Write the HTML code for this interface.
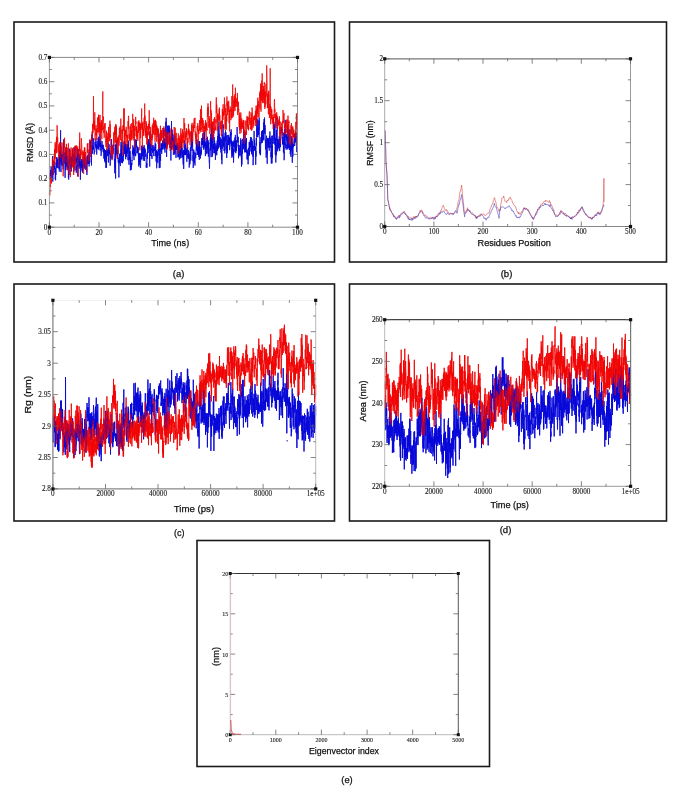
<!DOCTYPE html>
<html><head><meta charset="utf-8"><style>
html,body{margin:0;padding:0;background:#fff;}
svg{display:block;filter:blur(0.3px);}
</style></head><body>
<svg width="685" height="791" viewBox="0 0 685 791">
<rect width="685" height="791" fill="#fff"/>
<rect x="14" y="22" width="320.5" height="240" fill="none" stroke="#1a1a1a" stroke-width="1.6"/>
<rect x="349.5" y="22" width="317.0" height="240" fill="none" stroke="#1a1a1a" stroke-width="1.6"/>
<rect x="14" y="284" width="320.5" height="237" fill="none" stroke="#1a1a1a" stroke-width="1.6"/>
<rect x="349.5" y="284" width="317.0" height="237" fill="none" stroke="#1a1a1a" stroke-width="1.6"/>
<rect x="197" y="540.5" width="292.5" height="226.0" fill="none" stroke="#1a1a1a" stroke-width="1.6"/>
<polyline id="s1" points="49.4,177.9 49.5,176.4 49.7,173.0 49.8,179.6 50.0,176.3 50.1,175.4 50.2,176.0 50.4,176.0 50.5,174.9 50.6,170.5 50.8,174.3 50.9,169.4 51.1,168.1 51.2,166.8 51.3,178.3 51.5,169.9 51.6,170.3 51.7,170.4 51.9,177.4 52.0,171.0 52.2,175.5 52.3,168.9 52.4,166.0 52.6,156.1 52.7,174.7 52.8,181.6 53.0,172.8 53.1,172.9 53.3,174.8 53.4,167.9 53.5,163.8 53.7,173.2 53.8,170.9 54.0,165.5 54.1,163.3 54.2,161.3 54.4,166.5 54.5,169.8 54.6,166.1 54.8,167.7 54.9,171.5 55.1,172.6 55.2,171.0 55.3,179.2 55.5,170.6 55.6,180.3 55.7,168.2 55.9,174.9 56.0,163.1 56.2,162.4 56.3,167.7 56.4,164.3 56.6,165.6 56.7,157.1 56.8,159.3 57.0,168.2 57.1,157.8 57.3,161.7 57.4,160.8 57.5,164.4 57.7,162.7 57.8,167.8 58.0,162.6 58.1,159.7 58.2,163.5 58.4,166.7 58.5,163.7 58.6,164.9 58.8,165.3 58.9,168.6 59.1,158.2 59.2,161.1 59.3,171.5 59.5,155.8 59.6,164.0 59.7,150.3 59.9,161.8 60.0,153.0 60.2,151.7 60.3,157.5 60.4,148.6 60.6,130.2 60.7,160.1 60.8,167.9 61.0,172.1 61.1,157.2 61.3,162.6 61.4,165.2 61.5,154.4 61.7,156.7 61.8,160.4 61.9,154.5 62.1,158.3 62.2,157.9 62.4,157.8 62.5,157.1 62.6,154.0 62.8,166.2 62.9,163.1 63.1,160.9 63.2,169.4 63.3,160.5 63.5,155.3 63.6,151.1 63.7,139.4 63.9,159.7 64.0,161.9 64.2,163.0 64.3,156.4 64.4,158.6 64.6,162.8 64.7,163.7 64.8,163.6 65.0,152.7 65.1,177.8 65.3,152.4 65.4,163.5 65.5,169.9 65.7,161.3 65.8,166.1 65.9,148.1 66.1,163.0 66.2,166.7 66.4,162.2 66.5,151.0 66.6,162.2 66.8,165.4 66.9,161.6 67.1,169.7 67.2,162.5 67.3,164.6 67.5,167.8 67.6,158.5 67.7,156.4 67.9,167.4 68.0,162.2 68.2,159.7 68.3,163.5 68.4,177.6 68.6,173.7 68.7,179.6 68.8,165.4 69.0,163.0 69.1,163.1 69.3,158.4 69.4,164.1 69.5,163.0 69.7,148.6 69.8,160.1 69.9,160.6 70.1,159.0 70.2,161.3 70.4,168.8 70.5,165.0 70.6,167.2 70.8,157.2 70.9,156.0 71.1,162.2 71.2,171.4 71.3,171.6 71.5,162.7 71.6,157.2 71.7,165.1 71.9,165.8 72.0,159.6 72.2,159.0 72.3,153.3 72.4,154.8 72.6,148.6 72.7,161.3 72.8,160.2 73.0,160.9 73.1,154.0 73.3,159.9 73.4,159.2 73.5,160.3 73.7,162.8 73.8,171.9 73.9,158.0 74.1,156.0 74.2,155.4 74.4,157.6 74.5,162.5 74.6,156.6 74.8,146.7 74.9,155.0 75.1,160.9 75.2,161.9 75.3,164.1 75.5,163.6 75.6,157.5 75.7,156.3 75.9,158.9 76.0,170.5 76.2,165.7 76.3,172.8 76.4,163.5 76.6,160.9 76.7,157.8 76.8,162.1 77.0,158.0 77.1,149.0 77.3,160.2 77.4,152.9 77.5,155.9 77.7,158.3 77.8,176.3 77.9,161.7 78.1,167.3 78.2,149.0 78.4,166.0 78.5,162.6 78.6,155.1 78.8,159.5 78.9,156.3 79.1,168.7 79.2,163.9 79.3,153.9 79.5,166.2 79.6,163.0 79.7,166.0 79.9,161.4 80.0,160.6 80.2,156.6 80.3,173.9 80.4,179.7 80.6,167.7 80.7,167.0 80.8,161.6 81.0,165.3 81.1,167.8 81.3,160.6 81.4,159.1 81.5,168.1 81.7,167.3 81.8,161.1 81.9,169.0 82.1,171.0 82.2,159.4 82.4,172.6 82.5,166.9 82.6,166.1 82.8,164.5 82.9,168.7 83.1,165.8 83.2,159.7 83.3,166.1 83.5,165.6 83.6,158.5 83.7,157.0 83.9,156.6 84.0,154.2 84.2,158.5 84.3,168.6 84.4,158.7 84.6,160.9 84.7,166.6 84.8,164.6 85.0,163.7 85.1,157.4 85.3,159.1 85.4,169.7 85.5,167.3 85.7,168.1 85.8,167.1 85.9,165.8 86.1,166.7 86.2,167.3 86.4,160.6 86.5,171.3 86.6,166.7 86.8,163.9 86.9,174.9 87.0,156.4 87.2,158.5 87.3,164.1 87.5,159.3 87.6,155.7 87.7,159.8 87.9,163.9 88.0,156.2 88.2,155.0 88.3,159.9 88.4,161.0 88.6,163.9 88.7,160.2 88.8,162.2 89.0,152.1 89.1,166.4 89.3,161.5 89.4,163.3 89.5,156.4 89.7,158.8 89.8,162.5 89.9,139.9 90.1,152.3 90.2,153.8 90.4,150.7 90.5,141.0 90.6,144.5 90.8,145.1 90.9,146.6 91.0,150.0 91.2,151.0 91.3,153.0 91.5,165.5 91.6,146.0 91.7,148.8 91.9,134.8 92.0,135.7 92.2,138.3 92.3,140.3 92.4,133.7 92.6,153.7 92.7,147.6 92.8,145.8 93.0,150.0 93.1,145.6 93.3,149.2 93.4,138.3 93.5,141.2 93.7,141.8 93.8,146.3 93.9,148.3 94.1,149.8 94.2,154.4 94.4,153.5 94.5,150.9 94.6,150.9 94.8,151.6 94.9,146.9 95.0,141.8 95.2,144.9 95.3,145.2 95.5,144.7 95.6,146.0 95.7,146.7 95.9,138.5 96.0,147.9 96.2,146.5 96.3,149.4 96.4,144.4 96.6,147.8 96.7,154.5 96.8,151.4 97.0,143.7 97.1,141.2 97.3,144.1 97.4,147.0 97.5,148.5 97.7,147.2 97.8,146.0 97.9,148.3 98.1,141.1 98.2,138.0 98.4,149.6 98.5,140.1 98.6,145.5 98.8,136.7 98.9,142.3 99.0,145.0 99.2,139.7 99.3,147.1 99.5,145.0 99.6,144.1 99.7,141.4 99.9,134.6 100.0,148.4 100.2,150.6 100.3,144.2 100.4,141.1 100.6,146.9 100.7,139.4 100.8,139.4 101.0,148.4 101.1,155.9 101.3,153.5 101.4,145.1 101.5,145.0 101.7,148.2 101.8,145.4 101.9,142.7 102.1,141.2 102.2,149.4 102.4,146.3 102.5,146.6 102.6,145.5 102.8,144.6 102.9,149.0 103.0,150.3 103.2,152.2 103.3,145.2 103.5,146.5 103.6,147.0 103.7,153.1 103.9,158.6 104.0,148.6 104.2,152.1 104.3,149.1 104.4,151.0 104.6,161.1 104.7,154.3 104.8,153.4 105.0,152.8 105.1,162.5 105.3,151.8 105.4,151.9 105.5,150.0 105.7,157.4 105.8,150.7 105.9,168.0 106.1,158.8 106.2,155.9 106.4,165.1 106.5,167.6 106.6,158.8 106.8,148.9 106.9,151.1 107.0,155.9 107.2,150.4 107.3,152.5 107.5,153.6 107.6,153.0 107.7,156.1 107.9,150.4 108.0,151.0 108.1,142.7 108.3,151.3 108.4,162.5 108.6,157.4 108.7,148.5 108.8,152.2 109.0,154.8 109.1,144.3 109.3,152.6 109.4,152.9 109.5,153.5 109.7,150.4 109.8,152.2 109.9,158.1 110.1,165.5 110.2,165.7 110.4,164.2 110.5,154.3 110.6,153.8 110.8,153.5 110.9,157.9 111.0,151.5 111.2,149.8 111.3,144.1 111.5,139.1 111.6,139.9 111.7,154.8 111.9,157.9 112.0,159.3 112.1,155.9 112.3,158.1 112.4,156.5 112.6,152.9 112.7,148.6 112.8,146.0 113.0,144.8 113.1,145.6 113.3,147.9 113.4,144.7 113.5,151.4 113.7,149.7 113.8,147.6 113.9,150.2 114.1,153.9 114.2,157.2 114.4,160.4 114.5,160.3 114.6,159.7 114.8,173.3 114.9,159.0 115.0,167.3 115.2,158.7 115.3,144.8 115.5,163.5 115.6,178.6 115.7,153.9 115.9,150.1 116.0,153.8 116.1,143.5 116.3,154.5 116.4,145.2 116.6,140.9 116.7,148.0 116.8,148.3 117.0,154.4 117.1,154.4 117.3,157.3 117.4,149.6 117.5,152.2 117.7,154.1 117.8,150.2 117.9,159.1 118.1,157.7 118.2,162.3 118.4,160.7 118.5,160.2 118.6,161.0 118.8,170.0 118.9,177.5 119.0,158.6 119.2,162.8 119.3,158.7 119.5,154.2 119.6,154.2 119.7,163.4 119.9,160.6 120.0,153.5 120.1,160.8 120.3,166.1 120.4,161.5 120.6,159.0 120.7,156.5 120.8,151.7 121.0,142.0 121.1,156.2 121.3,149.2 121.4,162.8 121.5,145.1 121.7,146.0 121.8,148.5 121.9,144.8 122.1,142.4 122.2,162.4 122.4,157.0 122.5,163.2 122.6,160.0 122.8,162.0 122.9,157.8 123.0,155.9 123.2,160.9 123.3,152.7 123.5,156.8 123.6,149.3 123.7,145.6 123.9,142.5 124.0,141.3 124.1,150.8 124.3,147.5 124.4,149.9 124.6,153.3 124.7,141.3 124.8,150.6 125.0,154.0 125.1,150.9 125.3,155.3 125.4,143.5 125.5,156.1 125.7,159.2 125.8,157.4 125.9,153.6 126.1,153.0 126.2,143.9 126.4,157.0 126.5,149.3 126.6,153.3 126.8,151.5 126.9,153.8 127.0,148.6 127.2,145.6 127.3,152.4 127.5,147.7 127.6,143.7 127.7,144.9 127.9,150.9 128.0,160.2 128.1,148.8 128.3,143.8 128.4,149.6 128.6,140.5 128.7,155.5 128.8,158.8 129.0,164.7 129.1,158.4 129.2,160.1 129.4,155.4 129.5,159.2 129.7,147.7 129.8,158.7 129.9,153.2 130.1,151.1 130.2,153.1 130.4,170.3 130.5,159.4 130.6,157.3 130.8,167.1 130.9,164.5 131.0,164.4 131.2,163.3 131.3,169.9 131.5,163.4 131.6,162.8 131.7,163.2 131.9,165.1 132.0,160.1 132.1,161.1 132.3,152.7 132.4,150.5 132.6,151.7 132.7,154.2 132.8,145.3 133.0,148.5 133.1,152.2 133.2,153.4 133.4,150.6 133.5,147.5 133.7,156.0 133.8,151.2 133.9,159.7 134.1,160.1 134.2,150.2 134.4,154.4 134.5,146.7 134.6,147.7 134.8,150.9 134.9,143.6 135.0,139.4 135.2,146.8 135.3,152.6 135.5,156.2 135.6,153.3 135.7,155.6 135.9,148.7 136.0,139.5 136.1,139.9 136.3,147.3 136.4,140.0 136.6,146.5 136.7,145.5 136.8,149.3 137.0,152.9 137.1,151.5 137.2,153.3 137.4,150.4 137.5,146.7 137.7,151.5 137.8,148.0 137.9,152.5 138.1,147.2 138.2,151.8 138.4,156.3 138.5,158.8 138.6,162.5 138.8,166.5 138.9,153.3 139.0,159.6 139.2,152.9 139.3,165.0 139.5,156.9 139.6,155.1 139.7,159.9 139.9,161.0 140.0,162.3 140.1,153.2 140.3,167.9 140.4,167.9 140.6,167.9 140.7,159.6 140.8,156.1 141.0,160.1 141.1,159.0 141.2,153.5 141.4,155.9 141.5,145.7 141.7,148.1 141.8,159.0 141.9,158.1 142.1,156.4 142.2,153.9 142.4,149.0 142.5,147.3 142.6,156.3 142.8,152.0 142.9,146.4 143.0,150.2 143.2,150.9 143.3,160.5 143.5,155.5 143.6,149.6 143.7,150.3 143.9,147.0 144.0,154.3 144.1,145.0 144.3,147.7 144.4,161.0 144.6,154.2 144.7,153.4 144.8,149.3 145.0,148.4 145.1,152.6 145.2,151.1 145.4,149.7 145.5,151.9 145.7,156.7 145.8,156.1 145.9,154.0 146.1,157.4 146.2,167.7 146.4,165.0 146.5,165.6 146.6,162.8 146.8,163.2 146.9,166.0 147.0,167.7 147.2,152.5 147.3,158.8 147.5,154.2 147.6,141.9 147.7,143.7 147.9,149.1 148.0,145.5 148.1,153.1 148.3,149.9 148.4,139.3 148.6,145.4 148.7,147.5 148.8,139.7 149.0,140.5 149.1,143.2 149.2,146.1 149.4,142.8 149.5,152.4 149.7,166.5 149.8,149.6 149.9,131.6 150.1,141.7 150.2,141.6 150.4,156.0 150.5,149.5 150.6,144.3 150.8,151.0 150.9,143.8 151.0,150.2 151.2,148.2 151.3,148.4 151.5,155.9 151.6,156.6 151.7,154.9 151.9,156.4 152.0,159.0 152.1,145.7 152.3,145.6 152.4,147.1 152.6,148.5 152.7,153.0 152.8,150.7 153.0,151.8 153.1,145.0 153.2,150.3 153.4,150.2 153.5,148.8 153.7,152.9 153.8,156.1 153.9,152.4 154.1,146.6 154.2,149.2 154.3,149.3 154.5,150.2 154.6,149.9 154.8,149.1 154.9,150.7 155.0,148.4 155.2,142.4 155.3,156.2 155.5,154.4 155.6,148.4 155.7,143.9 155.9,150.7 156.0,150.1 156.1,161.5 156.3,158.3 156.4,150.3 156.6,167.4 156.7,168.3 156.8,165.1 157.0,162.5 157.1,156.8 157.2,151.7 157.4,155.0 157.5,157.6 157.7,152.5 157.8,162.8 157.9,151.4 158.1,155.5 158.2,149.1 158.3,151.9 158.5,151.3 158.6,148.4 158.8,147.7 158.9,134.0 159.0,149.3 159.2,149.1 159.3,168.1 159.5,148.2 159.6,150.1 159.7,141.5 159.9,144.4 160.0,167.7 160.1,157.4 160.3,154.1 160.4,157.1 160.6,160.8 160.7,150.6 160.8,148.2 161.0,151.4 161.1,145.2 161.2,143.5 161.4,151.5 161.5,143.4 161.7,153.9 161.8,147.7 161.9,149.4 162.1,145.4 162.2,148.4 162.3,148.7 162.5,146.5 162.6,148.6 162.8,141.1 162.9,149.6 163.0,140.0 163.2,144.5 163.3,146.4 163.5,139.3 163.6,135.6 163.7,128.3 163.9,136.2 164.0,148.5 164.1,141.5 164.3,138.4 164.4,141.1 164.6,149.2 164.7,141.7 164.8,148.6 165.0,152.6 165.1,145.3 165.2,147.7 165.4,142.0 165.5,148.1 165.7,142.7 165.8,121.8 165.9,136.8 166.1,131.9 166.2,117.8 166.3,137.1 166.5,149.7 166.6,156.9 166.8,142.6 166.9,146.6 167.0,136.0 167.2,142.4 167.3,145.6 167.5,130.9 167.6,135.0 167.7,126.1 167.9,130.6 168.0,125.3 168.1,125.6 168.3,132.2 168.4,126.5 168.6,128.5 168.7,132.4 168.8,128.1 169.0,129.3 169.1,131.5 169.2,133.3 169.4,125.7 169.5,141.3 169.7,137.8 169.8,147.8 169.9,141.8 170.1,143.5 170.2,140.4 170.3,143.7 170.5,143.5 170.6,137.8 170.8,149.4 170.9,160.5 171.0,137.2 171.2,140.5 171.3,149.7 171.5,121.0 171.6,137.0 171.7,130.7 171.9,135.6 172.0,130.5 172.1,129.5 172.3,141.7 172.4,138.6 172.6,141.9 172.7,133.9 172.8,136.4 173.0,139.1 173.1,147.7 173.2,138.3 173.4,154.8 173.5,147.1 173.7,144.2 173.8,148.3 173.9,142.8 174.1,134.7 174.2,149.3 174.3,145.7 174.5,144.0 174.6,154.5 174.8,147.5 174.9,153.3 175.0,136.0 175.2,150.5 175.3,148.8 175.4,145.0 175.6,149.0 175.7,150.5 175.9,151.9 176.0,157.9 176.1,148.3 176.3,145.5 176.4,150.0 176.6,144.6 176.7,147.0 176.8,145.1 177.0,148.9 177.1,143.2 177.2,144.3 177.4,149.7 177.5,148.8 177.7,144.9 177.8,146.3 177.9,157.2 178.1,145.6 178.2,151.8 178.3,157.0 178.5,157.0 178.6,151.4 178.8,151.6 178.9,151.4 179.0,152.4 179.2,149.8 179.3,156.8 179.4,159.6 179.6,149.8 179.7,153.6 179.9,148.8 180.0,146.6 180.1,147.9 180.3,143.7 180.4,158.3 180.6,150.4 180.7,155.9 180.8,151.7 181.0,148.3 181.1,153.3 181.2,153.1 181.4,142.7 181.5,149.1 181.7,147.4 181.8,156.0 181.9,157.9 182.1,148.9 182.2,147.8 182.3,152.6 182.5,156.7 182.6,152.6 182.8,153.7 182.9,153.4 183.0,157.1 183.2,164.6 183.3,150.0 183.4,159.5 183.6,155.0 183.7,168.9 183.9,150.7 184.0,151.8 184.1,154.6 184.3,140.2 184.4,144.1 184.6,154.9 184.7,151.8 184.8,154.8 185.0,152.5 185.1,148.4 185.2,146.8 185.4,145.2 185.5,154.7 185.7,150.1 185.8,143.5 185.9,145.8 186.1,148.8 186.2,155.3 186.3,148.6 186.5,153.6 186.6,150.8 186.8,161.8 186.9,156.9 187.0,157.1 187.2,154.9 187.3,152.6 187.4,149.6 187.6,147.3 187.7,151.4 187.9,153.9 188.0,158.0 188.1,153.6 188.3,159.0 188.4,150.1 188.6,151.6 188.7,156.6 188.8,151.6 189.0,155.9 189.1,162.4 189.2,167.5 189.4,164.5 189.5,162.9 189.7,162.0 189.8,154.4 189.9,164.4 190.1,153.9 190.2,149.7 190.3,147.8 190.5,147.3 190.6,147.8 190.8,160.5 190.9,150.0 191.0,147.3 191.2,144.7 191.3,147.6 191.4,146.0 191.6,147.0 191.7,131.7 191.9,145.6 192.0,150.9 192.1,139.0 192.3,139.1 192.4,145.4 192.6,142.2 192.7,151.7 192.8,155.6 193.0,161.2 193.1,155.0 193.2,167.9 193.4,165.0 193.5,160.5 193.7,149.5 193.8,156.1 193.9,154.0 194.1,151.6 194.2,155.1 194.3,163.0 194.5,156.9 194.6,156.6 194.8,161.4 194.9,163.9 195.0,165.5 195.2,152.7 195.3,154.1 195.4,154.7 195.6,154.4 195.7,158.3 195.9,153.7 196.0,154.6 196.1,149.0 196.3,145.7 196.4,139.6 196.5,150.5 196.7,148.4 196.8,145.2 197.0,146.9 197.1,139.5 197.2,144.8 197.4,154.6 197.5,146.3 197.7,148.7 197.8,148.8 197.9,154.8 198.1,149.1 198.2,143.9 198.3,147.7 198.5,155.0 198.6,156.9 198.8,152.0 198.9,141.1 199.0,153.6 199.2,141.5 199.3,159.8 199.4,155.1 199.6,143.9 199.7,141.5 199.9,151.7 200.0,148.6 200.1,146.8 200.3,150.4 200.4,158.5 200.5,150.9 200.7,155.6 200.8,151.7 201.0,151.9 201.1,153.2 201.2,154.6 201.4,149.5 201.5,153.1 201.7,138.0 201.8,145.0 201.9,142.5 202.1,141.0 202.2,142.9 202.3,145.0 202.5,142.6 202.6,137.9 202.8,139.8 202.9,133.2 203.0,142.2 203.2,147.8 203.3,135.0 203.4,139.1 203.6,140.9 203.7,149.7 203.9,137.2 204.0,138.3 204.1,132.4 204.3,140.6 204.4,147.0 204.5,131.7 204.7,146.9 204.8,145.2 205.0,147.5 205.1,148.5 205.2,141.5 205.4,156.1 205.5,142.5 205.7,150.2 205.8,149.4 205.9,142.6 206.1,145.9 206.2,141.9 206.3,138.5 206.5,147.1 206.6,145.3 206.8,154.2 206.9,145.6 207.0,153.0 207.2,144.4 207.3,147.3 207.4,136.8 207.6,145.8 207.7,141.2 207.9,145.9 208.0,149.4 208.1,140.2 208.3,143.9 208.4,156.7 208.5,142.8 208.7,153.8 208.8,147.8 209.0,149.7 209.1,159.6 209.2,162.3 209.4,163.5 209.5,168.8 209.7,157.7 209.8,154.9 209.9,155.0 210.1,142.7 210.2,143.9 210.3,138.7 210.5,150.6 210.6,134.0 210.8,150.4 210.9,138.0 211.0,148.7 211.2,157.1 211.3,145.6 211.4,127.7 211.6,138.7 211.7,147.4 211.9,145.8 212.0,137.4 212.1,123.8 212.3,142.7 212.4,141.2 212.5,156.6 212.7,147.2 212.8,148.7 213.0,134.8 213.1,147.8 213.2,144.4 213.4,149.0 213.5,144.6 213.7,149.2 213.8,151.6 213.9,153.3 214.1,136.8 214.2,137.8 214.3,139.3 214.5,153.1 214.6,140.5 214.8,150.3 214.9,145.6 215.0,148.0 215.2,143.4 215.3,153.8 215.4,159.9 215.6,156.2 215.7,147.8 215.9,151.4 216.0,150.1 216.1,154.5 216.3,151.5 216.4,151.4 216.5,145.8 216.7,154.5 216.8,155.2 217.0,143.3 217.1,149.5 217.2,140.5 217.4,147.2 217.5,150.9 217.7,150.1 217.8,136.0 217.9,143.9 218.1,126.5 218.2,142.8 218.3,148.7 218.5,144.5 218.6,147.3 218.8,134.4 218.9,134.7 219.0,121.6 219.2,141.5 219.3,133.8 219.4,140.5 219.6,144.2 219.7,145.2 219.9,138.5 220.0,147.2 220.1,137.1 220.3,147.6 220.4,147.4 220.5,149.2 220.7,139.7 220.8,147.3 221.0,152.6 221.1,148.2 221.2,138.9 221.4,153.3 221.5,159.7 221.6,153.4 221.8,156.4 221.9,164.2 222.1,151.8 222.2,134.0 222.3,148.8 222.5,148.0 222.6,139.1 222.8,135.5 222.9,129.4 223.0,126.7 223.2,127.6 223.3,124.4 223.4,146.7 223.6,141.5 223.7,139.2 223.9,136.7 224.0,143.9 224.1,151.0 224.3,138.4 224.4,141.6 224.5,138.8 224.7,136.8 224.8,153.3 225.0,144.1 225.1,132.8 225.2,140.0 225.4,140.4 225.5,130.3 225.6,136.8 225.8,136.2 225.9,132.3 226.1,149.8 226.2,150.3 226.3,135.6 226.5,151.3 226.6,157.8 226.8,157.9 226.9,149.8 227.0,151.0 227.2,149.8 227.3,143.9 227.4,153.2 227.6,145.6 227.7,135.0 227.9,137.3 228.0,145.2 228.1,140.1 228.3,142.0 228.4,138.5 228.5,144.8 228.7,134.9 228.8,141.8 229.0,139.9 229.1,144.6 229.2,137.8 229.4,140.0 229.5,136.9 229.6,150.2 229.8,147.7 229.9,146.7 230.1,146.6 230.2,137.3 230.3,132.0 230.5,132.2 230.6,143.4 230.8,139.3 230.9,132.4 231.0,135.3 231.2,129.4 231.3,142.9 231.4,146.1 231.6,140.4 231.7,145.2 231.9,157.7 232.0,146.9 232.1,154.1 232.3,141.9 232.4,156.3 232.5,141.6 232.7,142.2 232.8,146.1 233.0,142.7 233.1,142.5 233.2,154.2 233.4,148.9 233.5,162.7 233.6,161.0 233.8,152.8 233.9,140.5 234.1,147.0 234.2,141.3 234.3,142.7 234.5,146.2 234.6,147.1 234.8,138.2 234.9,137.5 235.0,151.8 235.2,144.8 235.3,152.0 235.4,134.9 235.6,147.2 235.7,153.1 235.9,153.0 236.0,143.2 236.1,147.9 236.3,145.0 236.4,140.3 236.5,151.1 236.7,144.4 236.8,146.5 237.0,139.3 237.1,127.0 237.2,133.7 237.4,133.6 237.5,141.4 237.6,142.2 237.8,136.8 237.9,142.5 238.1,136.8 238.2,141.1 238.3,141.1 238.5,158.3 238.6,144.9 238.8,151.2 238.9,149.6 239.0,148.5 239.2,145.1 239.3,147.5 239.4,151.1 239.6,148.1 239.7,155.3 239.9,150.4 240.0,156.3 240.1,155.3 240.3,154.4 240.4,150.4 240.5,151.9 240.7,138.4 240.8,152.5 241.0,140.1 241.1,147.1 241.2,149.3 241.4,159.5 241.5,166.6 241.6,152.9 241.8,161.9 241.9,164.6 242.1,159.0 242.2,143.7 242.3,153.9 242.5,150.9 242.6,141.1 242.7,138.8 242.9,146.7 243.0,147.2 243.2,147.5 243.3,147.0 243.4,149.3 243.6,126.3 243.7,141.0 243.9,145.0 244.0,141.1 244.1,148.0 244.3,144.5 244.4,140.5 244.5,145.9 244.7,152.4 244.8,145.6 245.0,145.9 245.1,132.1 245.2,141.6 245.4,151.8 245.5,151.3 245.6,141.9 245.8,152.2 245.9,148.7 246.1,143.9 246.2,139.5 246.3,142.1 246.5,138.0 246.6,152.7 246.7,150.1 246.9,150.9 247.0,159.4 247.2,149.7 247.3,152.3 247.4,152.2 247.6,159.4 247.7,157.5 247.9,153.8 248.0,152.1 248.1,164.3 248.3,155.5 248.4,148.2 248.5,149.0 248.7,147.7 248.8,151.5 249.0,151.9 249.1,156.0 249.2,142.2 249.4,148.0 249.5,154.4 249.6,150.7 249.8,142.1 249.9,151.0 250.1,151.4 250.2,140.1 250.3,142.8 250.5,145.2 250.6,147.3 250.7,137.0 250.9,142.1 251.0,145.1 251.2,143.1 251.3,137.5 251.4,148.5 251.6,154.3 251.7,138.8 251.9,140.2 252.0,144.7 252.1,151.7 252.3,141.1 252.4,144.0 252.5,146.2 252.7,148.3 252.8,156.7 253.0,146.8 253.1,165.2 253.2,160.1 253.4,157.4 253.5,154.2 253.6,149.7 253.8,145.7 253.9,148.4 254.1,130.9 254.2,143.6 254.3,150.2 254.5,139.8 254.6,145.3 254.7,143.2 254.9,147.3 255.0,150.8 255.2,146.2 255.3,151.1 255.4,146.9 255.6,149.8 255.7,164.8 255.9,151.0 256.0,156.5 256.1,150.2 256.3,138.0 256.4,145.5 256.5,137.3 256.7,118.6 256.8,124.5 257.0,131.4 257.1,128.7 257.2,136.9 257.4,127.9 257.5,127.0 257.6,119.6 257.8,137.3 257.9,133.7 258.1,129.9 258.2,129.1 258.3,135.0 258.5,127.6 258.6,135.0 258.7,132.3 258.9,120.4 259.0,130.1 259.2,117.5 259.3,132.8 259.4,132.8 259.6,134.6 259.7,153.3 259.9,148.7 260.0,142.0 260.1,154.5 260.3,153.7 260.4,149.4 260.5,155.2 260.7,145.8 260.8,139.4 261.0,137.5 261.1,137.0 261.2,143.3 261.4,137.7 261.5,139.5 261.6,131.4 261.8,142.0 261.9,136.6 262.1,133.0 262.2,131.0 262.3,142.9 262.5,130.1 262.6,138.6 262.7,140.1 262.9,136.7 263.0,137.2 263.2,139.2 263.3,137.8 263.4,135.9 263.6,127.5 263.7,122.5 263.8,140.4 264.0,123.7 264.1,119.2 264.3,123.4 264.4,131.7 264.5,117.6 264.7,126.7 264.8,133.9 265.0,125.1 265.1,129.1 265.2,128.6 265.4,143.5 265.5,149.5 265.6,141.7 265.8,143.4 265.9,139.6 266.1,150.6 266.2,157.7 266.3,139.7 266.5,136.7 266.6,135.7 266.7,142.8 266.9,154.3 267.0,150.8 267.2,163.8 267.3,157.3 267.4,149.5 267.6,138.0 267.7,147.3 267.8,147.6 268.0,138.5 268.1,143.2 268.3,138.5 268.4,140.2 268.5,142.2 268.7,146.0 268.8,147.8 269.0,141.6 269.1,146.1 269.2,150.7 269.4,136.4 269.5,139.4 269.6,139.0 269.8,138.6 269.9,131.5 270.1,147.9 270.2,138.5 270.3,137.7 270.5,143.9 270.6,140.9 270.7,139.5 270.9,149.1 271.0,157.1 271.2,151.9 271.3,163.4 271.4,143.2 271.6,142.7 271.7,135.8 271.8,148.1 272.0,163.4 272.1,145.1 272.3,157.9 272.4,150.7 272.5,137.4 272.7,135.6 272.8,137.7 273.0,143.6 273.1,142.2 273.2,143.4 273.4,140.6 273.5,130.2 273.6,123.9 273.8,130.1 273.9,121.8 274.1,135.9 274.2,140.7 274.3,128.4 274.5,131.8 274.6,135.1 274.7,144.6 274.9,124.3 275.0,132.1 275.2,142.3 275.3,154.5 275.4,138.1 275.6,146.8 275.7,149.3 275.8,162.5 276.0,147.0 276.1,142.3 276.3,155.3 276.4,129.9 276.5,141.4 276.7,139.3 276.8,133.5 277.0,133.0 277.1,117.6 277.2,129.1 277.4,148.3 277.5,139.2 277.6,151.3 277.8,147.5 277.9,149.3 278.1,143.6 278.2,138.9 278.3,139.1 278.5,146.3 278.6,146.9 278.7,141.9 278.9,148.0 279.0,140.5 279.2,140.0 279.3,136.1 279.4,145.4 279.6,150.0 279.7,151.1 279.8,140.1 280.0,138.9 280.1,144.7 280.3,141.6 280.4,138.1 280.5,147.2 280.7,142.1 280.8,138.9 281.0,136.7 281.1,130.3 281.2,131.2 281.4,127.2 281.5,130.9 281.6,129.6 281.8,130.8 281.9,129.2 282.1,130.3 282.2,138.1 282.3,137.6 282.5,141.5 282.6,144.4 282.7,144.3 282.9,137.3 283.0,139.6 283.2,144.4 283.3,132.6 283.4,152.1 283.6,148.9 283.7,141.9 283.8,153.2 284.0,152.2 284.1,160.2 284.3,156.0 284.4,149.6 284.5,129.9 284.7,144.8 284.8,129.1 285.0,132.4 285.1,137.9 285.2,119.9 285.4,140.5 285.5,141.3 285.6,145.4 285.8,148.1 285.9,144.3 286.1,147.3 286.2,149.7 286.3,143.7 286.5,134.4 286.6,139.5 286.7,140.4 286.9,138.2 287.0,138.0 287.2,133.4 287.3,143.6 287.4,149.3 287.6,131.6 287.7,125.8 287.8,135.5 288.0,146.6 288.1,138.2 288.3,137.4 288.4,148.4 288.5,130.4 288.7,132.5 288.8,138.4 288.9,139.3 289.1,142.5 289.2,144.8 289.4,150.0 289.5,147.5 289.6,144.3 289.8,149.8 289.9,129.3 290.1,144.9 290.2,145.6 290.3,154.3 290.5,145.8 290.6,152.4 290.7,142.4 290.9,156.8 291.0,153.4 291.2,149.2 291.3,148.3 291.4,136.1 291.6,141.7 291.7,147.4 291.8,138.8 292.0,150.5 292.1,147.0 292.3,162.8 292.4,148.2 292.5,142.1 292.7,141.0 292.8,150.7 292.9,156.5 293.1,144.3 293.2,144.9 293.4,144.5 293.5,147.1 293.6,145.0 293.8,141.0 293.9,138.4 294.1,136.7 294.2,136.9 294.3,134.4 294.5,135.0 294.6,139.5 294.7,146.0 294.9,140.3 295.0,133.7 295.2,141.9 295.3,134.3 295.4,142.8 295.6,141.6 295.7,140.3 295.8,137.1 296.0,132.3 296.1,132.6 296.3,136.7 296.4,136.2 296.5,145.5 296.7,149.9 296.8,152.1 296.9,150.7 297.1,149.4 297.2,147.0 297.4,150.2 297.5,151.2" fill="none" stroke="#0808d8" stroke-width="0.8" stroke-linejoin="bevel" opacity="1"/>
<polyline id="s2" points="49.4,194.3 49.5,191.5 49.7,194.2 49.8,195.4 50.0,192.5 50.1,184.6 50.2,187.0 50.4,184.9 50.5,182.9 50.6,177.2 50.8,178.6 50.9,177.6 51.1,183.5 51.2,182.7 51.3,177.4 51.5,183.2 51.6,170.6 51.7,174.7 51.9,174.1 52.0,176.2 52.2,172.6 52.3,172.2 52.4,158.1 52.6,164.5 52.7,164.9 52.8,167.2 53.0,162.6 53.1,159.6 53.3,174.0 53.4,174.7 53.5,164.4 53.7,160.8 53.8,165.4 54.0,158.2 54.1,156.0 54.2,155.5 54.4,158.9 54.5,149.0 54.6,160.1 54.8,159.7 54.9,164.3 55.1,142.3 55.2,158.8 55.3,150.3 55.5,152.0 55.6,151.4 55.7,149.2 55.9,144.3 56.0,153.3 56.2,146.0 56.3,140.5 56.4,152.5 56.6,153.1 56.7,136.8 56.8,144.2 57.0,142.1 57.1,125.2 57.3,137.9 57.4,141.3 57.5,141.0 57.7,137.6 57.8,141.1 58.0,152.5 58.1,146.1 58.2,144.3 58.4,146.7 58.5,158.4 58.6,166.9 58.8,155.1 58.9,156.9 59.1,150.9 59.2,145.9 59.3,144.8 59.5,146.5 59.6,142.5 59.7,157.2 59.9,151.8 60.0,147.3 60.2,150.4 60.3,147.3 60.4,151.3 60.6,151.4 60.7,150.4 60.8,142.2 61.0,153.0 61.1,158.3 61.3,155.8 61.4,153.0 61.5,150.2 61.7,146.5 61.8,151.5 61.9,154.4 62.1,142.6 62.2,153.7 62.4,151.8 62.5,151.5 62.6,152.6 62.8,157.2 62.9,160.0 63.1,156.1 63.2,176.3 63.3,163.6 63.5,157.5 63.6,157.8 63.7,160.3 63.9,142.2 64.0,140.2 64.2,147.7 64.3,147.7 64.4,139.2 64.6,137.7 64.7,159.0 64.8,163.6 65.0,160.3 65.1,154.6 65.3,151.8 65.4,155.1 65.5,151.3 65.7,147.0 65.8,148.8 65.9,153.4 66.1,154.6 66.2,155.7 66.4,143.9 66.5,147.9 66.6,155.2 66.8,146.9 66.9,160.8 67.1,163.1 67.2,162.2 67.3,170.3 67.5,159.4 67.6,148.2 67.7,152.0 67.9,159.0 68.0,159.3 68.2,152.5 68.3,150.3 68.4,143.3 68.6,165.7 68.7,155.2 68.8,155.3 69.0,159.3 69.1,158.3 69.3,161.9 69.4,175.0 69.5,163.0 69.7,151.9 69.8,154.9 69.9,155.8 70.1,150.8 70.2,149.6 70.4,177.1 70.5,157.5 70.6,157.8 70.8,170.8 70.9,154.9 71.1,147.4 71.2,148.6 71.3,152.2 71.5,161.5 71.6,163.2 71.7,160.8 71.9,162.1 72.0,164.5 72.2,163.1 72.3,160.9 72.4,166.5 72.6,148.7 72.7,153.6 72.8,167.6 73.0,152.5 73.1,158.8 73.3,153.6 73.4,147.4 73.5,157.9 73.7,174.9 73.8,158.9 73.9,171.0 74.1,153.9 74.2,153.0 74.4,153.9 74.5,169.4 74.6,158.6 74.8,157.4 74.9,161.1 75.1,146.6 75.2,162.0 75.3,145.5 75.5,165.2 75.6,153.8 75.7,146.0 75.9,154.3 76.0,157.1 76.2,148.8 76.3,149.5 76.4,148.0 76.6,145.4 76.7,146.6 76.8,149.6 77.0,149.0 77.1,147.9 77.3,152.7 77.4,151.1 77.5,154.4 77.7,146.5 77.8,149.7 77.9,153.5 78.1,176.9 78.2,157.2 78.4,152.4 78.5,158.7 78.6,153.1 78.8,150.2 78.9,153.5 79.1,153.2 79.2,158.9 79.3,149.1 79.5,140.8 79.6,151.1 79.7,132.6 79.9,150.1 80.0,149.9 80.2,152.4 80.3,160.6 80.4,149.3 80.6,149.9 80.7,158.7 80.8,155.3 81.0,152.1 81.1,155.4 81.3,143.4 81.4,138.2 81.5,142.5 81.7,144.1 81.8,145.1 81.9,152.4 82.1,153.5 82.2,151.4 82.4,158.1 82.5,159.2 82.6,158.8 82.8,160.6 82.9,152.6 83.1,150.5 83.2,164.1 83.3,160.6 83.5,152.1 83.6,173.8 83.7,153.3 83.9,157.0 84.0,154.4 84.2,164.5 84.3,160.2 84.4,147.4 84.6,164.0 84.7,155.3 84.8,147.6 85.0,152.0 85.1,156.5 85.3,156.4 85.4,164.7 85.5,152.1 85.7,164.0 85.8,169.1 85.9,161.3 86.1,157.8 86.2,162.0 86.4,168.1 86.5,161.6 86.6,169.8 86.8,171.9 86.9,160.3 87.0,150.3 87.2,148.6 87.3,143.8 87.5,146.3 87.6,152.8 87.7,148.0 87.9,143.0 88.0,151.7 88.2,149.6 88.3,153.6 88.4,157.0 88.6,161.9 88.7,156.3 88.8,161.0 89.0,159.8 89.1,156.2 89.3,159.4 89.4,150.9 89.5,151.4 89.7,148.5 89.8,142.6 89.9,139.6 90.1,150.4 90.2,152.4 90.4,155.2 90.5,157.0 90.6,156.4 90.8,156.9 90.9,150.9 91.0,146.2 91.2,153.4 91.3,138.9 91.5,138.0 91.6,151.0 91.7,143.3 91.9,140.0 92.0,132.9 92.2,131.4 92.3,140.0 92.4,133.2 92.6,123.8 92.7,128.5 92.8,133.3 93.0,131.1 93.1,131.8 93.3,129.6 93.4,117.4 93.5,96.2 93.7,129.4 93.8,124.4 93.9,120.7 94.1,128.7 94.2,125.1 94.4,125.7 94.5,121.4 94.6,130.2 94.8,112.3 94.9,124.0 95.0,140.6 95.2,136.8 95.3,133.7 95.5,134.0 95.6,134.4 95.7,128.9 95.9,130.1 96.0,125.1 96.2,136.2 96.3,133.1 96.4,134.2 96.6,129.9 96.7,134.2 96.8,139.9 97.0,128.1 97.1,130.4 97.3,132.3 97.4,122.8 97.5,117.4 97.7,123.7 97.8,123.9 97.9,124.2 98.1,132.3 98.2,123.4 98.4,125.8 98.5,114.8 98.6,123.6 98.8,114.8 98.9,132.3 99.0,119.5 99.2,135.2 99.3,130.9 99.5,127.3 99.6,123.0 99.7,122.7 99.9,129.1 100.0,115.0 100.2,128.7 100.3,142.6 100.4,136.2 100.6,125.2 100.7,127.8 100.8,130.3 101.0,122.9 101.1,132.4 101.3,122.0 101.4,126.8 101.5,120.2 101.7,122.5 101.8,139.0 101.9,125.1 102.1,121.3 102.2,120.6 102.4,130.3 102.5,129.8 102.6,114.5 102.8,91.4 102.9,115.4 103.0,116.5 103.2,120.4 103.3,116.8 103.5,116.7 103.6,128.8 103.7,126.6 103.9,133.1 104.0,128.2 104.2,137.7 104.3,128.5 104.4,123.8 104.6,126.5 104.7,126.6 104.8,127.5 105.0,128.4 105.1,123.0 105.3,131.4 105.4,133.5 105.5,142.1 105.7,143.0 105.8,144.9 105.9,147.1 106.1,144.3 106.2,141.3 106.4,130.6 106.5,142.2 106.6,139.8 106.8,150.9 106.9,138.6 107.0,139.1 107.2,132.7 107.3,142.0 107.5,136.7 107.6,137.7 107.7,143.5 107.9,142.8 108.0,147.1 108.1,148.6 108.3,145.9 108.4,143.8 108.6,126.9 108.7,138.8 108.8,134.7 109.0,141.3 109.1,138.5 109.3,140.5 109.4,140.7 109.5,133.6 109.7,134.1 109.8,137.2 109.9,120.6 110.1,137.3 110.2,124.3 110.4,137.0 110.5,138.1 110.6,138.7 110.8,147.1 110.9,155.3 111.0,146.1 111.2,147.8 111.3,147.2 111.5,151.1 111.6,146.8 111.7,154.8 111.9,151.0 112.0,160.2 112.1,149.9 112.3,153.1 112.4,156.9 112.6,146.0 112.7,153.5 112.8,152.8 113.0,149.8 113.1,154.2 113.3,144.7 113.4,145.3 113.5,147.5 113.7,132.3 113.8,146.1 113.9,145.9 114.1,146.3 114.2,137.6 114.4,134.3 114.5,130.5 114.6,135.1 114.8,126.7 114.9,131.8 115.0,138.7 115.2,142.7 115.3,136.0 115.5,142.3 115.6,135.8 115.7,124.2 115.9,134.9 116.0,124.6 116.1,137.4 116.3,130.2 116.4,126.4 116.6,134.7 116.7,143.7 116.8,141.0 117.0,137.9 117.1,139.0 117.3,158.9 117.4,147.1 117.5,139.4 117.7,141.8 117.8,142.5 117.9,136.9 118.1,148.3 118.2,154.1 118.4,142.2 118.5,138.3 118.6,141.5 118.8,143.1 118.9,135.4 119.0,145.9 119.2,138.1 119.3,128.0 119.5,127.9 119.6,130.7 119.7,136.7 119.9,137.2 120.0,136.2 120.1,126.3 120.3,132.0 120.4,140.2 120.6,138.0 120.7,130.6 120.8,118.6 121.0,128.0 121.1,133.4 121.3,139.3 121.4,142.2 121.5,139.5 121.7,141.6 121.8,141.7 121.9,129.5 122.1,133.8 122.2,131.5 122.4,129.6 122.5,134.5 122.6,136.0 122.8,155.7 122.9,131.5 123.0,125.6 123.2,130.7 123.3,125.2 123.5,129.1 123.6,120.7 123.7,121.2 123.9,108.5 124.0,130.8 124.1,108.5 124.3,133.2 124.4,137.4 124.6,133.6 124.7,144.1 124.8,129.7 125.0,143.4 125.1,144.8 125.3,135.1 125.4,131.1 125.5,132.6 125.7,129.8 125.8,136.0 125.9,133.9 126.1,127.0 126.2,126.8 126.4,130.0 126.5,130.9 126.6,137.5 126.8,134.6 126.9,144.3 127.0,147.4 127.2,135.7 127.3,143.0 127.5,135.1 127.6,138.3 127.7,140.3 127.9,131.9 128.0,124.0 128.1,121.2 128.3,128.8 128.4,117.5 128.6,115.8 128.7,117.9 128.8,131.9 129.0,132.9 129.1,138.8 129.2,133.9 129.4,138.4 129.5,138.3 129.7,140.8 129.8,140.4 129.9,136.5 130.1,126.3 130.2,137.8 130.4,148.6 130.5,129.8 130.6,127.8 130.8,125.7 130.9,124.1 131.0,134.5 131.2,140.3 131.3,140.3 131.5,130.7 131.6,138.1 131.7,135.8 131.9,123.0 132.0,139.7 132.1,135.8 132.3,133.5 132.4,128.4 132.6,127.2 132.7,113.9 132.8,117.3 133.0,127.9 133.1,125.3 133.2,138.2 133.4,134.1 133.5,128.7 133.7,119.3 133.8,129.1 133.9,140.6 134.1,136.5 134.2,125.7 134.4,145.8 134.5,148.4 134.6,131.7 134.8,127.1 134.9,127.7 135.0,130.9 135.2,129.4 135.3,127.3 135.5,122.6 135.6,118.0 135.7,116.8 135.9,123.4 136.0,121.7 136.1,135.8 136.3,126.4 136.4,136.9 136.6,127.6 136.7,127.2 136.8,139.4 137.0,129.6 137.1,131.4 137.2,131.0 137.4,131.0 137.5,136.2 137.7,133.9 137.8,140.9 137.9,133.2 138.1,121.6 138.2,125.3 138.4,133.1 138.5,129.5 138.6,122.3 138.8,128.0 138.9,120.3 139.0,131.0 139.2,123.7 139.3,122.4 139.5,127.8 139.6,129.1 139.7,127.7 139.9,150.4 140.0,129.1 140.1,124.1 140.3,127.3 140.4,126.3 140.6,138.2 140.7,126.9 140.8,122.8 141.0,130.0 141.1,124.7 141.2,123.0 141.4,122.9 141.5,118.7 141.7,108.5 141.8,128.2 141.9,124.4 142.1,123.4 142.2,130.4 142.4,147.9 142.5,125.1 142.6,123.7 142.8,128.9 142.9,126.5 143.0,121.6 143.2,126.6 143.3,136.1 143.5,129.9 143.6,133.7 143.7,128.6 143.9,131.3 144.0,130.8 144.1,117.9 144.3,124.1 144.4,124.1 144.6,120.1 144.7,103.5 144.8,128.8 145.0,115.6 145.1,126.8 145.2,135.6 145.4,128.7 145.5,129.7 145.7,133.2 145.8,136.3 145.9,137.8 146.1,121.2 146.2,123.4 146.4,137.9 146.5,123.5 146.6,135.2 146.8,144.5 146.9,135.1 147.0,136.3 147.2,131.2 147.3,144.3 147.5,131.8 147.6,135.2 147.7,126.0 147.9,128.7 148.0,128.3 148.1,130.3 148.3,127.0 148.4,123.7 148.6,135.3 148.7,131.9 148.8,130.1 149.0,125.5 149.1,128.5 149.2,110.2 149.4,127.3 149.5,120.3 149.7,129.1 149.8,136.9 149.9,141.8 150.1,136.1 150.2,137.4 150.4,136.8 150.5,140.2 150.6,127.1 150.8,134.4 150.9,144.4 151.0,134.9 151.2,133.9 151.3,137.5 151.5,138.2 151.6,138.7 151.7,135.6 151.9,146.8 152.0,135.5 152.1,140.2 152.3,125.0 152.4,132.3 152.6,137.7 152.7,131.1 152.8,127.9 153.0,127.0 153.1,123.2 153.2,127.3 153.4,123.6 153.5,133.2 153.7,117.8 153.8,134.5 153.9,133.3 154.1,134.5 154.2,132.5 154.3,120.3 154.5,128.0 154.6,122.6 154.8,135.8 154.9,135.6 155.0,141.7 155.2,139.1 155.3,124.3 155.5,119.8 155.6,134.9 155.7,130.3 155.9,125.3 156.0,121.3 156.1,130.9 156.3,124.8 156.4,137.3 156.6,136.8 156.7,141.8 156.8,131.3 157.0,125.8 157.1,128.3 157.2,134.5 157.4,127.8 157.5,129.9 157.7,133.3 157.8,136.9 157.9,128.0 158.1,142.6 158.2,143.8 158.3,129.1 158.5,130.7 158.6,144.4 158.8,143.5 158.9,148.4 159.0,140.5 159.2,149.3 159.3,149.0 159.5,145.0 159.6,137.9 159.7,147.0 159.9,141.2 160.0,141.7 160.1,132.6 160.3,141.2 160.4,125.7 160.6,140.3 160.7,134.0 160.8,141.1 161.0,132.3 161.1,134.9 161.2,130.1 161.4,140.3 161.5,132.1 161.7,134.3 161.8,133.6 161.9,130.0 162.1,138.3 162.2,132.0 162.3,128.2 162.5,128.5 162.6,128.8 162.8,128.3 162.9,137.9 163.0,132.9 163.2,141.8 163.3,139.8 163.5,142.5 163.6,143.5 163.7,138.4 163.9,126.3 164.0,130.1 164.1,128.4 164.3,131.9 164.4,131.2 164.6,136.1 164.7,130.1 164.8,135.6 165.0,131.1 165.1,138.6 165.2,139.9 165.4,142.4 165.5,141.7 165.7,134.4 165.8,139.6 165.9,132.6 166.1,144.2 166.2,134.9 166.3,135.6 166.5,148.1 166.6,139.8 166.8,142.1 166.9,132.0 167.0,139.3 167.2,149.2 167.3,142.4 167.5,146.7 167.6,137.0 167.7,137.4 167.9,131.7 168.0,142.2 168.1,141.7 168.3,141.7 168.4,144.5 168.6,136.2 168.7,132.0 168.8,142.1 169.0,136.5 169.1,141.8 169.2,144.4 169.4,143.8 169.5,136.8 169.7,138.4 169.8,137.1 169.9,147.8 170.1,141.4 170.2,151.0 170.3,135.2 170.5,149.6 170.6,130.3 170.8,129.6 170.9,128.5 171.0,128.5 171.2,134.1 171.3,134.3 171.5,135.3 171.6,131.8 171.7,138.9 171.9,147.8 172.0,148.1 172.1,149.8 172.3,145.6 172.4,141.4 172.6,143.7 172.7,142.1 172.8,147.3 173.0,141.4 173.1,144.5 173.2,139.8 173.4,143.9 173.5,152.5 173.7,151.8 173.8,150.3 173.9,151.0 174.1,145.5 174.2,127.0 174.3,134.5 174.5,136.0 174.6,134.3 174.8,141.0 174.9,132.9 175.0,139.8 175.2,127.7 175.3,132.6 175.4,138.3 175.6,138.6 175.7,140.5 175.9,143.3 176.0,145.1 176.1,143.5 176.3,132.8 176.4,141.5 176.6,139.4 176.7,142.9 176.8,146.8 177.0,138.2 177.1,141.9 177.2,142.4 177.4,147.2 177.5,147.7 177.7,149.4 177.8,149.6 177.9,142.5 178.1,154.0 178.2,138.4 178.3,133.4 178.5,144.9 178.6,145.1 178.8,149.1 178.9,142.5 179.0,137.4 179.2,139.7 179.3,140.7 179.4,149.5 179.6,152.6 179.7,142.4 179.9,135.5 180.0,145.1 180.1,138.9 180.3,145.8 180.4,149.7 180.6,137.2 180.7,134.9 180.8,128.3 181.0,143.3 181.1,139.1 181.2,147.8 181.4,133.5 181.5,143.6 181.7,140.1 181.8,134.4 181.9,134.9 182.1,138.0 182.2,142.8 182.3,131.7 182.5,132.5 182.6,129.2 182.8,138.3 182.9,147.5 183.0,135.5 183.2,142.9 183.3,132.2 183.4,135.5 183.6,138.0 183.7,135.5 183.9,120.8 184.0,118.0 184.1,123.4 184.3,129.1 184.4,130.3 184.6,130.2 184.7,123.2 184.8,139.8 185.0,139.5 185.1,131.0 185.2,143.6 185.4,134.8 185.5,133.7 185.7,132.8 185.8,136.2 185.9,140.1 186.1,132.9 186.2,137.2 186.3,128.3 186.5,130.4 186.6,128.9 186.8,134.8 186.9,130.8 187.0,140.9 187.2,144.0 187.3,141.2 187.4,141.3 187.6,148.3 187.7,138.7 187.9,137.9 188.0,142.5 188.1,130.3 188.3,131.9 188.4,123.9 188.6,133.4 188.7,134.0 188.8,128.6 189.0,128.8 189.1,135.5 189.2,130.6 189.4,138.7 189.5,133.7 189.7,136.3 189.8,132.7 189.9,137.0 190.1,145.1 190.2,137.7 190.3,136.2 190.5,136.3 190.6,131.6 190.8,131.4 190.9,131.1 191.0,141.9 191.2,139.9 191.3,137.4 191.4,130.5 191.6,124.8 191.7,138.5 191.9,126.4 192.0,127.9 192.1,122.8 192.3,128.1 192.4,137.1 192.6,132.3 192.7,141.9 192.8,135.4 193.0,131.5 193.1,129.4 193.2,124.8 193.4,129.1 193.5,125.9 193.7,132.0 193.8,123.4 193.9,124.0 194.1,119.7 194.2,118.4 194.3,125.4 194.5,126.3 194.6,128.0 194.8,121.2 194.9,120.3 195.0,117.8 195.2,134.4 195.3,133.7 195.4,136.0 195.6,138.6 195.7,131.6 195.9,141.0 196.0,140.2 196.1,144.3 196.3,136.3 196.4,142.9 196.5,133.8 196.7,135.4 196.8,136.9 197.0,131.2 197.1,130.7 197.2,126.1 197.4,130.6 197.5,128.9 197.7,123.9 197.8,123.2 197.9,127.8 198.1,128.2 198.2,146.7 198.3,129.7 198.5,132.9 198.6,132.3 198.8,131.3 198.9,134.1 199.0,125.7 199.2,126.8 199.3,130.9 199.4,128.5 199.6,125.7 199.7,120.2 199.9,126.6 200.0,130.2 200.1,120.7 200.3,123.2 200.4,115.4 200.5,109.2 200.7,132.3 200.8,127.4 201.0,130.0 201.1,128.8 201.2,116.4 201.4,124.5 201.5,105.6 201.7,120.4 201.8,127.0 201.9,129.5 202.1,130.3 202.2,131.9 202.3,125.1 202.5,127.3 202.6,118.0 202.8,122.1 202.9,121.7 203.0,128.5 203.2,120.3 203.3,129.3 203.4,137.3 203.6,133.8 203.7,140.4 203.9,127.3 204.0,132.1 204.1,129.7 204.3,126.1 204.4,129.1 204.5,126.0 204.7,129.7 204.8,131.7 205.0,126.9 205.1,123.4 205.2,128.9 205.4,123.6 205.5,120.2 205.7,131.2 205.8,124.3 205.9,134.0 206.1,137.7 206.2,140.5 206.3,129.6 206.5,122.6 206.6,129.1 206.8,129.7 206.9,129.9 207.0,129.2 207.2,130.4 207.3,124.0 207.4,110.3 207.6,107.5 207.7,116.9 207.9,113.4 208.0,103.4 208.1,113.9 208.3,106.9 208.4,110.2 208.5,120.3 208.7,127.6 208.8,127.7 209.0,120.7 209.1,119.8 209.2,116.2 209.4,117.2 209.5,126.1 209.7,119.1 209.8,123.3 209.9,134.0 210.1,124.2 210.2,128.3 210.3,126.3 210.5,108.5 210.6,101.1 210.8,112.7 210.9,113.6 211.0,110.0 211.2,115.1 211.3,131.8 211.4,113.0 211.6,113.5 211.7,131.0 211.9,138.1 212.0,134.6 212.1,121.9 212.3,125.0 212.4,123.1 212.5,131.3 212.7,127.7 212.8,121.4 213.0,122.1 213.1,124.4 213.2,122.6 213.4,139.9 213.5,128.5 213.7,136.1 213.8,130.0 213.9,118.8 214.1,126.7 214.2,133.4 214.3,123.1 214.5,119.9 214.6,117.2 214.8,120.8 214.9,125.4 215.0,130.6 215.2,127.2 215.3,129.9 215.4,130.1 215.6,124.4 215.7,124.1 215.9,119.3 216.0,123.1 216.1,110.4 216.3,97.4 216.4,113.1 216.5,106.3 216.7,104.5 216.8,105.0 217.0,108.5 217.1,130.7 217.2,115.0 217.4,116.6 217.5,121.6 217.7,113.0 217.8,120.5 217.9,118.1 218.1,129.4 218.2,122.6 218.3,115.7 218.5,119.9 218.6,117.1 218.8,114.0 218.9,119.2 219.0,119.6 219.2,109.3 219.3,114.3 219.4,107.6 219.6,121.0 219.7,115.0 219.9,115.9 220.0,119.4 220.1,122.6 220.3,123.8 220.4,128.6 220.5,121.1 220.7,121.9 220.8,125.5 221.0,129.5 221.1,125.9 221.2,136.1 221.4,135.8 221.5,124.6 221.6,120.7 221.8,127.0 221.9,133.3 222.1,121.8 222.2,122.7 222.3,109.0 222.5,128.4 222.6,120.4 222.8,112.1 222.9,120.0 223.0,106.5 223.2,104.3 223.3,114.3 223.4,115.2 223.6,114.6 223.7,111.7 223.9,116.4 224.0,111.1 224.1,114.2 224.3,104.1 224.4,97.5 224.5,98.1 224.7,111.6 224.8,104.5 225.0,113.9 225.1,129.7 225.2,117.2 225.4,127.6 225.5,121.2 225.6,108.2 225.8,107.9 225.9,116.3 226.1,121.9 226.2,123.8 226.3,129.6 226.5,114.8 226.6,114.1 226.8,121.4 226.9,96.5 227.0,106.1 227.2,103.9 227.3,101.5 227.4,115.1 227.6,108.3 227.7,107.4 227.9,105.6 228.0,109.1 228.1,102.4 228.3,111.9 228.4,109.3 228.5,103.8 228.7,100.8 228.8,102.5 229.0,110.8 229.1,123.2 229.2,111.7 229.4,118.7 229.5,109.6 229.6,131.6 229.8,116.7 229.9,112.4 230.1,111.7 230.2,107.3 230.3,106.5 230.5,111.4 230.6,110.1 230.8,110.8 230.9,120.2 231.0,113.0 231.2,110.5 231.3,108.6 231.4,108.8 231.6,118.2 231.7,101.5 231.9,96.0 232.0,104.6 232.1,117.5 232.3,117.9 232.4,116.6 232.5,96.1 232.7,84.4 232.8,95.1 233.0,105.0 233.1,116.8 233.2,109.9 233.4,109.3 233.5,115.4 233.6,114.6 233.8,100.0 233.9,111.3 234.1,95.9 234.2,107.5 234.3,98.4 234.5,100.4 234.6,106.5 234.8,105.7 234.9,94.1 235.0,110.9 235.2,99.0 235.3,96.4 235.4,87.7 235.6,98.8 235.7,106.1 235.9,106.9 236.0,98.6 236.1,102.9 236.3,102.1 236.4,102.6 236.5,101.1 236.7,101.2 236.8,105.0 237.0,106.4 237.1,97.9 237.2,106.9 237.4,92.9 237.5,103.7 237.6,114.7 237.8,115.1 237.9,108.8 238.1,109.7 238.2,112.2 238.3,111.7 238.5,101.7 238.6,109.9 238.8,108.9 238.9,117.0 239.0,121.8 239.2,127.1 239.3,121.7 239.4,118.4 239.6,129.9 239.7,112.6 239.9,133.9 240.0,115.5 240.1,119.4 240.3,120.6 240.4,123.7 240.5,129.3 240.7,117.5 240.8,112.5 241.0,117.1 241.1,132.7 241.2,121.5 241.4,129.1 241.5,122.7 241.6,118.4 241.8,119.2 241.9,122.9 242.1,128.8 242.2,122.0 242.3,123.8 242.5,125.0 242.6,126.7 242.7,123.0 242.9,128.4 243.0,120.4 243.2,121.8 243.3,123.1 243.4,119.9 243.6,134.4 243.7,121.0 243.9,133.8 244.0,143.8 244.1,143.9 244.3,129.7 244.4,140.9 244.5,133.5 244.7,137.9 244.8,131.3 245.0,135.5 245.1,120.7 245.2,120.4 245.4,121.6 245.5,125.5 245.6,126.1 245.8,129.2 245.9,131.0 246.1,133.4 246.2,133.4 246.3,131.2 246.5,134.9 246.6,121.0 246.7,122.2 246.9,122.0 247.0,115.9 247.2,125.9 247.3,118.5 247.4,127.0 247.6,122.8 247.7,116.9 247.9,128.4 248.0,129.1 248.1,126.6 248.3,129.3 248.4,125.1 248.5,130.3 248.7,120.7 248.8,116.9 249.0,120.4 249.1,116.4 249.2,114.6 249.4,111.4 249.5,117.9 249.6,121.6 249.8,124.9 249.9,123.2 250.1,118.0 250.2,128.7 250.3,127.9 250.5,129.4 250.6,120.6 250.7,122.4 250.9,119.2 251.0,112.3 251.2,116.4 251.3,119.0 251.4,117.5 251.6,130.7 251.7,114.5 251.9,115.2 252.0,129.6 252.1,107.6 252.3,114.0 252.4,113.4 252.5,114.2 252.7,116.2 252.8,122.6 253.0,127.8 253.1,119.8 253.2,119.6 253.4,123.7 253.5,118.0 253.6,125.6 253.8,116.5 253.9,119.2 254.1,120.0 254.2,118.1 254.3,116.0 254.5,119.4 254.6,119.2 254.7,115.8 254.9,119.1 255.0,114.8 255.2,124.1 255.3,126.1 255.4,110.8 255.6,121.2 255.7,121.0 255.9,122.1 256.0,119.5 256.1,105.6 256.3,122.5 256.4,109.2 256.5,115.9 256.7,116.2 256.8,123.2 257.0,125.2 257.1,105.6 257.2,109.2 257.4,110.9 257.5,104.1 257.6,113.6 257.8,97.7 257.9,105.5 258.1,117.2 258.2,101.0 258.3,101.0 258.5,101.0 258.6,101.1 258.7,105.8 258.9,104.6 259.0,117.3 259.2,108.7 259.3,100.9 259.4,98.6 259.6,94.0 259.7,95.8 259.9,91.7 260.0,103.8 260.1,108.8 260.3,95.8 260.4,90.4 260.5,100.0 260.7,83.5 260.8,97.3 261.0,111.7 261.1,103.3 261.2,85.3 261.4,87.7 261.5,91.4 261.6,101.0 261.8,80.5 261.9,100.0 262.1,82.5 262.2,73.4 262.3,88.6 262.5,93.7 262.6,99.8 262.7,103.1 262.9,97.4 263.0,89.4 263.2,102.8 263.3,102.7 263.4,86.0 263.6,98.5 263.7,91.9 263.8,88.9 264.0,94.3 264.1,96.8 264.3,82.1 264.4,103.7 264.5,93.1 264.7,91.4 264.8,108.9 265.0,103.3 265.1,107.2 265.2,96.5 265.4,97.8 265.5,94.1 265.6,91.6 265.8,104.3 265.9,83.7 266.1,85.0 266.2,96.5 266.3,85.8 266.5,85.9 266.6,79.8 266.7,65.4 266.9,76.6 267.0,78.7 267.2,89.1 267.3,100.1 267.4,108.2 267.6,96.8 267.7,107.7 267.8,93.8 268.0,102.0 268.1,96.8 268.3,92.8 268.4,114.4 268.5,91.8 268.7,99.9 268.8,90.7 269.0,94.7 269.1,97.5 269.2,101.9 269.4,118.0 269.5,116.2 269.6,106.3 269.8,104.3 269.9,109.4 270.1,108.3 270.2,68.3 270.3,109.7 270.5,116.1 270.6,124.2 270.7,116.3 270.9,106.6 271.0,112.0 271.2,108.9 271.3,116.2 271.4,116.5 271.6,118.4 271.7,118.0 271.8,109.4 272.0,119.6 272.1,114.8 272.3,123.6 272.4,117.9 272.5,118.3 272.7,119.1 272.8,117.0 273.0,121.5 273.1,119.7 273.2,129.0 273.4,117.1 273.5,123.4 273.6,125.1 273.8,116.8 273.9,114.1 274.1,118.0 274.2,110.8 274.3,102.3 274.5,99.2 274.6,102.9 274.7,112.3 274.9,109.1 275.0,117.9 275.2,116.3 275.3,115.0 275.4,122.8 275.6,125.5 275.7,113.3 275.8,127.2 276.0,128.0 276.1,124.9 276.3,114.9 276.4,119.7 276.5,119.7 276.7,112.3 276.8,115.1 277.0,119.9 277.1,116.4 277.2,115.8 277.4,124.3 277.5,120.2 277.6,128.9 277.8,123.8 277.9,120.6 278.1,119.9 278.2,125.9 278.3,121.0 278.5,121.9 278.6,123.6 278.7,124.1 278.9,122.5 279.0,124.5 279.2,118.6 279.3,124.8 279.4,116.3 279.6,136.6 279.7,134.9 279.8,127.1 280.0,126.4 280.1,135.6 280.3,143.9 280.4,129.9 280.5,127.5 280.7,135.2 280.8,121.6 281.0,133.3 281.1,129.4 281.2,130.6 281.4,130.9 281.5,130.5 281.6,133.0 281.8,123.0 281.9,124.1 282.1,125.5 282.2,131.2 282.3,130.7 282.5,135.4 282.6,129.6 282.7,120.9 282.9,123.0 283.0,110.1 283.2,113.5 283.3,123.2 283.4,123.0 283.6,121.9 283.7,116.8 283.8,114.4 284.0,114.1 284.1,113.1 284.3,123.3 284.4,125.6 284.5,127.7 284.7,125.2 284.8,130.5 285.0,133.7 285.1,130.6 285.2,134.6 285.4,123.6 285.5,127.7 285.6,122.4 285.8,124.1 285.9,122.5 286.1,129.8 286.2,132.3 286.3,131.0 286.5,132.5 286.6,132.8 286.7,119.7 286.9,127.1 287.0,125.8 287.2,119.7 287.3,133.1 287.4,126.9 287.6,126.7 287.7,136.6 287.8,129.6 288.0,115.6 288.1,135.8 288.3,130.5 288.4,128.7 288.5,131.6 288.7,121.7 288.8,123.2 288.9,120.5 289.1,128.5 289.2,143.3 289.4,138.7 289.5,131.2 289.6,133.1 289.8,136.8 289.9,142.5 290.1,144.7 290.2,138.5 290.3,145.4 290.5,145.0 290.6,135.3 290.7,138.0 290.9,127.0 291.0,125.2 291.2,133.5 291.3,129.8 291.4,123.1 291.6,124.8 291.7,132.4 291.8,134.7 292.0,132.9 292.1,126.7 292.3,139.7 292.4,143.3 292.5,139.5 292.7,131.3 292.8,126.5 292.9,130.0 293.1,132.9 293.2,128.8 293.4,134.9 293.5,136.6 293.6,137.4 293.8,130.9 293.9,135.6 294.1,135.5 294.2,133.4 294.3,136.9 294.5,135.6 294.6,133.8 294.7,138.3 294.9,136.8 295.0,133.1 295.2,138.2 295.3,136.8 295.4,130.6 295.6,137.7 295.7,134.2 295.8,121.9 296.0,127.9 296.1,129.4 296.3,123.8 296.4,113.4 296.5,120.5 296.7,124.4 296.8,122.5 296.9,132.8 297.1,137.5 297.2,145.3 297.4,141.5 297.5,129.3" fill="none" stroke="#f00404" stroke-width="0.8" stroke-linejoin="bevel" opacity="1"/>
<use href="#s1" stroke="#0808d8" stroke-width="0.6" opacity="0.15"/>
<line x1="49.4" y1="57.4" x2="297.5" y2="57.4" stroke="#8a8a8a" stroke-width="1"/>
<line x1="49.4" y1="227.2" x2="297.5" y2="227.2" stroke="#8a8a8a" stroke-width="1"/>
<line x1="49.4" y1="57.4" x2="49.4" y2="227.2" stroke="#9a9a9a" stroke-width="1"/>
<line x1="297.5" y1="57.4" x2="297.5" y2="227.2" stroke="#8a8a8a" stroke-width="1"/>
<path d="M49.4 227.2v-5M49.4 57.4v5M99.0 227.2v-5M99.0 57.4v5M148.6 227.2v-5M148.6 57.4v5M198.3 227.2v-5M198.3 57.4v5M247.9 227.2v-5M247.9 57.4v5M297.5 227.2v-5M297.5 57.4v5M74.2 227.2v-2.5M74.2 57.4v2.5M123.8 227.2v-2.5M123.8 57.4v2.5M173.4 227.2v-2.5M173.4 57.4v2.5M223.1 227.2v-2.5M223.1 57.4v2.5M272.7 227.2v-2.5M272.7 57.4v2.5M49.4 227.2h5M297.5 227.2h-5M49.4 202.9h5M297.5 202.9h-5M49.4 178.7h5M297.5 178.7h-5M49.4 154.4h5M297.5 154.4h-5M49.4 130.2h5M297.5 130.2h-5M49.4 105.9h5M297.5 105.9h-5M49.4 81.7h5M297.5 81.7h-5M49.4 57.4h5M297.5 57.4h-5M49.4 215.1h2.5M297.5 215.1h-2.5M49.4 190.8h2.5M297.5 190.8h-2.5M49.4 166.6h2.5M297.5 166.6h-2.5M49.4 142.3h2.5M297.5 142.3h-2.5M49.4 118.0h2.5M297.5 118.0h-2.5M49.4 93.8h2.5M297.5 93.8h-2.5M49.4 69.5h2.5M297.5 69.5h-2.5" stroke="#666" stroke-width="0.8" fill="none"/>
<rect x="47.8" y="55.8" width="3.2" height="3.2" fill="#111"/>
<rect x="295.9" y="55.8" width="3.2" height="3.2" fill="#111"/>
<rect x="47.8" y="225.6" width="3.2" height="3.2" fill="#111"/>
<rect x="295.9" y="225.6" width="3.2" height="3.2" fill="#111"/>
<text x="49.4" y="234.7" font-family='"Liberation Serif", serif' font-size="7.2" text-anchor="middle" fill="#222" stroke="#222" stroke-width="0.12">0</text>
<text x="99.0" y="234.7" font-family='"Liberation Serif", serif' font-size="7.2" text-anchor="middle" fill="#222" stroke="#222" stroke-width="0.12">20</text>
<text x="148.6" y="234.7" font-family='"Liberation Serif", serif' font-size="7.2" text-anchor="middle" fill="#222" stroke="#222" stroke-width="0.12">40</text>
<text x="198.3" y="234.7" font-family='"Liberation Serif", serif' font-size="7.2" text-anchor="middle" fill="#222" stroke="#222" stroke-width="0.12">60</text>
<text x="247.9" y="234.7" font-family='"Liberation Serif", serif' font-size="7.2" text-anchor="middle" fill="#222" stroke="#222" stroke-width="0.12">80</text>
<text x="297.5" y="234.7" font-family='"Liberation Serif", serif' font-size="7.2" text-anchor="middle" fill="#222" stroke="#222" stroke-width="0.12">100</text>
<text x="47.4" y="229.7" font-family='"Liberation Serif", serif' font-size="7.2" text-anchor="end" fill="#222" stroke="#222" stroke-width="0.12">0</text>
<text x="47.4" y="205.4" font-family='"Liberation Serif", serif' font-size="7.2" text-anchor="end" fill="#222" stroke="#222" stroke-width="0.12">0.1</text>
<text x="47.4" y="181.2" font-family='"Liberation Serif", serif' font-size="7.2" text-anchor="end" fill="#222" stroke="#222" stroke-width="0.12">0.2</text>
<text x="47.4" y="156.9" font-family='"Liberation Serif", serif' font-size="7.2" text-anchor="end" fill="#222" stroke="#222" stroke-width="0.12">0.3</text>
<text x="47.4" y="132.7" font-family='"Liberation Serif", serif' font-size="7.2" text-anchor="end" fill="#222" stroke="#222" stroke-width="0.12">0.4</text>
<text x="47.4" y="108.4" font-family='"Liberation Serif", serif' font-size="7.2" text-anchor="end" fill="#222" stroke="#222" stroke-width="0.12">0.5</text>
<text x="47.4" y="84.2" font-family='"Liberation Serif", serif' font-size="7.2" text-anchor="end" fill="#222" stroke="#222" stroke-width="0.12">0.6</text>
<text x="47.4" y="59.9" font-family='"Liberation Serif", serif' font-size="7.2" text-anchor="end" fill="#222" stroke="#222" stroke-width="0.12">0.7</text>
<text x="170.2" y="246" font-family='"Liberation Sans", sans-serif' font-size="9.6" text-anchor="middle" fill="#111" textLength="38" lengthAdjust="spacingAndGlyphs" stroke="#111" stroke-width="0.25">Time (ns)</text>
<text x="33" y="142.4" font-family='"Liberation Sans", sans-serif' font-size="9.6" text-anchor="middle" fill="#111" textLength="39" lengthAdjust="spacingAndGlyphs" stroke="#111" stroke-width="0.25" transform="rotate(-90 33 142.4)">RMSD (Å)</text>
<text x="178.6" y="276.5" font-family='"Liberation Sans", sans-serif' font-size="9.6" text-anchor="middle" fill="#111" textLength="11.5" lengthAdjust="spacingAndGlyphs" stroke="#111" stroke-width="0.25">(a)</text>
<polyline points="384.7,130.1 385.2,131.7 385.7,150.0 386.0,162.8 386.2,164.7 386.7,170.9 387.0,175.4 387.2,180.1 387.5,189.6 387.6,194.5 387.8,199.3 388.1,200.8 388.6,203.2 389.1,205.2 389.6,208.8 389.8,207.6 390.1,210.5 390.6,209.6 391.1,211.3 391.6,212.5 392.1,213.2 392.6,214.1 393.1,214.3 393.5,215.5 393.6,214.7 394.0,217.0 394.5,216.4 395.0,217.3 395.5,216.8 396.0,218.9 396.5,218.3 397.0,217.6 397.5,218.1 398.0,216.2 398.5,216.3 399.0,215.4 399.3,215.0 399.4,216.1 399.9,215.5 400.4,214.6 400.9,213.6 401.4,213.0 401.9,213.4 402.4,212.8 402.9,212.4 403.3,211.9 403.4,211.8 403.9,212.1 404.4,211.2 404.9,213.1 405.2,213.3 405.3,213.0 405.8,214.5 406.3,214.8 406.8,215.2 407.3,215.4 407.8,217.3 408.3,216.3 408.8,218.0 409.0,218.0 409.3,217.7 409.8,217.8 410.3,217.7 410.8,218.3 411.2,218.5 411.7,218.3 411.9,219.1 412.2,217.7 412.7,218.6 413.2,218.7 413.7,216.5 414.2,217.6 414.7,218.0 415.2,216.0 415.7,217.1 416.2,216.0 416.7,216.9 417.1,215.9 417.6,216.1 418.1,215.5 418.6,214.3 419.1,213.1 419.6,211.9 420.1,210.3 420.6,211.7 421.1,209.8 421.6,210.1 422.1,210.7 422.6,212.3 423.0,213.1 423.5,213.5 424.0,214.6 424.5,214.8 425.0,215.6 425.5,214.9 426.0,216.0 426.5,216.4 427.0,216.3 427.5,217.1 428.0,217.8 428.3,218.2 428.5,218.2 428.9,217.5 429.4,217.7 429.9,217.9 430.4,217.6 430.9,218.4 431.4,217.8 431.9,218.9 432.4,217.3 432.9,218.1 433.4,218.0 433.9,217.8 434.1,218.1 434.4,218.1 434.8,216.8 435.3,217.1 435.8,217.3 436.3,216.1 436.8,217.0 437.3,214.6 437.8,215.3 438.3,214.8 438.8,213.1 439.3,212.7 439.8,213.6 439.9,213.1 440.3,212.0 440.7,210.5 441.2,210.4 441.7,209.0 442.2,207.2 442.7,206.6 443.2,205.1 443.7,206.0 444.2,207.9 444.7,208.6 445.2,210.4 445.7,209.9 446.1,209.4 446.6,211.3 447.1,210.4 447.6,211.0 448.1,212.1 448.6,212.6 449.1,213.0 449.6,214.0 450.1,213.7 450.6,213.6 451.1,213.3 451.6,213.2 452.0,214.2 452.5,213.3 453.0,214.3 453.5,214.0 454.0,213.3 454.5,213.1 455.0,212.7 455.5,212.1 456.0,211.1 456.5,209.6 457.0,207.9 457.5,205.7 457.7,205.6 457.9,203.0 458.4,201.1 458.9,200.1 459.4,195.7 459.9,192.3 460.4,191.1 460.9,189.2 461.4,187.3 461.6,185.0 461.9,188.1 462.4,194.2 462.9,198.7 463.4,202.4 463.8,207.0 464.3,212.5 464.6,213.5 464.8,213.4 465.3,212.6 465.8,211.1 466.3,210.6 466.8,211.4 467.3,207.8 467.5,207.8 467.8,208.8 468.3,209.4 468.8,209.6 469.3,211.0 469.7,210.5 470.2,211.4 470.7,211.9 471.2,212.8 471.7,213.1 472.2,212.5 472.7,212.9 473.2,213.8 473.7,214.6 474.2,215.6 474.7,215.1 475.2,215.1 475.6,217.4 476.1,216.3 476.3,218.4 476.6,217.1 477.1,216.5 477.6,217.2 478.1,217.1 478.6,215.8 479.1,215.2 479.6,215.7 480.1,214.4 480.6,215.4 481.1,213.6 481.5,214.4 482.0,214.0 482.5,214.1 483.0,214.6 483.5,213.9 484.0,214.0 484.5,215.3 485.0,215.4 485.5,215.6 486.0,215.1 486.5,214.3 487.0,214.0 487.4,213.7 487.9,213.3 488.4,212.7 488.9,213.5 489.4,212.0 489.9,209.4 490.4,208.3 490.9,207.8 491.4,205.5 491.9,205.3 492.4,203.8 492.9,203.4 493.3,200.6 493.8,199.8 494.3,197.9 494.5,197.6 494.8,199.0 495.3,200.8 495.8,202.0 496.3,204.6 496.8,206.5 497.3,207.4 497.8,208.1 498.3,209.2 498.8,209.7 499.0,211.4 499.2,210.5 499.7,211.3 500.0,210.4 500.2,209.2 500.7,205.1 501.2,202.6 501.7,200.1 501.9,198.0 502.2,197.9 502.7,197.8 503.2,197.3 503.4,197.4 503.7,195.9 504.2,198.6 504.7,199.3 504.9,201.2 505.1,201.3 505.6,201.2 506.1,201.7 506.6,201.6 506.7,202.7 507.1,201.3 507.6,200.0 508.1,200.7 508.6,198.9 509.1,199.3 509.6,197.8 510.1,197.1 510.5,197.2 511.0,199.5 511.5,200.0 512.0,200.4 512.5,202.7 513.0,203.0 513.5,204.5 514.0,205.4 514.5,205.5 515.0,206.5 515.5,206.4 516.0,208.1 516.4,209.1 516.9,210.9 517.4,212.0 517.9,212.1 518.4,214.0 518.9,212.1 519.4,213.9 519.9,214.5 520.2,214.4 520.4,213.3 520.9,212.3 521.4,212.5 521.9,211.3 522.3,210.8 522.8,210.6 523.3,209.1 523.8,208.4 524.1,208.9 524.3,207.4 524.8,209.0 525.3,207.9 525.8,208.7 526.0,208.5 526.3,208.7 526.8,208.3 527.3,210.0 527.8,209.8 528.2,209.3 528.7,211.1 528.9,210.8 529.2,211.1 529.7,212.9 530.2,213.2 530.7,214.9 531.2,215.1 531.7,216.5 532.2,218.1 532.7,217.7 533.2,219.6 533.7,218.6 534.1,217.9 534.6,216.5 535.1,215.2 535.6,214.0 536.1,212.3 536.6,212.7 537.1,211.0 537.6,209.0 538.1,209.0 538.6,208.2 539.1,206.9 539.6,207.0 540.0,206.3 540.5,206.0 541.0,204.3 541.5,204.2 542.0,204.7 542.5,203.4 543.0,203.8 543.5,201.9 544.0,201.6 544.5,201.5 545.0,201.1 545.3,201.6 545.5,200.1 545.9,200.8 546.4,201.1 546.9,200.6 547.4,201.6 547.9,201.8 548.4,202.0 548.9,202.5 549.4,200.5 549.9,202.2 550.1,202.4 550.4,202.2 550.9,205.5 551.4,204.7 551.8,205.7 552.3,207.2 552.8,207.4 553.0,209.2 553.3,208.9 553.8,209.7 554.3,212.9 554.8,213.9 555.3,214.5 555.4,214.8 555.8,215.3 556.3,214.9 556.8,215.2 557.3,216.3 557.7,215.7 558.2,215.7 558.7,215.5 559.2,215.0 559.7,212.3 560.2,212.3 560.7,210.4 561.1,211.8 561.2,211.2 561.7,211.1 562.2,211.8 562.7,211.7 563.2,212.3 563.6,213.1 564.1,214.6 564.6,214.2 565.1,213.1 565.6,214.1 566.1,214.2 566.4,215.6 566.6,215.5 567.1,216.2 567.6,215.7 568.1,216.3 568.6,216.3 569.0,215.9 569.5,217.7 570.0,217.1 570.5,218.7 571.0,217.5 571.2,218.5 571.5,218.1 572.0,217.7 572.5,216.5 573.0,217.2 573.5,217.1 574.0,217.2 574.5,216.1 574.9,216.4 575.4,215.9 575.9,215.3 576.0,214.9 576.4,215.1 576.9,213.6 577.4,212.3 577.9,213.5 578.4,211.1 578.9,209.9 579.4,210.9 579.9,209.5 580.4,209.9 580.4,208.8 580.8,208.5 581.3,207.4 581.8,207.4 582.1,206.9 582.3,207.3 582.8,208.6 583.3,209.7 583.8,210.6 584.3,212.3 584.8,212.8 585.3,213.0 585.8,215.2 586.3,214.3 586.7,215.3 587.2,216.1 587.7,216.8 588.2,217.0 588.7,217.3 589.2,217.0 589.7,218.2 590.2,217.2 590.7,218.6 591.2,218.0 591.7,218.1 591.8,219.5 592.2,217.9 592.6,216.8 593.1,217.9 593.6,216.8 594.1,216.8 594.4,216.4 594.6,216.4 595.1,216.0 595.6,214.8 596.1,214.1 596.6,214.1 597.1,212.7 597.6,212.4 597.9,212.3 598.1,213.2 598.5,211.8 599.0,212.3 599.5,214.5 600.0,214.0 600.5,213.8 601.0,211.6 601.5,210.0 602.0,209.5 602.5,207.7 602.7,206.9 603.0,205.3 603.5,199.5 603.6,198.7 603.9,178.3 604.0,187.6 604.1,202.0" fill="none" stroke="#d84848" stroke-width="0.75" stroke-linejoin="round" opacity="0.8"/>
<polyline points="384.7,130.1 385.2,131.7 385.7,150.0 386.0,162.8 386.2,164.7 386.7,170.9 387.0,175.4 387.2,180.1 387.5,189.6 387.6,194.5 387.8,199.3 388.1,200.8 388.6,203.2 389.1,205.9 389.6,208.6 389.8,209.1 390.1,209.2 390.6,210.6 391.1,210.8 391.6,212.5 392.1,213.3 392.6,213.4 393.1,215.0 393.5,216.5 393.6,216.5 394.0,216.5 394.5,216.1 395.0,217.8 395.5,218.2 396.0,217.9 396.5,219.5 397.0,218.7 397.5,217.6 398.0,217.3 398.5,217.2 399.0,216.4 399.3,218.1 399.4,215.7 399.9,216.4 400.4,216.4 400.9,214.8 401.4,214.0 401.9,214.2 402.4,214.1 402.9,213.0 403.3,212.7 403.4,211.9 403.9,212.6 404.4,213.3 404.9,213.0 405.2,214.0 405.3,214.7 405.8,214.4 406.3,215.1 406.8,216.2 407.3,217.2 407.8,217.2 408.3,219.4 408.8,218.2 409.0,218.7 409.3,220.0 409.8,219.0 410.3,219.7 410.8,218.8 411.2,220.5 411.7,219.9 411.9,219.0 412.2,218.5 412.7,220.3 413.2,219.1 413.7,218.4 414.2,218.7 414.7,217.2 415.2,218.6 415.7,217.5 416.2,218.1 416.7,216.5 417.1,216.7 417.6,216.2 418.1,216.4 418.6,213.8 419.1,213.7 419.6,213.1 420.1,212.2 420.6,212.0 421.1,212.0 421.6,211.5 422.1,212.4 422.6,212.0 423.0,214.6 423.5,215.0 424.0,215.7 424.5,216.3 425.0,216.4 425.5,217.8 426.0,218.4 426.5,217.7 427.0,217.4 427.5,218.0 428.0,218.6 428.3,219.1 428.5,218.8 428.9,219.1 429.4,218.4 429.9,219.3 430.4,218.7 430.9,218.8 431.4,218.4 431.9,218.6 432.4,217.2 432.9,217.7 433.4,217.7 433.9,219.7 434.1,218.7 434.4,218.7 434.8,217.6 435.3,218.9 435.8,216.5 436.3,216.1 436.8,217.1 437.3,216.6 437.8,216.1 438.3,215.2 438.8,214.4 439.3,213.2 439.8,214.2 439.9,213.5 440.3,213.5 440.7,212.1 441.2,212.3 441.7,211.5 442.2,212.5 442.7,211.5 443.2,211.5 443.7,210.7 444.2,211.8 444.7,212.9 445.2,213.6 445.7,213.6 446.1,214.3 446.6,214.5 447.1,213.6 447.6,212.5 448.1,214.1 448.6,214.2 449.1,214.6 449.6,214.7 450.1,213.6 450.6,213.4 451.1,213.9 451.6,213.7 452.0,213.9 452.5,213.8 453.0,214.8 453.5,214.2 454.0,212.9 454.5,212.5 455.0,211.4 455.5,210.6 456.0,211.3 456.5,211.6 457.0,213.3 457.5,211.2 457.9,208.6 458.4,206.7 458.9,204.0 459.4,204.2 459.9,200.8 460.4,199.8 460.9,197.7 461.4,195.6 461.6,194.6 461.9,196.7 462.4,201.3 462.9,203.8 463.4,208.2 463.8,211.5 464.3,214.3 464.6,216.8 464.8,214.6 465.3,214.1 465.8,212.3 466.3,212.5 466.8,211.5 467.3,210.1 467.5,209.3 467.8,210.3 468.3,210.2 468.8,210.9 469.3,210.4 469.7,212.1 470.2,211.6 470.7,213.0 471.2,213.6 471.7,213.9 472.2,214.7 472.7,214.3 473.2,214.3 473.7,215.2 474.2,215.4 474.7,215.3 475.2,216.5 475.6,217.0 476.1,217.7 476.3,218.6 476.6,217.1 477.1,218.3 477.6,216.6 478.1,216.8 478.6,215.9 479.1,216.3 479.6,216.5 480.1,215.6 480.6,215.8 481.1,215.4 481.5,215.0 482.0,214.8 482.5,215.5 483.0,216.4 483.5,216.7 484.0,218.4 484.5,217.8 485.0,219.0 485.5,218.3 485.8,218.5 486.0,220.3 486.5,218.6 487.0,218.3 487.4,218.4 487.9,217.0 488.4,217.2 488.9,217.5 489.4,215.5 489.9,214.3 490.4,213.1 490.9,212.8 491.4,210.6 491.9,209.5 492.4,209.5 492.9,208.1 493.3,206.7 493.8,205.9 494.3,203.4 494.5,203.9 494.8,205.4 495.3,206.5 495.8,207.3 496.3,207.1 496.8,209.8 497.3,211.5 497.8,213.2 498.3,215.3 498.8,215.8 499.0,218.4 499.2,215.6 499.7,211.7 500.0,209.4 500.2,210.0 500.7,207.4 501.2,207.7 501.7,206.8 501.9,206.9 502.2,207.0 502.7,206.7 503.2,206.8 503.7,207.4 504.2,207.6 504.7,208.3 504.9,208.9 505.1,208.2 505.6,208.1 506.1,208.2 506.6,207.4 507.1,206.8 507.6,207.1 508.1,207.3 508.6,206.5 509.1,205.6 509.6,206.7 510.1,207.3 510.5,208.0 511.0,208.0 511.5,210.5 512.0,209.9 512.5,210.1 513.0,212.0 513.5,211.4 514.0,212.7 514.5,214.1 515.0,214.3 515.5,216.1 516.0,216.3 516.4,215.6 516.9,217.9 517.4,217.0 517.9,217.9 518.4,216.9 518.9,217.2 519.4,218.2 519.9,217.0 520.2,216.3 520.4,216.7 520.9,215.9 521.4,213.9 521.9,213.6 522.3,213.2 522.8,211.7 523.3,209.8 523.8,209.6 524.1,208.3 524.3,208.0 524.8,208.9 525.3,209.6 525.8,209.7 526.0,208.9 526.3,208.6 526.8,209.4 527.3,209.7 527.8,210.7 528.2,210.7 528.7,211.6 528.9,211.6 529.2,212.8 529.7,214.0 530.2,214.3 530.7,215.6 531.2,216.5 531.7,216.5 532.2,217.9 532.7,217.1 533.2,219.2 533.7,219.1 534.1,217.3 534.6,216.5 535.1,216.1 535.6,214.0 536.1,214.1 536.6,214.4 537.1,211.1 537.6,210.9 538.1,209.1 538.6,209.7 539.1,209.4 539.6,207.1 540.0,208.1 540.5,206.7 541.0,205.7 541.5,206.2 542.0,206.1 542.5,205.7 543.0,205.0 543.5,205.7 544.0,204.6 544.5,204.4 545.0,203.1 545.3,204.5 545.5,204.9 545.9,204.0 546.4,204.8 546.9,204.5 547.4,204.8 547.9,204.3 548.4,205.5 548.9,205.3 549.4,206.8 549.9,206.0 550.1,204.6 550.4,206.4 550.9,207.2 551.4,208.4 551.8,208.2 552.3,209.3 552.8,210.9 553.0,210.2 553.3,211.1 553.8,212.0 554.3,214.1 554.8,213.9 555.3,215.8 555.4,216.5 555.8,216.7 556.3,216.6 556.8,215.9 557.3,216.6 557.7,215.8 558.2,215.4 558.7,214.3 559.2,214.0 559.7,213.8 560.2,214.2 560.7,212.3 561.1,211.4 561.2,211.8 561.7,212.0 562.2,213.0 562.7,213.3 563.2,214.1 563.6,213.1 564.1,214.2 564.6,214.9 565.1,215.8 565.6,215.5 566.1,214.9 566.4,215.7 566.6,216.5 567.1,215.6 567.6,215.8 568.1,216.4 568.6,216.8 569.0,216.9 569.5,217.5 570.0,217.6 570.5,218.8 571.0,217.8 571.2,218.7 571.5,217.4 572.0,219.5 572.5,217.5 573.0,217.0 573.5,217.5 574.0,216.7 574.5,216.2 574.9,216.0 575.4,216.3 575.9,215.7 576.0,215.0 576.4,214.3 576.9,214.4 577.4,213.7 577.9,213.0 578.4,211.8 578.9,212.4 579.4,211.9 579.9,210.4 580.4,210.4 580.4,210.1 580.8,209.0 581.3,208.0 581.8,208.2 582.1,206.7 582.3,208.8 582.8,208.5 583.3,210.8 583.8,211.7 584.3,211.6 584.8,213.3 585.3,214.1 585.8,214.4 586.3,214.4 586.7,215.3 587.2,215.8 587.7,215.7 588.2,217.3 588.7,217.4 589.2,217.8 589.7,217.1 590.2,217.5 590.7,217.7 591.2,218.7 591.7,219.1 591.8,218.6 592.2,219.1 592.6,217.9 593.1,217.5 593.6,218.0 594.1,217.2 594.4,216.9 594.6,215.6 595.1,214.6 595.6,215.6 596.1,215.0 596.6,215.9 597.1,213.9 597.6,213.5 597.9,213.7 598.1,212.7 598.5,214.2 599.0,213.6 599.5,213.5 600.0,214.5 600.5,213.4 601.0,212.0 601.5,212.1 602.0,210.7 602.5,208.2 602.7,208.1 603.0,207.7 603.5,205.4 603.6,204.8 604.0,205.4 604.1,205.1" fill="none" stroke="#4a3ab8" stroke-width="0.75" stroke-linejoin="round" opacity="0.75"/>
<line x1="384.7" y1="58.8" x2="630.5" y2="58.8" stroke="#777" stroke-width="1.3"/>
<line x1="384.7" y1="226.5" x2="630.5" y2="226.5" stroke="#888" stroke-width="1"/>
<line x1="384.7" y1="58.8" x2="384.7" y2="226.5" stroke="#aaa" stroke-width="1"/>
<line x1="630.5" y1="58.8" x2="630.5" y2="226.5" stroke="#999" stroke-width="1"/>
<path d="M384.7 226.5v-5M384.7 58.8v5M433.9 226.5v-5M433.9 58.8v5M483.0 226.5v-5M483.0 58.8v5M532.2 226.5v-5M532.2 58.8v5M581.3 226.5v-5M581.3 58.8v5M630.5 226.5v-5M630.5 58.8v5M409.3 226.5v-2.5M409.3 58.8v2.5M458.4 226.5v-2.5M458.4 58.8v2.5M507.6 226.5v-2.5M507.6 58.8v2.5M556.8 226.5v-2.5M556.8 58.8v2.5M605.9 226.5v-2.5M605.9 58.8v2.5M384.7 226.5h5M630.5 226.5h-5M384.7 184.6h5M630.5 184.6h-5M384.7 142.7h5M630.5 142.7h-5M384.7 100.7h5M630.5 100.7h-5M384.7 58.8h5M630.5 58.8h-5M384.7 205.5h2.5M630.5 205.5h-2.5M384.7 163.6h2.5M630.5 163.6h-2.5M384.7 121.7h2.5M630.5 121.7h-2.5M384.7 79.8h2.5M630.5 79.8h-2.5" stroke="#666" stroke-width="0.8" fill="none"/>
<rect x="383.09999999999997" y="57.199999999999996" width="3.2" height="3.2" fill="#111"/>
<rect x="628.9" y="57.199999999999996" width="3.2" height="3.2" fill="#111"/>
<rect x="383.09999999999997" y="224.9" width="3.2" height="3.2" fill="#111"/>
<rect x="628.9" y="224.9" width="3.2" height="3.2" fill="#111"/>
<text x="384.7" y="234.0" font-family='"Liberation Serif", serif' font-size="7.2" text-anchor="middle" fill="#222" stroke="#222" stroke-width="0.12">0</text>
<text x="433.9" y="234.0" font-family='"Liberation Serif", serif' font-size="7.2" text-anchor="middle" fill="#222" stroke="#222" stroke-width="0.12">100</text>
<text x="483.0" y="234.0" font-family='"Liberation Serif", serif' font-size="7.2" text-anchor="middle" fill="#222" stroke="#222" stroke-width="0.12">200</text>
<text x="532.2" y="234.0" font-family='"Liberation Serif", serif' font-size="7.2" text-anchor="middle" fill="#222" stroke="#222" stroke-width="0.12">300</text>
<text x="581.3" y="234.0" font-family='"Liberation Serif", serif' font-size="7.2" text-anchor="middle" fill="#222" stroke="#222" stroke-width="0.12">400</text>
<text x="630.5" y="234.0" font-family='"Liberation Serif", serif' font-size="7.2" text-anchor="middle" fill="#222" stroke="#222" stroke-width="0.12">500</text>
<text x="383.2" y="229.0" font-family='"Liberation Serif", serif' font-size="7.2" text-anchor="end" fill="#222" stroke="#222" stroke-width="0.12">0</text>
<text x="383.2" y="187.1" font-family='"Liberation Serif", serif' font-size="7.2" text-anchor="end" fill="#222" stroke="#222" stroke-width="0.12">0.5</text>
<text x="383.2" y="145.2" font-family='"Liberation Serif", serif' font-size="7.2" text-anchor="end" fill="#222" stroke="#222" stroke-width="0.12">1</text>
<text x="383.2" y="103.2" font-family='"Liberation Serif", serif' font-size="7.2" text-anchor="end" fill="#222" stroke="#222" stroke-width="0.12">1.5</text>
<text x="383.2" y="61.3" font-family='"Liberation Serif", serif' font-size="7.2" text-anchor="end" fill="#222" stroke="#222" stroke-width="0.12">2</text>
<text x="514.2" y="245.9" font-family='"Liberation Sans", sans-serif' font-size="9.6" text-anchor="middle" fill="#111" textLength="73.3" lengthAdjust="spacingAndGlyphs" stroke="#111" stroke-width="0.25">Residues Position</text>
<text x="372.5" y="143" font-family='"Liberation Sans", sans-serif' font-size="9.6" text-anchor="middle" fill="#111" textLength="45.5" lengthAdjust="spacingAndGlyphs" stroke="#111" stroke-width="0.25" transform="rotate(-90 372.5 143)">RMSF (nm)</text>
<text x="506.5" y="276.5" font-family='"Liberation Sans", sans-serif' font-size="9.6" text-anchor="middle" fill="#111" textLength="11.7" lengthAdjust="spacingAndGlyphs" stroke="#111" stroke-width="0.25">(b)</text>
<polyline id="s5" points="52.9,424.4 53.0,436.9 53.2,442.4 53.3,429.2 53.4,417.3 53.6,427.5 53.7,425.1 53.8,426.3 54.0,424.8 54.1,419.0 54.2,415.6 54.3,424.8 54.5,432.5 54.6,417.1 54.7,418.2 54.9,428.1 55.0,425.9 55.1,447.1 55.3,433.2 55.4,434.6 55.5,446.1 55.7,421.0 55.8,428.9 55.9,434.4 56.1,431.2 56.2,423.8 56.3,432.1 56.4,440.0 56.6,436.6 56.7,431.3 56.8,434.1 57.0,434.4 57.1,438.6 57.2,436.2 57.4,433.9 57.5,449.8 57.6,436.8 57.8,445.3 57.9,434.0 58.0,439.0 58.2,428.8 58.3,427.5 58.4,451.5 58.6,438.6 58.7,443.6 58.8,446.0 58.9,451.2 59.1,441.4 59.2,432.9 59.3,429.4 59.5,425.9 59.6,426.8 59.7,435.5 59.9,433.7 60.0,437.7 60.1,438.7 60.3,418.8 60.4,418.8 60.5,411.4 60.7,401.0 60.8,400.6 60.9,408.1 61.1,412.3 61.2,423.1 61.3,400.6 61.4,428.4 61.6,424.1 61.7,425.4 61.8,408.9 62.0,431.0 62.1,417.6 62.2,409.3 62.4,422.3 62.5,422.7 62.6,409.8 62.8,428.9 62.9,434.5 63.0,429.8 63.2,426.6 63.3,437.0 63.4,433.0 63.5,435.7 63.7,439.3 63.8,452.2 63.9,443.2 64.1,441.1 64.2,435.7 64.3,436.1 64.5,447.3 64.6,438.4 64.7,434.2 64.9,435.3 65.0,432.1 65.1,438.7 65.3,454.8 65.4,442.0 65.5,377.0 65.7,433.1 65.8,441.5 65.9,445.8 66.0,449.4 66.2,448.9 66.3,431.7 66.4,442.8 66.6,447.1 66.7,430.3 66.8,435.1 67.0,431.0 67.1,440.5 67.2,422.8 67.4,436.5 67.5,429.0 67.6,428.7 67.8,429.3 67.9,442.9 68.0,437.1 68.2,439.4 68.3,434.9 68.4,439.2 68.5,428.4 68.7,424.5 68.8,427.0 68.9,428.2 69.1,445.0 69.2,439.8 69.3,437.6 69.5,446.1 69.6,447.3 69.7,452.1 69.9,428.9 70.0,440.4 70.1,433.6 70.3,436.8 70.4,428.2 70.5,420.9 70.6,431.0 70.8,423.8 70.9,429.5 71.0,434.5 71.2,435.5 71.3,433.2 71.4,424.3 71.6,422.6 71.7,424.5 71.8,435.4 72.0,431.3 72.1,427.2 72.2,424.7 72.4,437.3 72.5,427.6 72.6,418.4 72.8,429.9 72.9,432.6 73.0,437.3 73.1,435.6 73.3,437.4 73.4,437.6 73.5,437.2 73.7,442.2 73.8,457.8 73.9,434.1 74.1,438.0 74.2,429.4 74.3,439.1 74.5,439.2 74.6,438.5 74.7,441.4 74.9,441.1 75.0,455.0 75.1,446.6 75.2,435.7 75.4,431.2 75.5,440.0 75.6,435.4 75.8,429.9 75.9,451.2 76.0,446.6 76.2,445.9 76.3,443.4 76.4,443.8 76.6,434.6 76.7,431.1 76.8,423.6 77.0,438.0 77.1,424.3 77.2,423.7 77.4,430.4 77.5,424.1 77.6,433.8 77.7,434.2 77.9,428.5 78.0,434.3 78.1,440.4 78.3,441.2 78.4,429.0 78.5,430.6 78.7,419.9 78.8,431.0 78.9,432.0 79.1,436.8 79.2,437.0 79.3,446.1 79.5,454.1 79.6,448.1 79.7,424.9 79.9,443.8 80.0,430.6 80.1,432.4 80.2,430.6 80.4,433.4 80.5,431.7 80.6,433.5 80.8,413.5 80.9,423.6 81.0,422.5 81.2,423.9 81.3,435.1 81.4,435.4 81.6,436.7 81.7,445.3 81.8,432.8 82.0,430.0 82.1,437.1 82.2,418.2 82.3,421.3 82.5,422.8 82.6,432.3 82.7,443.1 82.9,428.9 83.0,436.5 83.1,441.1 83.3,430.3 83.4,437.3 83.5,429.6 83.7,437.7 83.8,436.1 83.9,429.1 84.1,436.2 84.2,438.7 84.3,430.1 84.5,440.4 84.6,429.6 84.7,419.1 84.8,428.7 85.0,429.1 85.1,436.7 85.2,437.8 85.4,416.5 85.5,423.0 85.6,424.1 85.8,447.0 85.9,452.8 86.0,438.7 86.2,425.3 86.3,423.9 86.4,439.2 86.6,447.0 86.7,415.1 86.8,413.1 86.9,406.3 87.1,403.0 87.2,417.2 87.3,412.3 87.5,413.7 87.6,407.5 87.7,415.1 87.9,421.3 88.0,407.2 88.1,413.2 88.3,411.6 88.4,419.7 88.5,420.4 88.7,415.8 88.8,416.3 88.9,397.3 89.1,398.6 89.2,416.6 89.3,428.0 89.4,414.2 89.6,424.9 89.7,433.6 89.8,417.3 90.0,416.7 90.1,417.4 90.2,413.3 90.4,440.2 90.5,420.5 90.6,414.6 90.8,425.1 90.9,433.1 91.0,436.3 91.2,413.5 91.3,424.8 91.4,431.6 91.6,439.4 91.7,417.6 91.8,412.3 91.9,423.1 92.1,416.6 92.2,424.2 92.3,421.7 92.5,426.6 92.6,424.8 92.7,421.8 92.9,421.0 93.0,416.0 93.1,424.2 93.3,420.0 93.4,409.3 93.5,405.1 93.7,408.7 93.8,409.6 93.9,413.0 94.0,437.2 94.2,419.2 94.3,427.4 94.4,430.5 94.6,431.9 94.7,431.5 94.8,435.1 95.0,434.5 95.1,413.8 95.2,428.7 95.4,412.9 95.5,406.7 95.6,417.2 95.8,410.4 95.9,420.0 96.0,426.3 96.2,403.5 96.3,397.7 96.4,431.6 96.5,418.5 96.7,435.4 96.8,425.3 96.9,442.1 97.1,427.1 97.2,415.8 97.3,411.6 97.5,423.8 97.6,409.3 97.7,404.2 97.9,408.2 98.0,421.7 98.1,438.7 98.3,426.3 98.4,437.8 98.5,445.5 98.7,443.9 98.8,446.6 98.9,443.6 99.0,429.0 99.2,445.0 99.3,455.5 99.4,456.5 99.6,441.6 99.7,445.4 99.8,446.8 100.0,454.4 100.1,453.5 100.2,443.5 100.4,436.4 100.5,442.9 100.6,445.0 100.8,438.0 100.9,448.2 101.0,436.2 101.1,461.1 101.3,461.1 101.4,444.6 101.5,445.5 101.7,444.3 101.8,436.2 101.9,437.5 102.1,436.6 102.2,433.4 102.3,438.4 102.5,437.6 102.6,440.5 102.7,442.1 102.9,442.4 103.0,434.5 103.1,436.3 103.3,439.3 103.4,439.4 103.5,440.0 103.6,429.5 103.8,436.2 103.9,423.7 104.0,425.2 104.2,419.8 104.3,425.8 104.4,425.6 104.6,430.8 104.7,434.4 104.8,430.9 105.0,433.0 105.1,443.3 105.2,442.9 105.4,442.6 105.5,410.9 105.6,433.1 105.7,432.0 105.9,428.3 106.0,424.3 106.1,424.9 106.3,436.1 106.4,425.1 106.5,438.7 106.7,429.0 106.8,429.1 106.9,418.1 107.1,421.5 107.2,411.2 107.3,430.7 107.5,429.4 107.6,421.1 107.7,416.5 107.9,429.7 108.0,420.0 108.1,430.1 108.2,430.0 108.4,434.1 108.5,432.4 108.6,435.0 108.8,437.6 108.9,443.3 109.0,429.5 109.2,426.7 109.3,428.4 109.4,432.1 109.6,433.1 109.7,424.2 109.8,447.1 110.0,441.4 110.1,434.4 110.2,436.4 110.4,428.3 110.5,454.5 110.6,431.2 110.7,429.5 110.9,432.4 111.0,414.0 111.1,418.4 111.3,418.6 111.4,429.8 111.5,432.4 111.7,431.5 111.8,423.7 111.9,425.2 112.1,423.7 112.2,437.6 112.3,432.1 112.5,445.5 112.6,440.3 112.7,433.7 112.8,447.2 113.0,442.7 113.1,432.3 113.2,439.8 113.4,436.1 113.5,441.8 113.6,429.2 113.8,423.7 113.9,422.5 114.0,432.3 114.2,435.8 114.3,433.9 114.4,422.1 114.6,421.7 114.7,425.8 114.8,434.0 115.0,436.4 115.1,435.3 115.2,438.5 115.3,437.7 115.5,433.3 115.6,438.0 115.7,441.0 115.9,439.8 116.0,441.4 116.1,434.1 116.3,440.4 116.4,433.8 116.5,446.0 116.7,442.0 116.8,443.1 116.9,432.7 117.1,413.6 117.2,436.2 117.3,446.3 117.4,439.3 117.6,436.3 117.7,423.5 117.8,427.4 118.0,430.7 118.1,442.0 118.2,428.6 118.4,424.2 118.5,434.7 118.6,444.1 118.8,441.5 118.9,438.9 119.0,445.8 119.2,454.6 119.3,436.1 119.4,442.2 119.6,441.7 119.7,425.2 119.8,443.9 119.9,439.4 120.1,424.1 120.2,436.7 120.3,425.8 120.5,441.2 120.6,427.2 120.7,439.9 120.9,443.9 121.0,429.5 121.1,447.3 121.3,435.9 121.4,430.7 121.5,417.4 121.7,446.4 121.8,424.3 121.9,429.8 122.1,434.2 122.2,446.6 122.3,437.0 122.4,441.5 122.6,450.6 122.7,416.9 122.8,421.0 123.0,415.1 123.1,402.9 123.2,419.1 123.4,424.8 123.5,410.3 123.6,409.3 123.8,389.5 123.9,428.4 124.0,425.1 124.2,419.0 124.3,422.9 124.4,421.8 124.5,421.7 124.7,435.0 124.8,432.5 124.9,413.7 125.1,416.1 125.2,416.5 125.3,407.9 125.5,421.8 125.6,414.6 125.7,413.1 125.9,417.3 126.0,417.9 126.1,418.7 126.3,406.7 126.4,432.1 126.5,439.8 126.7,427.6 126.8,428.8 126.9,435.4 127.0,441.8 127.2,435.8 127.3,435.4 127.4,426.0 127.6,428.7 127.7,423.1 127.8,418.5 128.0,423.1 128.1,406.6 128.2,427.4 128.4,411.3 128.5,408.5 128.6,410.4 128.8,413.5 128.9,432.8 129.0,425.7 129.2,427.1 129.3,426.6 129.4,436.9 129.5,433.1 129.7,422.6 129.8,420.4 129.9,428.7 130.1,422.8 130.2,423.4 130.3,424.4 130.5,420.1 130.6,404.1 130.7,408.8 130.9,414.5 131.0,414.3 131.1,407.3 131.3,417.8 131.4,417.9 131.5,411.4 131.6,402.8 131.8,405.1 131.9,403.8 132.0,419.8 132.2,416.6 132.3,418.0 132.4,417.0 132.6,427.3 132.7,423.7 132.8,421.1 133.0,417.6 133.1,413.2 133.2,419.4 133.4,418.2 133.5,407.2 133.6,408.6 133.8,383.3 133.9,383.5 134.0,391.2 134.1,397.7 134.3,414.0 134.4,396.1 134.5,412.3 134.7,415.1 134.8,404.5 134.9,405.1 135.1,400.4 135.2,394.2 135.3,382.8 135.5,397.7 135.6,396.7 135.7,403.1 135.9,410.3 136.0,393.3 136.1,405.1 136.2,411.3 136.4,397.5 136.5,397.4 136.6,392.7 136.8,410.5 136.9,397.3 137.0,400.7 137.2,417.3 137.3,408.6 137.4,402.0 137.6,392.6 137.7,403.6 137.8,391.3 138.0,387.6 138.1,401.6 138.2,411.0 138.4,422.9 138.5,402.4 138.6,414.3 138.7,400.5 138.9,406.4 139.0,394.5 139.1,412.2 139.3,398.5 139.4,399.5 139.5,410.6 139.7,405.4 139.8,411.0 139.9,397.8 140.1,407.3 140.2,391.2 140.3,414.5 140.5,422.2 140.6,413.1 140.7,393.7 140.9,421.2 141.0,405.6 141.1,410.6 141.2,410.8 141.4,427.4 141.5,413.5 141.6,416.7 141.8,411.1 141.9,405.7 142.0,416.2 142.2,402.5 142.3,419.2 142.4,412.1 142.6,413.7 142.7,419.2 142.8,420.3 143.0,432.7 143.1,417.9 143.2,422.9 143.3,414.7 143.5,429.6 143.6,439.3 143.7,431.3 143.9,428.1 144.0,421.2 144.1,412.3 144.3,416.3 144.4,418.4 144.5,415.3 144.7,432.0 144.8,419.2 144.9,417.2 145.1,415.1 145.2,407.6 145.3,393.2 145.5,411.8 145.6,423.2 145.7,408.0 145.8,410.2 146.0,410.6 146.1,414.6 146.2,411.5 146.4,406.1 146.5,408.5 146.6,411.1 146.8,416.5 146.9,404.8 147.0,403.5 147.2,403.7 147.3,409.4 147.4,393.4 147.6,414.6 147.7,408.0 147.8,399.0 147.9,379.6 148.1,402.6 148.2,398.6 148.3,410.9 148.5,391.1 148.6,406.3 148.7,405.3 148.9,403.6 149.0,405.0 149.1,398.3 149.3,388.6 149.4,402.7 149.5,401.0 149.7,406.4 149.8,414.8 149.9,406.5 150.1,385.2 150.2,383.2 150.3,393.1 150.4,393.2 150.6,398.7 150.7,391.1 150.8,406.9 151.0,405.7 151.1,414.1 151.2,396.6 151.4,410.4 151.5,408.4 151.6,415.9 151.8,428.0 151.9,394.2 152.0,394.4 152.2,394.3 152.3,402.7 152.4,408.5 152.6,404.0 152.7,411.9 152.8,403.8 152.9,404.1 153.1,410.5 153.2,412.4 153.3,404.3 153.5,409.0 153.6,405.4 153.7,404.4 153.9,413.0 154.0,414.6 154.1,391.8 154.3,389.2 154.4,400.4 154.5,391.6 154.7,401.7 154.8,406.1 154.9,411.1 155.0,418.9 155.2,419.6 155.3,435.5 155.4,423.2 155.6,427.3 155.7,419.1 155.8,424.0 156.0,417.4 156.1,399.5 156.2,401.8 156.4,399.1 156.5,394.9 156.6,399.4 156.8,410.8 156.9,406.2 157.0,406.2 157.2,400.0 157.3,403.2 157.4,395.6 157.5,398.6 157.7,412.9 157.8,412.5 157.9,408.7 158.1,399.4 158.2,398.2 158.3,398.9 158.5,387.3 158.6,398.4 158.7,386.2 158.9,385.9 159.0,391.2 159.1,394.1 159.3,387.2 159.4,383.5 159.5,393.9 159.7,386.4 159.8,388.3 159.9,394.4 160.0,390.6 160.2,386.2 160.3,391.7 160.4,384.3 160.6,382.5 160.7,380.5 160.8,389.3 161.0,397.2 161.1,406.0 161.2,402.6 161.4,405.5 161.5,390.7 161.6,392.7 161.8,397.2 161.9,404.2 162.0,388.4 162.1,393.9 162.3,399.4 162.4,401.2 162.5,392.3 162.7,395.1 162.8,415.4 162.9,408.0 163.1,402.5 163.2,411.3 163.3,410.6 163.5,409.4 163.6,399.0 163.7,413.0 163.9,401.8 164.0,398.7 164.1,411.3 164.3,396.4 164.4,398.8 164.5,427.6 164.6,400.6 164.8,397.4 164.9,392.9 165.0,393.7 165.2,401.8 165.3,399.0 165.4,413.1 165.6,429.3 165.7,416.3 165.8,423.0 166.0,410.6 166.1,401.1 166.2,388.8 166.4,410.7 166.5,428.5 166.6,411.5 166.7,428.3 166.9,428.1 167.0,428.0 167.1,413.2 167.3,420.7 167.4,394.6 167.5,404.2 167.7,391.6 167.8,378.5 167.9,395.6 168.1,406.8 168.2,399.1 168.3,390.0 168.5,393.2 168.6,397.1 168.7,398.1 168.9,410.8 169.0,423.9 169.1,408.7 169.2,401.4 169.4,396.4 169.5,399.7 169.6,390.8 169.8,380.4 169.9,394.5 170.0,402.8 170.2,395.5 170.3,407.4 170.4,399.3 170.6,400.8 170.7,397.4 170.8,400.9 171.0,388.0 171.1,397.7 171.2,404.4 171.4,392.5 171.5,384.1 171.6,370.0 171.7,379.1 171.9,389.7 172.0,381.6 172.1,385.5 172.3,387.2 172.4,391.2 172.5,387.8 172.7,392.3 172.8,388.7 172.9,391.6 173.1,395.2 173.2,399.5 173.3,389.8 173.5,399.2 173.6,405.5 173.7,396.6 173.8,392.2 174.0,398.4 174.1,401.3 174.2,394.3 174.4,391.3 174.5,394.4 174.6,407.5 174.8,387.8 174.9,396.2 175.0,413.9 175.2,401.8 175.3,397.7 175.4,387.5 175.6,383.2 175.7,380.0 175.8,376.1 176.0,390.2 176.1,386.4 176.2,385.3 176.3,384.0 176.5,391.2 176.6,387.6 176.7,392.6 176.9,376.7 177.0,373.2 177.1,382.7 177.3,385.1 177.4,385.2 177.5,401.4 177.7,391.8 177.8,399.2 177.9,387.7 178.1,381.2 178.2,388.5 178.3,389.5 178.4,380.5 178.6,390.4 178.7,389.1 178.8,378.1 179.0,396.0 179.1,397.3 179.2,400.5 179.4,390.8 179.5,396.0 179.6,379.4 179.8,385.7 179.9,376.0 180.0,393.1 180.2,387.3 180.3,381.3 180.4,388.5 180.6,383.6 180.7,382.0 180.8,383.0 180.9,383.8 181.1,372.0 181.2,382.6 181.3,384.5 181.5,378.8 181.6,383.2 181.7,389.0 181.9,395.6 182.0,403.1 182.1,390.8 182.3,393.8 182.4,388.1 182.5,399.8 182.7,396.4 182.8,388.0 182.9,392.7 183.1,385.8 183.2,382.3 183.3,393.0 183.4,384.0 183.6,396.4 183.7,389.1 183.8,412.0 184.0,402.9 184.1,392.7 184.2,390.9 184.4,402.4 184.5,392.9 184.6,385.6 184.8,389.7 184.9,382.6 185.0,397.0 185.2,402.9 185.3,399.6 185.4,409.3 185.5,405.6 185.7,416.9 185.8,392.5 185.9,398.0 186.1,403.2 186.2,392.0 186.3,398.1 186.5,389.1 186.6,396.9 186.7,385.2 186.9,389.7 187.0,380.5 187.1,389.4 187.3,389.4 187.4,368.7 187.5,398.8 187.7,369.1 187.8,396.0 187.9,382.5 188.0,387.1 188.2,376.0 188.3,380.3 188.4,388.5 188.6,380.2 188.7,396.6 188.8,385.1 189.0,379.1 189.1,395.2 189.2,403.6 189.4,387.3 189.5,394.5 189.6,391.8 189.8,397.5 189.9,401.1 190.0,400.3 190.2,407.2 190.3,418.5 190.4,408.9 190.5,401.1 190.7,391.4 190.8,396.4 190.9,405.1 191.1,411.6 191.2,400.3 191.3,398.2 191.5,414.1 191.6,410.2 191.7,421.3 191.9,412.7 192.0,402.2 192.1,406.5 192.3,407.2 192.4,409.3 192.5,412.5 192.6,405.8 192.8,401.9 192.9,417.5 193.0,400.9 193.2,412.4 193.3,379.7 193.4,394.0 193.6,402.8 193.7,405.4 193.8,398.5 194.0,394.7 194.1,405.5 194.2,395.7 194.4,393.7 194.5,402.2 194.6,409.0 194.8,401.4 194.9,404.3 195.0,402.4 195.1,407.5 195.3,418.0 195.4,408.8 195.5,420.6 195.7,416.6 195.8,407.2 195.9,422.2 196.1,419.4 196.2,428.4 196.3,417.3 196.5,414.8 196.6,410.2 196.7,411.2 196.9,402.3 197.0,415.8 197.1,420.3 197.2,414.2 197.4,418.6 197.5,428.8 197.6,432.4 197.8,431.8 197.9,429.2 198.0,436.4 198.2,430.0 198.3,436.4 198.4,413.2 198.6,421.1 198.7,428.3 198.8,423.1 199.0,427.6 199.1,448.5 199.2,439.9 199.4,414.9 199.5,415.2 199.6,410.6 199.7,407.7 199.9,392.9 200.0,397.8 200.1,409.5 200.3,390.2 200.4,400.7 200.5,402.5 200.7,407.0 200.8,408.5 200.9,419.0 201.1,423.5 201.2,419.6 201.3,420.8 201.5,415.4 201.6,422.0 201.7,406.8 201.9,414.8 202.0,421.7 202.1,408.3 202.2,414.8 202.4,415.3 202.5,413.6 202.6,404.8 202.8,422.5 202.9,407.9 203.0,412.6 203.2,419.1 203.3,390.4 203.4,416.2 203.6,408.2 203.7,410.8 203.8,420.4 204.0,425.0 204.1,414.3 204.2,404.1 204.3,418.2 204.5,413.2 204.6,390.2 204.7,422.9 204.9,403.0 205.0,416.0 205.1,419.8 205.3,413.2 205.4,415.5 205.5,434.8 205.7,427.4 205.8,425.4 205.9,421.6 206.1,431.9 206.2,426.1 206.3,416.9 206.5,426.7 206.6,415.9 206.7,413.0 206.8,414.3 207.0,424.3 207.1,424.8 207.2,413.4 207.4,447.4 207.5,436.2 207.6,422.2 207.8,433.1 207.9,432.4 208.0,413.8 208.2,414.4 208.3,422.0 208.4,427.4 208.6,414.5 208.7,392.7 208.8,410.6 208.9,416.8 209.1,406.2 209.2,406.9 209.3,406.4 209.5,391.2 209.6,415.0 209.7,403.3 209.9,395.2 210.0,396.7 210.1,410.8 210.3,424.0 210.4,427.0 210.5,413.6 210.7,418.5 210.8,430.0 210.9,450.9 211.1,419.2 211.2,423.3 211.3,414.9 211.4,418.7 211.6,436.5 211.7,421.4 211.8,420.3 212.0,416.0 212.1,416.3 212.2,414.5 212.4,421.9 212.5,424.0 212.6,423.9 212.8,425.7 212.9,418.2 213.0,416.6 213.2,420.4 213.3,401.6 213.4,409.0 213.6,419.4 213.7,396.0 213.8,425.6 213.9,450.9 214.1,422.8 214.2,433.2 214.3,427.8 214.5,416.1 214.6,434.8 214.7,420.4 214.9,424.6 215.0,428.4 215.1,429.7 215.3,423.2 215.4,417.9 215.5,429.1 215.7,419.3 215.8,432.9 215.9,422.9 216.0,419.8 216.2,418.2 216.3,413.6 216.4,415.3 216.6,419.8 216.7,424.5 216.8,430.3 217.0,420.8 217.1,430.4 217.2,415.6 217.4,419.9 217.5,414.4 217.6,429.1 217.8,416.2 217.9,420.7 218.0,423.1 218.2,431.2 218.3,432.4 218.4,425.4 218.5,418.2 218.7,414.5 218.8,420.4 218.9,408.2 219.1,408.0 219.2,438.9 219.3,417.9 219.5,415.0 219.6,415.1 219.7,429.6 219.9,424.0 220.0,419.7 220.1,413.0 220.3,414.9 220.4,411.2 220.5,416.7 220.7,406.6 220.8,412.8 220.9,406.3 221.0,415.8 221.2,421.2 221.3,425.7 221.4,405.6 221.6,424.9 221.7,433.5 221.8,436.8 222.0,421.9 222.1,438.8 222.2,435.0 222.4,433.2 222.5,425.5 222.6,429.9 222.8,430.5 222.9,407.6 223.0,400.7 223.1,415.2 223.3,409.6 223.4,396.6 223.5,414.6 223.7,425.3 223.8,419.5 223.9,409.6 224.1,396.5 224.2,415.0 224.3,420.1 224.5,427.8 224.6,418.3 224.7,412.6 224.9,413.2 225.0,408.7 225.1,410.1 225.3,408.4 225.4,409.6 225.5,415.3 225.6,412.9 225.8,403.1 225.9,416.6 226.0,423.9 226.2,406.7 226.3,410.6 226.4,409.1 226.6,404.2 226.7,393.5 226.8,393.8 227.0,402.6 227.1,408.1 227.2,393.0 227.4,403.8 227.5,396.4 227.6,403.3 227.7,408.3 227.9,410.7 228.0,402.3 228.1,403.3 228.3,382.9 228.4,400.2 228.5,396.8 228.7,402.9 228.8,404.8 228.9,403.0 229.1,403.2 229.2,410.2 229.3,417.9 229.5,428.6 229.6,409.1 229.7,413.3 229.9,406.6 230.0,409.8 230.1,408.0 230.2,410.6 230.4,411.5 230.5,403.0 230.6,413.4 230.8,411.2 230.9,382.1 231.0,420.1 231.2,416.9 231.3,415.6 231.4,414.7 231.6,409.8 231.7,405.5 231.8,397.3 232.0,394.7 232.1,402.2 232.2,393.3 232.4,396.1 232.5,404.6 232.6,401.1 232.7,388.7 232.9,417.2 233.0,412.1 233.1,396.8 233.3,418.6 233.4,414.2 233.5,429.1 233.7,423.4 233.8,421.9 233.9,410.2 234.1,417.9 234.2,408.4 234.3,396.6 234.5,423.0 234.6,405.6 234.7,411.5 234.8,412.1 235.0,407.5 235.1,411.1 235.2,415.2 235.4,422.1 235.5,426.7 235.6,415.4 235.8,425.1 235.9,421.6 236.0,413.2 236.2,427.2 236.3,411.3 236.4,423.5 236.6,423.1 236.7,419.0 236.8,423.2 237.0,421.6 237.1,417.4 237.2,435.9 237.3,408.3 237.5,408.8 237.6,399.2 237.7,407.1 237.9,403.4 238.0,414.0 238.1,406.8 238.3,403.6 238.4,407.2 238.5,402.1 238.7,402.2 238.8,394.1 238.9,415.5 239.1,409.3 239.2,418.4 239.3,415.3 239.4,434.4 239.6,395.9 239.7,418.5 239.8,405.4 240.0,413.4 240.1,394.5 240.2,415.4 240.4,401.9 240.5,401.2 240.6,407.1 240.8,401.2 240.9,390.5 241.0,389.2 241.2,384.1 241.3,386.6 241.4,397.0 241.6,394.6 241.7,395.8 241.8,392.0 241.9,400.9 242.1,401.2 242.2,418.0 242.3,402.9 242.5,405.4 242.6,401.4 242.7,379.9 242.9,390.1 243.0,402.2 243.1,379.9 243.3,398.6 243.4,427.5 243.5,406.3 243.7,408.0 243.8,399.6 243.9,410.2 244.1,416.8 244.2,407.3 244.3,415.7 244.4,405.7 244.6,408.1 244.7,410.6 244.8,412.6 245.0,396.3 245.1,401.3 245.2,411.2 245.4,404.3 245.5,422.2 245.6,409.0 245.8,421.7 245.9,412.1 246.0,415.5 246.2,412.6 246.3,418.3 246.4,400.1 246.5,405.7 246.7,409.0 246.8,418.1 246.9,403.8 247.1,417.3 247.2,408.6 247.3,395.4 247.5,413.3 247.6,427.3 247.7,402.5 247.9,403.6 248.0,406.4 248.1,401.5 248.3,407.9 248.4,399.1 248.5,412.0 248.7,415.4 248.8,416.5 248.9,394.2 249.0,407.3 249.2,414.0 249.3,408.1 249.4,413.9 249.6,405.8 249.7,403.0 249.8,409.9 250.0,403.1 250.1,391.1 250.2,388.8 250.4,404.4 250.5,391.5 250.6,399.8 250.8,385.6 250.9,401.2 251.0,394.3 251.2,392.0 251.3,394.2 251.4,400.8 251.5,413.4 251.7,409.7 251.8,408.0 251.9,398.9 252.1,400.2 252.2,381.5 252.3,396.2 252.5,397.1 252.6,406.7 252.7,416.6 252.9,409.6 253.0,406.1 253.1,400.4 253.3,405.4 253.4,398.6 253.5,398.7 253.6,402.3 253.8,412.0 253.9,406.4 254.0,393.8 254.2,406.7 254.3,414.6 254.4,406.7 254.6,404.5 254.7,417.8 254.8,397.3 255.0,384.1 255.1,414.8 255.2,404.5 255.4,390.6 255.5,391.1 255.6,398.4 255.8,393.3 255.9,395.5 256.0,394.8 256.1,409.8 256.3,409.5 256.4,409.9 256.5,406.8 256.7,399.8 256.8,397.0 256.9,405.9 257.1,399.4 257.2,402.2 257.3,410.1 257.5,418.3 257.6,407.0 257.7,400.6 257.9,400.9 258.0,394.8 258.1,396.7 258.2,413.1 258.4,403.3 258.5,402.5 258.6,404.4 258.8,408.2 258.9,413.9 259.0,405.8 259.2,406.0 259.3,406.3 259.4,405.8 259.6,404.6 259.7,411.4 259.8,408.1 260.0,408.0 260.1,407.6 260.2,402.3 260.4,405.7 260.5,411.7 260.6,382.8 260.7,408.6 260.9,396.5 261.0,407.3 261.1,392.7 261.3,402.9 261.4,399.6 261.5,423.5 261.7,403.9 261.8,390.9 261.9,398.4 262.1,392.4 262.2,406.4 262.3,405.2 262.5,413.8 262.6,413.7 262.7,426.6 262.9,418.7 263.0,401.2 263.1,409.7 263.2,378.9 263.4,400.8 263.5,401.9 263.6,389.9 263.8,408.1 263.9,408.3 264.0,409.9 264.2,401.9 264.3,400.6 264.4,407.6 264.6,409.3 264.7,411.1 264.8,401.1 265.0,373.7 265.1,401.0 265.2,406.8 265.3,406.4 265.5,399.1 265.6,410.0 265.7,387.9 265.9,394.9 266.0,393.6 266.1,390.1 266.3,389.2 266.4,394.2 266.5,399.3 266.7,401.9 266.8,393.9 266.9,390.1 267.1,398.4 267.2,396.3 267.3,401.0 267.5,406.4 267.6,404.2 267.7,397.6 267.8,402.6 268.0,388.3 268.1,397.7 268.2,398.5 268.4,393.2 268.5,406.9 268.6,407.0 268.8,387.2 268.9,395.0 269.0,410.4 269.2,384.4 269.3,375.2 269.4,370.2 269.6,384.8 269.7,370.3 269.8,378.7 269.9,375.9 270.1,376.9 270.2,386.4 270.3,391.3 270.5,391.0 270.6,386.3 270.7,389.4 270.9,383.5 271.0,396.2 271.1,386.8 271.3,398.7 271.4,399.6 271.5,400.3 271.7,407.3 271.8,406.5 271.9,394.3 272.1,389.6 272.2,393.7 272.3,399.6 272.4,402.8 272.6,399.1 272.7,398.0 272.8,387.5 273.0,390.4 273.1,397.6 273.2,375.4 273.4,390.2 273.5,389.9 273.6,384.4 273.8,391.5 273.9,391.6 274.0,395.4 274.2,389.3 274.3,394.9 274.4,400.7 274.6,394.6 274.7,393.5 274.8,381.4 274.9,381.0 275.1,393.9 275.2,388.3 275.3,407.8 275.5,389.6 275.6,392.3 275.7,394.0 275.9,408.6 276.0,399.3 276.1,399.1 276.3,409.0 276.4,390.9 276.5,410.9 276.7,396.0 276.8,398.4 276.9,399.6 277.0,397.8 277.2,390.0 277.3,392.0 277.4,399.6 277.6,393.0 277.7,380.3 277.8,384.9 278.0,372.8 278.1,386.4 278.2,399.5 278.4,387.8 278.5,399.5 278.6,390.7 278.8,398.2 278.9,399.7 279.0,391.5 279.2,395.2 279.3,412.2 279.4,419.9 279.5,408.9 279.7,397.9 279.8,401.8 279.9,395.2 280.1,401.3 280.2,396.8 280.3,399.4 280.5,391.3 280.6,392.3 280.7,400.1 280.9,407.0 281.0,398.1 281.1,415.4 281.3,404.9 281.4,404.7 281.5,408.2 281.7,408.1 281.8,396.3 281.9,406.2 282.0,389.4 282.2,401.0 282.3,398.2 282.4,402.3 282.6,418.0 282.7,392.0 282.8,387.1 283.0,390.2 283.1,381.9 283.2,368.2 283.4,384.2 283.5,385.6 283.6,382.9 283.8,397.3 283.9,392.2 284.0,398.7 284.1,397.6 284.3,401.8 284.4,395.3 284.5,396.3 284.7,388.1 284.8,389.3 284.9,392.7 285.1,383.4 285.2,385.6 285.3,387.6 285.5,398.8 285.6,406.2 285.7,403.4 285.9,393.9 286.0,401.5 286.1,399.6 286.3,402.9 286.4,391.1 286.5,373.3 286.6,393.8 286.8,433.3 286.9,393.7 287.0,397.6 287.2,382.8 287.3,404.3 287.4,402.6 287.6,389.8 287.7,403.8 287.8,405.7 288.0,397.1 288.1,408.1 288.2,416.7 288.4,409.5 288.5,412.7 288.6,418.0 288.7,398.8 288.9,413.1 289.0,402.2 289.1,402.9 289.3,408.4 289.4,398.8 289.5,396.9 289.7,407.9 289.8,414.5 289.9,408.1 290.1,416.5 290.2,413.9 290.3,427.7 290.5,402.6 290.6,417.6 290.7,417.5 290.9,427.1 291.0,425.6 291.1,428.0 291.2,436.3 291.4,433.4 291.5,429.3 291.6,431.7 291.8,420.1 291.9,407.5 292.0,417.7 292.2,388.4 292.3,406.6 292.4,405.5 292.6,407.3 292.7,409.7 292.8,393.6 293.0,404.0 293.1,408.2 293.2,426.3 293.4,416.0 293.5,405.4 293.6,411.7 293.7,413.0 293.9,415.1 294.0,429.2 294.1,408.4 294.3,396.2 294.4,404.5 294.5,401.0 294.7,403.8 294.8,412.8 294.9,404.5 295.1,407.3 295.2,398.5 295.3,398.7 295.5,412.2 295.6,427.2 295.7,427.5 295.8,419.1 296.0,417.0 296.1,432.7 296.2,416.8 296.4,420.0 296.5,409.5 296.6,415.6 296.8,429.9 296.9,448.0 297.0,423.0 297.2,433.9 297.3,409.0 297.4,402.1 297.6,400.8 297.7,423.6 297.8,424.4 298.0,432.2 298.1,439.3 298.2,424.4 298.3,423.0 298.5,391.8 298.6,414.6 298.7,424.2 298.9,413.5 299.0,426.3 299.1,421.1 299.3,400.8 299.4,421.8 299.5,403.4 299.7,405.4 299.8,409.8 299.9,421.1 300.1,424.8 300.2,414.6 300.3,401.5 300.4,422.0 300.6,412.7 300.7,407.7 300.8,406.8 301.0,403.0 301.1,405.8 301.2,411.5 301.4,422.7 301.5,421.4 301.6,421.5 301.8,416.1 301.9,430.9 302.0,418.1 302.2,440.4 302.3,425.9 302.4,434.1 302.6,415.5 302.7,438.9 302.8,430.4 302.9,439.7 303.1,430.5 303.2,421.7 303.3,418.5 303.5,416.0 303.6,418.7 303.7,418.2 303.9,416.4 304.0,451.5 304.1,426.0 304.3,421.0 304.4,424.7 304.5,413.5 304.7,420.0 304.8,433.2 304.9,430.3 305.1,415.1 305.2,440.8 305.3,438.7 305.4,436.1 305.6,439.1 305.7,428.8 305.8,431.1 306.0,431.9 306.1,422.8 306.2,426.8 306.4,429.7 306.5,422.5 306.6,420.6 306.8,416.8 306.9,423.1 307.0,428.5 307.2,424.5 307.3,408.8 307.4,430.9 307.5,411.7 307.7,433.8 307.8,428.7 307.9,435.0 308.1,411.8 308.2,415.5 308.3,425.2 308.5,421.6 308.6,430.8 308.7,428.2 308.9,439.0 309.0,429.0 309.1,426.4 309.3,416.5 309.4,425.5 309.5,426.7 309.7,437.9 309.8,441.6 309.9,423.8 310.0,413.1 310.2,410.7 310.3,405.6 310.4,409.0 310.6,415.2 310.7,417.5 310.8,408.0 311.0,428.7 311.1,417.1 311.2,437.3 311.4,434.4 311.5,429.8 311.6,434.1 311.8,403.0 311.9,418.5 312.0,418.0 312.2,413.8 312.3,414.9 312.4,423.6 312.5,412.8 312.7,411.8 312.8,431.8 312.9,430.4 313.1,437.9 313.2,418.3 313.3,405.0 313.5,412.5 313.6,408.1 313.7,427.7 313.9,422.1 314.0,414.8 314.1,422.3 314.3,419.0 314.4,416.1 314.5,420.2 314.6,432.9 314.8,424.5 314.9,403.9 315.0,428.9 315.2,419.4 315.3,416.2 315.4,420.1 315.6,406.1 315.7,415.6" fill="none" stroke="#0808d8" stroke-width="0.9" stroke-linejoin="bevel" opacity="1"/>
<polyline id="s6" points="52.9,414.4 53.0,415.8 53.2,426.5 53.3,420.0 53.4,415.5 53.6,400.1 53.7,396.4 53.8,418.6 54.0,408.1 54.1,400.6 54.2,412.9 54.3,420.4 54.5,427.7 54.6,419.7 54.7,424.7 54.9,423.8 55.0,412.4 55.1,406.3 55.3,407.7 55.4,403.5 55.5,417.9 55.7,417.0 55.8,416.6 55.9,419.6 56.1,429.8 56.2,434.4 56.3,444.1 56.4,439.8 56.6,419.4 56.7,430.6 56.8,420.6 57.0,417.1 57.1,416.4 57.2,421.4 57.4,416.3 57.5,428.4 57.6,419.7 57.8,430.6 57.9,423.0 58.0,430.7 58.2,422.0 58.3,419.2 58.4,420.4 58.6,413.4 58.7,425.7 58.8,414.2 58.9,428.4 59.1,416.2 59.2,418.5 59.3,428.3 59.5,417.1 59.6,408.2 59.7,414.9 59.9,416.4 60.0,420.8 60.1,438.4 60.3,439.3 60.4,428.1 60.5,421.2 60.7,431.7 60.8,431.6 60.9,422.7 61.1,414.9 61.2,410.7 61.3,420.0 61.4,420.1 61.6,425.4 61.7,428.9 61.8,418.3 62.0,420.2 62.1,429.9 62.2,419.8 62.4,418.0 62.5,434.6 62.6,434.5 62.8,434.6 62.9,455.3 63.0,439.5 63.2,442.4 63.3,422.9 63.4,434.8 63.5,448.1 63.7,426.7 63.8,436.0 63.9,430.8 64.1,436.3 64.2,426.1 64.3,416.7 64.5,420.0 64.6,430.1 64.7,423.8 64.9,422.4 65.0,427.2 65.1,410.1 65.3,436.1 65.4,436.7 65.5,436.1 65.7,436.8 65.8,440.7 65.9,424.6 66.0,428.2 66.2,428.8 66.3,443.1 66.4,420.0 66.6,426.2 66.7,440.1 66.8,432.8 67.0,445.1 67.1,457.3 67.2,451.2 67.4,458.1 67.5,458.2 67.6,444.9 67.8,435.6 67.9,420.6 68.0,456.8 68.2,425.7 68.3,432.4 68.4,433.0 68.5,433.5 68.7,429.1 68.8,431.0 68.9,425.0 69.1,426.4 69.2,409.9 69.3,429.8 69.5,432.1 69.6,437.2 69.7,437.2 69.9,434.5 70.0,430.5 70.1,422.8 70.3,435.4 70.4,417.7 70.5,428.1 70.6,417.5 70.8,427.6 70.9,422.4 71.0,416.0 71.2,430.1 71.3,403.6 71.4,418.9 71.6,418.6 71.7,423.7 71.8,434.0 72.0,442.6 72.1,435.9 72.2,435.6 72.4,440.1 72.5,420.9 72.6,431.4 72.8,453.3 72.9,427.1 73.0,420.9 73.1,421.3 73.3,422.9 73.4,428.8 73.5,428.8 73.7,458.4 73.8,444.7 73.9,428.2 74.1,457.9 74.2,437.2 74.3,447.7 74.5,438.0 74.6,439.5 74.7,451.2 74.9,439.0 75.0,451.8 75.1,431.0 75.2,415.8 75.4,418.7 75.5,421.3 75.6,417.5 75.8,432.0 75.9,410.4 76.0,431.9 76.2,426.1 76.3,426.0 76.4,433.0 76.6,421.9 76.7,430.2 76.8,420.9 77.0,405.6 77.1,425.1 77.2,405.7 77.4,433.3 77.5,417.6 77.6,413.3 77.7,415.6 77.9,436.5 78.0,432.5 78.1,412.2 78.3,412.4 78.4,415.4 78.5,420.6 78.7,416.6 78.8,425.7 78.9,431.1 79.1,406.3 79.2,438.5 79.3,438.4 79.5,436.3 79.6,436.3 79.7,439.4 79.9,449.2 80.0,453.7 80.1,442.7 80.2,426.1 80.4,427.1 80.5,410.7 80.6,410.0 80.8,420.6 80.9,426.9 81.0,421.2 81.2,433.5 81.3,434.8 81.4,429.0 81.6,424.7 81.7,428.3 81.8,450.0 82.0,434.9 82.1,446.0 82.2,439.3 82.3,438.8 82.5,432.7 82.6,460.6 82.7,455.6 82.9,448.1 83.0,443.2 83.1,439.4 83.3,440.2 83.4,444.8 83.5,447.8 83.7,445.7 83.8,436.9 83.9,449.5 84.1,451.9 84.2,448.7 84.3,457.0 84.5,451.2 84.6,444.1 84.7,435.4 84.8,442.6 85.0,441.4 85.1,439.2 85.2,430.6 85.4,427.3 85.5,410.4 85.6,427.2 85.8,418.0 85.9,439.8 86.0,450.5 86.2,446.1 86.3,437.6 86.4,445.5 86.6,452.2 86.7,440.9 86.8,440.6 86.9,443.0 87.1,435.7 87.2,439.6 87.3,439.1 87.5,430.3 87.6,444.0 87.7,433.7 87.9,450.6 88.0,441.1 88.1,445.7 88.3,435.6 88.4,427.1 88.5,440.7 88.7,441.6 88.8,443.7 88.9,450.1 89.1,452.7 89.2,437.1 89.3,456.6 89.4,439.5 89.6,442.3 89.7,442.1 89.8,428.4 90.0,440.9 90.1,443.4 90.2,455.6 90.4,429.1 90.5,431.1 90.6,435.8 90.8,440.2 90.9,442.9 91.0,449.6 91.2,461.9 91.3,442.2 91.4,465.8 91.6,442.0 91.7,467.5 91.8,447.3 91.9,435.2 92.1,441.9 92.2,429.1 92.3,467.5 92.5,439.9 92.6,453.2 92.7,437.3 92.9,420.2 93.0,431.0 93.1,429.1 93.3,432.4 93.4,445.2 93.5,447.5 93.7,455.3 93.8,439.4 93.9,456.4 94.0,439.3 94.2,448.9 94.3,452.3 94.4,447.9 94.6,434.3 94.7,430.4 94.8,430.9 95.0,435.7 95.1,440.0 95.2,441.4 95.4,437.2 95.5,443.4 95.6,443.1 95.8,452.8 95.9,444.2 96.0,453.3 96.2,443.5 96.3,455.3 96.4,437.9 96.5,437.5 96.7,434.7 96.8,448.4 96.9,448.5 97.1,426.3 97.2,422.3 97.3,436.9 97.5,449.4 97.6,442.3 97.7,440.2 97.9,445.7 98.0,438.5 98.1,440.3 98.3,434.4 98.4,435.2 98.5,447.2 98.7,450.7 98.8,423.7 98.9,444.0 99.0,428.1 99.2,432.8 99.3,434.5 99.4,433.0 99.6,439.8 99.7,427.4 99.8,443.9 100.0,440.3 100.1,432.7 100.2,441.0 100.4,437.6 100.5,423.2 100.6,425.8 100.8,427.8 100.9,418.8 101.0,429.1 101.1,419.0 101.3,407.7 101.4,431.9 101.5,439.2 101.7,432.0 101.8,445.4 101.9,439.5 102.1,435.7 102.2,440.8 102.3,441.2 102.5,446.9 102.6,439.7 102.7,423.9 102.9,444.3 103.0,434.1 103.1,428.8 103.3,433.7 103.4,428.0 103.5,429.4 103.6,419.2 103.8,418.2 103.9,426.3 104.0,405.2 104.2,427.1 104.3,428.2 104.4,436.7 104.6,437.2 104.7,424.2 104.8,444.1 105.0,428.8 105.1,435.7 105.2,454.0 105.4,428.5 105.5,430.7 105.6,436.9 105.7,443.3 105.9,416.3 106.0,412.0 106.1,423.1 106.3,422.6 106.4,429.8 106.5,423.2 106.7,418.8 106.8,411.4 106.9,396.4 107.1,437.6 107.2,424.9 107.3,437.6 107.5,427.8 107.6,426.8 107.7,431.7 107.9,415.8 108.0,410.4 108.1,425.6 108.2,407.9 108.4,429.8 108.5,428.9 108.6,432.5 108.8,434.7 108.9,423.6 109.0,425.6 109.2,431.5 109.3,419.1 109.4,422.6 109.6,421.8 109.7,428.9 109.8,423.4 110.0,414.0 110.1,411.8 110.2,411.8 110.4,424.1 110.5,432.1 110.6,449.6 110.7,429.4 110.9,423.4 111.0,421.8 111.1,434.0 111.3,434.1 111.4,443.3 111.5,425.5 111.7,434.1 111.8,403.1 111.9,417.1 112.1,423.0 112.2,431.1 112.3,403.0 112.5,403.2 112.6,395.5 112.7,401.4 112.8,396.9 113.0,398.9 113.1,400.4 113.2,402.9 113.4,389.4 113.5,378.9 113.6,401.3 113.8,408.4 113.9,388.5 114.0,400.4 114.2,402.4 114.3,398.7 114.4,386.0 114.6,405.6 114.7,388.6 114.8,384.7 115.0,408.7 115.1,399.2 115.2,396.1 115.3,391.3 115.5,390.9 115.6,406.5 115.7,411.4 115.9,403.3 116.0,413.7 116.1,413.0 116.3,429.1 116.4,422.8 116.5,428.4 116.7,420.5 116.8,419.1 116.9,413.9 117.1,412.5 117.2,404.0 117.3,400.8 117.4,423.7 117.6,431.2 117.7,430.3 117.8,445.3 118.0,434.2 118.1,430.5 118.2,429.9 118.4,420.7 118.5,446.6 118.6,445.3 118.8,455.8 118.9,436.3 119.0,436.2 119.2,441.9 119.3,439.7 119.4,436.5 119.6,439.8 119.7,418.7 119.8,413.6 119.9,415.9 120.1,430.6 120.2,427.3 120.3,432.7 120.5,432.2 120.6,423.5 120.7,433.0 120.9,445.5 121.0,442.3 121.1,449.1 121.3,426.0 121.4,426.5 121.5,409.6 121.7,423.3 121.8,417.0 121.9,414.7 122.1,422.0 122.2,418.6 122.3,437.7 122.4,426.1 122.6,445.3 122.7,440.3 122.8,429.0 123.0,444.3 123.1,437.8 123.2,456.5 123.4,430.4 123.5,456.5 123.6,456.1 123.8,437.3 123.9,436.9 124.0,445.9 124.2,442.3 124.3,424.6 124.4,433.6 124.5,428.7 124.7,428.9 124.8,436.2 124.9,426.0 125.1,420.5 125.2,426.7 125.3,423.4 125.5,421.3 125.6,408.9 125.7,421.9 125.9,416.4 126.0,414.5 126.1,397.5 126.3,418.6 126.4,415.2 126.5,414.6 126.7,422.7 126.8,417.5 126.9,416.1 127.0,426.1 127.2,437.1 127.3,423.4 127.4,416.9 127.6,420.4 127.7,413.1 127.8,416.8 128.0,417.9 128.1,438.0 128.2,428.1 128.4,446.8 128.5,440.6 128.6,437.5 128.8,439.0 128.9,424.1 129.0,442.7 129.2,431.9 129.3,436.9 129.4,432.0 129.5,427.9 129.7,431.4 129.8,437.5 129.9,437.8 130.1,438.2 130.2,435.0 130.3,429.3 130.5,433.8 130.6,414.1 130.7,443.8 130.9,428.5 131.0,432.2 131.1,424.5 131.3,421.9 131.4,428.4 131.5,424.8 131.6,422.0 131.8,440.2 131.9,446.4 132.0,439.0 132.2,428.1 132.3,430.0 132.4,438.4 132.6,434.9 132.7,424.7 132.8,438.1 133.0,433.8 133.1,436.3 133.2,427.2 133.4,420.9 133.5,428.7 133.6,426.8 133.8,435.9 133.9,426.5 134.0,425.6 134.1,427.8 134.3,420.6 134.4,440.4 134.5,431.8 134.7,434.7 134.8,427.4 134.9,433.2 135.1,440.6 135.2,435.8 135.3,433.7 135.5,422.9 135.6,425.7 135.7,434.5 135.9,421.4 136.0,427.0 136.1,428.9 136.2,436.1 136.4,442.5 136.5,426.2 136.6,428.1 136.8,439.8 136.9,420.5 137.0,440.8 137.2,432.1 137.3,416.8 137.4,440.7 137.6,447.7 137.7,429.5 137.8,441.4 138.0,433.5 138.1,423.8 138.2,434.8 138.4,425.3 138.5,423.8 138.6,448.4 138.7,436.6 138.9,433.6 139.0,435.8 139.1,428.0 139.3,425.1 139.4,424.3 139.5,421.8 139.7,433.1 139.8,424.8 139.9,422.9 140.1,416.5 140.2,424.7 140.3,422.4 140.5,425.1 140.6,426.7 140.7,424.9 140.9,423.9 141.0,422.1 141.1,425.1 141.2,420.2 141.4,430.7 141.5,436.2 141.6,442.8 141.8,430.7 141.9,429.1 142.0,432.0 142.2,414.9 142.3,416.5 142.4,423.6 142.6,427.3 142.7,415.0 142.8,425.4 143.0,426.7 143.1,431.1 143.2,432.2 143.3,421.6 143.5,424.0 143.6,428.8 143.7,418.8 143.9,436.7 144.0,436.2 144.1,432.4 144.3,421.0 144.4,424.3 144.5,425.7 144.7,435.2 144.8,418.1 144.9,428.8 145.1,424.0 145.2,401.8 145.3,424.7 145.5,417.5 145.6,428.4 145.7,431.9 145.8,436.8 146.0,425.1 146.1,427.8 146.2,426.1 146.4,424.3 146.5,431.2 146.6,420.5 146.8,431.3 146.9,423.4 147.0,419.0 147.2,410.8 147.3,437.5 147.4,421.9 147.6,422.0 147.7,435.2 147.8,417.4 147.9,438.6 148.1,437.0 148.2,434.7 148.3,426.3 148.5,445.1 148.6,426.7 148.7,424.0 148.9,413.2 149.0,428.1 149.1,416.2 149.3,430.1 149.4,424.9 149.5,423.4 149.7,435.5 149.8,432.5 149.9,430.9 150.1,435.6 150.2,430.4 150.3,432.4 150.4,423.6 150.6,425.5 150.7,429.0 150.8,428.2 151.0,436.6 151.1,418.9 151.2,436.8 151.4,440.8 151.5,445.2 151.6,424.1 151.8,433.0 151.9,429.8 152.0,423.4 152.2,432.8 152.3,424.2 152.4,423.1 152.6,432.7 152.7,430.4 152.8,432.4 152.9,426.7 153.1,431.6 153.2,409.1 153.3,401.0 153.5,398.4 153.6,410.6 153.7,410.8 153.9,409.9 154.0,414.6 154.1,416.0 154.3,401.2 154.4,411.2 154.5,418.8 154.7,417.6 154.8,413.9 154.9,420.4 155.0,434.3 155.2,434.7 155.3,439.5 155.4,439.1 155.6,423.7 155.7,442.4 155.8,434.5 156.0,441.3 156.1,420.7 156.2,432.3 156.4,430.0 156.5,420.8 156.6,426.0 156.8,421.1 156.9,432.4 157.0,432.1 157.2,420.9 157.3,419.0 157.4,419.7 157.5,433.8 157.7,443.9 157.8,428.3 157.9,438.2 158.1,439.9 158.2,420.4 158.3,424.6 158.5,434.4 158.6,453.6 158.7,418.2 158.9,411.9 159.0,407.4 159.1,418.2 159.3,431.3 159.4,422.3 159.5,417.6 159.7,428.5 159.8,434.2 159.9,426.4 160.0,415.7 160.2,417.5 160.3,412.5 160.4,420.5 160.6,428.9 160.7,439.3 160.8,433.6 161.0,430.6 161.1,418.4 161.2,416.5 161.4,422.6 161.5,439.0 161.6,437.1 161.8,431.0 161.9,439.5 162.0,426.5 162.1,433.7 162.3,428.2 162.4,439.7 162.5,438.1 162.7,453.4 162.8,437.9 162.9,457.6 163.1,451.9 163.2,451.7 163.3,444.9 163.5,457.6 163.6,441.6 163.7,442.2 163.9,441.3 164.0,442.3 164.1,425.2 164.3,430.6 164.4,416.6 164.5,423.0 164.6,415.8 164.8,435.4 164.9,428.9 165.0,426.1 165.2,430.8 165.3,435.2 165.4,413.8 165.6,416.8 165.7,445.1 165.8,439.9 166.0,428.8 166.1,443.5 166.2,418.4 166.4,436.7 166.5,424.7 166.6,397.1 166.7,426.7 166.9,437.3 167.0,428.5 167.1,429.2 167.3,421.1 167.4,424.5 167.5,412.9 167.7,429.8 167.8,417.2 167.9,437.5 168.1,422.1 168.2,444.1 168.3,417.7 168.5,418.8 168.6,428.0 168.7,411.9 168.9,410.9 169.0,425.2 169.1,417.8 169.2,433.3 169.4,419.5 169.5,414.6 169.6,415.6 169.8,419.2 169.9,425.0 170.0,424.4 170.2,433.4 170.3,431.6 170.4,441.5 170.6,430.7 170.7,420.0 170.8,419.0 171.0,423.4 171.1,424.6 171.2,414.2 171.4,423.1 171.5,434.0 171.6,420.0 171.7,420.2 171.9,423.6 172.0,425.7 172.1,432.6 172.3,431.3 172.4,427.1 172.5,416.5 172.7,424.4 172.8,420.0 172.9,423.7 173.1,422.3 173.2,416.0 173.3,416.6 173.5,420.1 173.6,423.5 173.7,442.8 173.8,434.6 174.0,434.0 174.1,425.0 174.2,426.9 174.4,425.2 174.5,427.6 174.6,421.9 174.8,431.3 174.9,431.8 175.0,439.6 175.2,436.5 175.3,430.3 175.4,438.3 175.6,416.9 175.7,394.3 175.8,398.9 176.0,406.9 176.1,411.1 176.2,415.6 176.3,420.6 176.5,430.8 176.6,429.0 176.7,435.3 176.9,438.5 177.0,431.5 177.1,450.3 177.3,448.0 177.4,449.1 177.5,438.6 177.7,428.1 177.8,428.0 177.9,424.0 178.1,416.0 178.2,414.5 178.3,417.8 178.4,428.0 178.6,420.6 178.7,433.8 178.8,423.7 179.0,422.4 179.1,413.8 179.2,409.3 179.4,409.8 179.5,426.4 179.6,416.3 179.8,445.9 179.9,432.0 180.0,420.1 180.2,422.1 180.3,434.8 180.4,419.4 180.6,418.8 180.7,440.0 180.8,427.5 180.9,427.4 181.1,428.9 181.2,420.7 181.3,418.1 181.5,423.7 181.6,415.2 181.7,440.2 181.9,429.3 182.0,415.0 182.1,428.9 182.3,431.5 182.4,429.7 182.5,418.5 182.7,431.2 182.8,421.2 182.9,422.5 183.1,426.7 183.2,424.6 183.3,399.9 183.4,413.6 183.6,413.7 183.7,404.6 183.8,424.0 184.0,415.4 184.1,427.5 184.2,433.9 184.4,424.4 184.5,417.8 184.6,423.5 184.8,427.3 184.9,423.5 185.0,404.7 185.2,422.0 185.3,413.8 185.4,414.4 185.5,409.9 185.7,403.9 185.8,395.5 185.9,411.8 186.1,414.0 186.2,413.5 186.3,414.1 186.5,427.5 186.6,407.5 186.7,410.5 186.9,429.3 187.0,426.9 187.1,427.2 187.3,429.9 187.4,436.2 187.5,423.8 187.7,438.5 187.8,429.3 187.9,422.6 188.0,424.3 188.2,434.3 188.3,424.7 188.4,440.1 188.6,441.0 188.7,433.3 188.8,439.6 189.0,394.6 189.1,416.5 189.2,413.5 189.4,402.2 189.5,412.1 189.6,393.0 189.8,397.5 189.9,392.4 190.0,405.1 190.2,391.8 190.3,409.7 190.4,391.1 190.5,411.9 190.7,396.9 190.8,390.2 190.9,404.3 191.1,405.5 191.2,408.1 191.3,406.0 191.5,414.7 191.6,417.7 191.7,418.1 191.9,429.8 192.0,422.9 192.1,420.8 192.3,407.4 192.4,415.0 192.5,425.5 192.6,415.8 192.8,411.9 192.9,409.1 193.0,424.7 193.2,424.9 193.3,408.8 193.4,423.4 193.6,415.3 193.7,425.7 193.8,407.3 194.0,417.8 194.1,401.9 194.2,405.3 194.4,427.3 194.5,418.0 194.6,406.3 194.8,424.4 194.9,416.5 195.0,417.7 195.1,413.8 195.3,411.8 195.4,396.5 195.5,400.7 195.7,393.6 195.8,392.0 195.9,397.7 196.1,396.4 196.2,391.5 196.3,396.4 196.5,385.6 196.6,398.2 196.7,402.0 196.9,401.6 197.0,389.7 197.1,404.6 197.2,403.5 197.4,389.9 197.5,402.7 197.6,398.9 197.8,403.7 197.9,406.8 198.0,402.2 198.2,405.8 198.3,402.0 198.4,404.0 198.6,405.7 198.7,399.4 198.8,393.7 199.0,393.7 199.1,390.3 199.2,391.4 199.4,392.7 199.5,392.3 199.6,386.3 199.7,383.4 199.9,404.2 200.0,376.9 200.1,375.3 200.3,390.5 200.4,392.9 200.5,402.0 200.7,381.5 200.8,396.9 200.9,385.3 201.1,391.8 201.2,386.2 201.3,383.4 201.5,393.6 201.6,406.3 201.7,380.4 201.9,385.4 202.0,369.4 202.1,391.2 202.2,388.3 202.4,383.5 202.5,387.0 202.6,385.2 202.8,392.4 202.9,389.2 203.0,398.9 203.2,382.6 203.3,379.2 203.4,383.6 203.6,390.4 203.7,385.3 203.8,371.0 204.0,384.9 204.1,385.2 204.2,379.5 204.3,380.3 204.5,387.9 204.6,403.1 204.7,398.3 204.9,380.8 205.0,375.6 205.1,379.2 205.3,382.8 205.4,381.4 205.5,374.8 205.7,389.3 205.8,372.8 205.9,397.2 206.1,377.2 206.2,379.2 206.3,384.6 206.5,378.0 206.6,375.5 206.7,384.7 206.8,381.5 207.0,368.7 207.1,374.1 207.2,380.9 207.4,382.9 207.5,371.5 207.6,373.2 207.8,363.3 207.9,372.5 208.0,365.0 208.2,372.0 208.3,365.5 208.4,375.5 208.6,353.6 208.7,364.7 208.8,387.1 208.9,368.5 209.1,379.2 209.2,379.8 209.3,381.1 209.5,379.7 209.6,376.3 209.7,353.1 209.9,379.6 210.0,361.5 210.1,382.0 210.3,380.1 210.4,373.6 210.5,371.5 210.7,381.7 210.8,383.4 210.9,379.3 211.1,389.5 211.2,390.9 211.3,401.5 211.4,383.8 211.6,394.6 211.7,373.6 211.8,380.0 212.0,381.6 212.1,376.6 212.2,371.1 212.4,371.2 212.5,378.6 212.6,374.9 212.8,362.5 212.9,379.0 213.0,370.8 213.2,373.0 213.3,364.3 213.4,376.7 213.6,367.7 213.7,387.6 213.8,378.1 213.9,369.0 214.1,382.3 214.2,383.3 214.3,378.2 214.5,370.6 214.6,376.1 214.7,375.5 214.9,377.3 215.0,372.5 215.1,397.6 215.3,380.7 215.4,400.7 215.5,380.5 215.7,381.9 215.8,400.9 215.9,382.7 216.0,401.5 216.2,374.6 216.3,377.3 216.4,364.6 216.6,385.3 216.7,370.9 216.8,374.4 217.0,373.3 217.1,366.7 217.2,380.4 217.4,378.2 217.5,371.2 217.6,378.2 217.8,382.1 217.9,383.7 218.0,375.7 218.2,366.0 218.3,376.9 218.4,376.5 218.5,379.7 218.7,374.0 218.8,379.3 218.9,371.2 219.1,385.2 219.2,374.0 219.3,378.5 219.5,356.0 219.6,370.8 219.7,374.2 219.9,372.9 220.0,370.7 220.1,377.3 220.3,367.0 220.4,374.7 220.5,376.5 220.7,369.4 220.8,371.6 220.9,375.7 221.0,369.6 221.2,365.9 221.3,377.6 221.4,375.9 221.6,377.6 221.7,371.9 221.8,381.3 222.0,372.7 222.1,368.6 222.2,371.5 222.4,378.5 222.5,366.7 222.6,376.9 222.8,376.3 222.9,372.6 223.0,376.8 223.1,376.5 223.3,379.4 223.4,362.9 223.5,374.8 223.7,374.7 223.8,369.3 223.9,366.7 224.1,382.8 224.2,377.4 224.3,382.6 224.5,382.4 224.6,377.5 224.7,376.5 224.9,369.7 225.0,376.8 225.1,373.5 225.3,369.4 225.4,381.3 225.5,375.7 225.6,381.1 225.8,378.0 225.9,383.7 226.0,375.1 226.2,370.5 226.3,387.9 226.4,373.6 226.6,381.1 226.7,365.2 226.8,375.7 227.0,375.1 227.1,369.9 227.2,366.4 227.4,349.3 227.5,347.6 227.6,361.7 227.7,355.2 227.9,361.4 228.0,361.0 228.1,364.7 228.3,357.3 228.4,357.6 228.5,360.4 228.7,347.2 228.8,375.9 228.9,375.2 229.1,368.8 229.2,365.1 229.3,361.9 229.5,382.2 229.6,385.2 229.7,378.9 229.9,372.1 230.0,375.7 230.1,362.5 230.2,352.0 230.4,363.1 230.5,361.9 230.6,361.5 230.8,347.5 230.9,349.3 231.0,360.3 231.2,371.2 231.3,351.3 231.4,361.2 231.6,372.6 231.7,379.3 231.8,372.4 232.0,352.4 232.1,367.9 232.2,357.6 232.4,370.2 232.5,356.2 232.6,372.1 232.7,390.1 232.9,373.3 233.0,366.9 233.1,366.5 233.3,368.0 233.4,363.3 233.5,365.0 233.7,359.8 233.8,346.4 233.9,369.6 234.1,370.0 234.2,378.8 234.3,369.3 234.5,359.7 234.6,369.8 234.7,352.8 234.8,361.9 235.0,350.6 235.1,355.0 235.2,354.4 235.4,349.4 235.5,355.2 235.6,346.1 235.8,349.7 235.9,365.5 236.0,362.9 236.2,366.6 236.3,363.6 236.4,367.2 236.6,375.0 236.7,372.4 236.8,360.6 237.0,378.5 237.1,363.8 237.2,357.0 237.3,384.9 237.5,378.5 237.6,391.0 237.7,376.6 237.9,376.1 238.0,372.8 238.1,369.5 238.3,371.5 238.4,358.2 238.5,360.7 238.7,376.2 238.8,365.6 238.9,357.9 239.1,372.6 239.2,365.0 239.3,375.8 239.4,386.4 239.6,383.2 239.7,390.7 239.8,386.2 240.0,386.1 240.1,376.1 240.2,380.1 240.4,396.4 240.5,373.5 240.6,378.9 240.8,365.1 240.9,365.9 241.0,362.5 241.2,368.7 241.3,375.4 241.4,364.1 241.6,370.5 241.7,367.8 241.8,371.0 241.9,365.4 242.1,358.4 242.2,358.2 242.3,358.4 242.5,356.0 242.6,358.5 242.7,371.4 242.9,360.4 243.0,361.9 243.1,353.1 243.3,366.5 243.4,374.4 243.5,367.6 243.7,365.5 243.8,368.1 243.9,358.2 244.1,363.1 244.2,367.3 244.3,365.6 244.4,374.1 244.6,386.6 244.7,375.9 244.8,363.8 245.0,376.0 245.1,372.2 245.2,369.9 245.4,375.5 245.5,371.1 245.6,375.7 245.8,354.6 245.9,349.9 246.0,360.4 246.2,357.3 246.3,344.5 246.4,367.1 246.5,358.7 246.7,345.8 246.8,370.1 246.9,372.6 247.1,366.9 247.2,367.5 247.3,359.0 247.5,354.6 247.6,354.7 247.7,368.1 247.9,360.9 248.0,372.1 248.1,362.3 248.3,368.1 248.4,365.2 248.5,369.6 248.7,361.0 248.8,362.6 248.9,370.1 249.0,370.5 249.2,373.5 249.3,382.4 249.4,367.5 249.6,362.3 249.7,363.8 249.8,358.1 250.0,358.7 250.1,364.2 250.2,365.2 250.4,380.3 250.5,374.6 250.6,375.2 250.8,384.7 250.9,374.0 251.0,374.1 251.2,369.1 251.3,372.4 251.4,389.2 251.5,371.4 251.7,358.9 251.8,357.7 251.9,357.8 252.1,385.8 252.2,363.7 252.3,365.9 252.5,357.8 252.6,361.5 252.7,372.1 252.9,368.3 253.0,357.1 253.1,348.1 253.3,357.2 253.4,356.0 253.5,355.7 253.6,359.5 253.8,352.7 253.9,360.7 254.0,370.4 254.2,377.3 254.3,374.7 254.4,372.1 254.6,364.9 254.7,366.9 254.8,366.1 255.0,368.9 255.1,366.3 255.2,357.8 255.4,356.0 255.5,361.8 255.6,365.5 255.8,361.1 255.9,358.3 256.0,369.4 256.1,370.7 256.3,380.3 256.4,373.6 256.5,368.7 256.7,369.3 256.8,373.3 256.9,374.9 257.1,386.0 257.2,375.6 257.3,376.3 257.5,366.2 257.6,359.0 257.7,358.4 257.9,361.7 258.0,353.0 258.1,348.8 258.2,358.0 258.4,352.4 258.5,350.5 258.6,352.0 258.8,338.6 258.9,353.4 259.0,344.8 259.2,347.1 259.3,351.5 259.4,358.0 259.6,358.1 259.7,364.4 259.8,352.5 260.0,363.5 260.1,359.6 260.2,360.1 260.4,357.7 260.5,354.4 260.6,349.9 260.7,366.3 260.9,370.4 261.0,357.2 261.1,385.8 261.3,380.6 261.4,375.2 261.5,364.0 261.7,350.8 261.8,374.2 261.9,368.3 262.1,354.0 262.2,344.5 262.3,357.5 262.5,360.9 262.6,363.0 262.7,361.5 262.9,360.4 263.0,376.2 263.1,367.5 263.2,367.9 263.4,377.4 263.5,369.4 263.6,363.9 263.8,365.2 263.9,375.7 264.0,366.6 264.2,347.7 264.3,353.2 264.4,347.5 264.6,360.6 264.7,358.8 264.8,351.4 265.0,364.0 265.1,355.1 265.2,360.6 265.3,358.0 265.5,380.4 265.6,374.8 265.7,357.9 265.9,348.8 266.0,356.4 266.1,357.3 266.3,349.6 266.4,362.7 266.5,368.9 266.7,355.9 266.8,353.4 266.9,353.1 267.1,359.4 267.2,362.8 267.3,372.7 267.5,373.2 267.6,358.2 267.7,367.6 267.8,368.1 268.0,375.0 268.1,369.1 268.2,357.3 268.4,356.6 268.5,364.2 268.6,375.4 268.8,371.7 268.9,370.4 269.0,360.1 269.2,363.9 269.3,357.0 269.4,365.0 269.6,344.6 269.7,355.6 269.8,349.9 269.9,355.9 270.1,358.0 270.2,363.7 270.3,360.1 270.5,352.4 270.6,342.4 270.7,334.1 270.9,339.4 271.0,359.2 271.1,361.3 271.3,363.0 271.4,384.3 271.5,388.1 271.7,361.1 271.8,374.4 271.9,368.4 272.1,358.0 272.2,359.7 272.3,374.4 272.4,356.0 272.6,362.3 272.7,368.1 272.8,368.1 273.0,363.0 273.1,368.7 273.2,363.6 273.4,364.0 273.5,377.5 273.6,352.5 273.8,356.3 273.9,347.3 274.0,353.2 274.2,365.8 274.3,369.4 274.4,363.0 274.6,366.3 274.7,349.0 274.8,370.1 274.9,362.8 275.1,375.6 275.2,366.8 275.3,374.3 275.5,363.0 275.6,350.7 275.7,355.0 275.9,366.2 276.0,367.5 276.1,364.5 276.3,365.3 276.4,347.7 276.5,348.4 276.7,350.3 276.8,349.8 276.9,353.8 277.0,358.2 277.2,354.6 277.3,351.0 277.4,348.7 277.6,353.8 277.7,353.6 277.8,344.8 278.0,340.0 278.1,350.7 278.2,368.4 278.4,366.6 278.5,358.1 278.6,369.2 278.8,362.5 278.9,354.8 279.0,368.9 279.2,349.7 279.3,357.0 279.4,357.3 279.5,354.8 279.7,352.0 279.8,337.3 279.9,341.2 280.1,341.1 280.2,329.2 280.3,336.5 280.5,348.1 280.6,346.2 280.7,341.5 280.9,356.8 281.0,359.6 281.1,373.8 281.3,368.8 281.4,377.6 281.5,364.2 281.7,344.1 281.8,341.1 281.9,328.2 282.0,341.4 282.2,348.8 282.3,355.1 282.4,343.9 282.6,344.2 282.7,350.7 282.8,342.5 283.0,346.1 283.1,341.4 283.2,353.0 283.4,329.8 283.5,343.2 283.6,341.6 283.8,345.2 283.9,332.6 284.0,341.7 284.1,327.7 284.3,337.6 284.4,324.7 284.5,332.9 284.7,344.8 284.8,340.3 284.9,333.1 285.1,351.2 285.2,343.4 285.3,339.8 285.5,346.5 285.6,353.5 285.7,334.8 285.9,352.0 286.0,353.2 286.1,346.4 286.3,347.9 286.4,355.6 286.5,342.3 286.6,367.8 286.8,374.8 286.9,355.5 287.0,357.2 287.2,359.0 287.3,372.7 287.4,388.4 287.6,358.3 287.7,361.5 287.8,345.8 288.0,357.7 288.1,358.3 288.2,374.4 288.4,389.3 288.5,367.4 288.6,365.8 288.7,342.7 288.9,344.4 289.0,363.8 289.1,359.2 289.3,363.1 289.4,366.4 289.5,356.9 289.7,352.6 289.8,365.0 289.9,370.9 290.1,366.2 290.2,362.1 290.3,364.0 290.5,376.9 290.6,378.7 290.7,383.2 290.9,376.2 291.0,382.9 291.1,372.0 291.2,377.0 291.4,387.4 291.5,356.3 291.6,359.6 291.8,360.5 291.9,365.2 292.0,350.5 292.2,360.7 292.3,366.9 292.4,359.1 292.6,361.0 292.7,358.8 292.8,372.4 293.0,367.8 293.1,360.0 293.2,356.9 293.4,357.7 293.5,351.3 293.6,362.1 293.7,364.5 293.9,383.8 294.0,364.3 294.1,345.1 294.3,370.5 294.4,387.3 294.5,361.5 294.7,366.8 294.8,378.0 294.9,376.8 295.1,378.4 295.2,368.0 295.3,380.3 295.5,377.8 295.6,369.6 295.7,371.8 295.8,364.8 296.0,365.5 296.1,373.7 296.2,368.2 296.4,364.4 296.5,363.5 296.6,370.9 296.8,357.2 296.9,362.5 297.0,373.4 297.2,371.1 297.3,367.9 297.4,369.2 297.6,362.2 297.7,369.6 297.8,365.9 298.0,396.5 298.1,386.5 298.2,379.8 298.3,369.0 298.5,373.5 298.6,375.8 298.7,376.3 298.9,395.0 299.0,361.4 299.1,378.9 299.3,375.9 299.4,360.1 299.5,369.2 299.7,360.5 299.8,359.2 299.9,364.2 300.1,368.5 300.2,365.2 300.3,359.9 300.4,356.6 300.6,357.7 300.7,371.7 300.8,360.0 301.0,364.9 301.1,355.4 301.2,338.0 301.4,356.5 301.5,366.4 301.6,365.9 301.8,367.6 301.9,334.0 302.0,358.2 302.2,354.8 302.3,344.9 302.4,351.9 302.6,367.6 302.7,392.8 302.8,373.2 302.9,374.3 303.1,366.0 303.2,358.8 303.3,366.5 303.5,376.1 303.6,371.5 303.7,372.2 303.9,364.3 304.0,374.6 304.1,389.9 304.3,374.5 304.4,381.3 304.5,380.5 304.7,371.3 304.8,367.5 304.9,362.3 305.1,357.5 305.2,349.6 305.3,351.8 305.4,351.6 305.6,358.8 305.7,350.4 305.8,334.8 306.0,369.2 306.1,367.2 306.2,369.0 306.4,368.8 306.5,357.5 306.6,364.7 306.8,368.0 306.9,349.9 307.0,335.4 307.2,353.4 307.3,354.8 307.4,362.3 307.5,363.1 307.7,358.7 307.8,347.2 307.9,359.5 308.1,349.4 308.2,343.6 308.3,348.0 308.5,359.0 308.6,375.3 308.7,361.5 308.9,362.9 309.0,365.9 309.1,361.6 309.3,365.4 309.4,351.9 309.5,352.6 309.7,362.6 309.8,365.0 309.9,362.2 310.0,368.8 310.2,369.5 310.3,367.5 310.4,366.5 310.6,367.2 310.7,354.5 310.8,364.3 311.0,367.6 311.1,339.5 311.2,353.0 311.4,372.4 311.5,361.7 311.6,363.9 311.8,394.8 311.9,372.1 312.0,373.9 312.2,381.4 312.3,369.3 312.4,372.6 312.5,364.1 312.7,367.5 312.8,385.4 312.9,367.2 313.1,360.1 313.2,373.3 313.3,363.8 313.5,383.0 313.6,371.6 313.7,388.8 313.9,377.5 314.0,372.1 314.1,387.4 314.3,384.3 314.4,388.7 314.5,386.8 314.6,402.4 314.8,390.8 314.9,398.9 315.0,391.6 315.2,398.1 315.3,397.9 315.4,384.5 315.6,395.6 315.7,385.1" fill="none" stroke="#f00404" stroke-width="0.9" stroke-linejoin="bevel" opacity="1"/>
<use href="#s5" stroke="#0808d8" stroke-width="0.6" opacity="0.15"/>
<rect x="286.5" y="440.2" width="1.4" height="1.2" fill="#3a3a9a"/>
<line x1="52.9" y1="300.3" x2="315.7" y2="300.3" stroke="#eee" stroke-width="1"/>
<line x1="52.9" y1="488.9" x2="315.7" y2="488.9" stroke="#888" stroke-width="1.3"/>
<line x1="52.9" y1="300.3" x2="52.9" y2="488.9" stroke="#888" stroke-width="1.3"/>
<line x1="315.7" y1="300.3" x2="315.7" y2="488.9" stroke="#bbb" stroke-width="1"/>
<path d="M52.9 488.9v-5M52.9 300.3v5M105.5 488.9v-5M105.5 300.3v5M158.0 488.9v-5M158.0 300.3v5M210.6 488.9v-5M210.6 300.3v5M263.1 488.9v-5M263.1 300.3v5M315.7 488.9v-5M315.7 300.3v5M79.2 488.9v-2.5M79.2 300.3v2.5M131.7 488.9v-2.5M131.7 300.3v2.5M184.3 488.9v-2.5M184.3 300.3v2.5M236.9 488.9v-2.5M236.9 300.3v2.5M289.4 488.9v-2.5M289.4 300.3v2.5M52.9 488.9h5M315.7 488.9h-5M52.9 457.5h5M315.7 457.5h-5M52.9 426.0h5M315.7 426.0h-5M52.9 394.6h5M315.7 394.6h-5M52.9 363.2h5M315.7 363.2h-5M52.9 331.7h5M315.7 331.7h-5M52.9 473.2h2.5M315.7 473.2h-2.5M52.9 441.7h2.5M315.7 441.7h-2.5M52.9 410.3h2.5M315.7 410.3h-2.5M52.9 378.9h2.5M315.7 378.9h-2.5M52.9 347.5h2.5M315.7 347.5h-2.5M52.9 316.0h2.5M315.7 316.0h-2.5" stroke="#666" stroke-width="0.8" fill="none"/>
<rect x="51.3" y="298.7" width="3.2" height="3.2" fill="#111"/>
<rect x="314.09999999999997" y="298.7" width="3.2" height="3.2" fill="#111"/>
<rect x="51.3" y="487.29999999999995" width="3.2" height="3.2" fill="#111"/>
<rect x="314.09999999999997" y="487.29999999999995" width="3.2" height="3.2" fill="#111"/>
<text x="52.9" y="496.4" font-family='"Liberation Serif", serif' font-size="7.2" text-anchor="middle" fill="#222" stroke="#222" stroke-width="0.12">0</text>
<text x="105.5" y="496.4" font-family='"Liberation Serif", serif' font-size="7.2" text-anchor="middle" fill="#222" stroke="#222" stroke-width="0.12">20000</text>
<text x="158.0" y="496.4" font-family='"Liberation Serif", serif' font-size="7.2" text-anchor="middle" fill="#222" stroke="#222" stroke-width="0.12">40000</text>
<text x="210.6" y="496.4" font-family='"Liberation Serif", serif' font-size="7.2" text-anchor="middle" fill="#222" stroke="#222" stroke-width="0.12">60000</text>
<text x="263.1" y="496.4" font-family='"Liberation Serif", serif' font-size="7.2" text-anchor="middle" fill="#222" stroke="#222" stroke-width="0.12">80000</text>
<text x="315.7" y="496.4" font-family='"Liberation Serif", serif' font-size="7.2" text-anchor="middle" fill="#222" stroke="#222" stroke-width="0.12">1e+05</text>
<text x="50.9" y="491.4" font-family='"Liberation Serif", serif' font-size="7.2" text-anchor="end" fill="#222" stroke="#222" stroke-width="0.12">2.8</text>
<text x="50.9" y="460.0" font-family='"Liberation Serif", serif' font-size="7.2" text-anchor="end" fill="#222" stroke="#222" stroke-width="0.12">2.85</text>
<text x="50.9" y="428.5" font-family='"Liberation Serif", serif' font-size="7.2" text-anchor="end" fill="#222" stroke="#222" stroke-width="0.12">2.9</text>
<text x="50.9" y="397.1" font-family='"Liberation Serif", serif' font-size="7.2" text-anchor="end" fill="#222" stroke="#222" stroke-width="0.12">2.95</text>
<text x="50.9" y="365.7" font-family='"Liberation Serif", serif' font-size="7.2" text-anchor="end" fill="#222" stroke="#222" stroke-width="0.12">3</text>
<text x="50.9" y="334.2" font-family='"Liberation Serif", serif' font-size="7.2" text-anchor="end" fill="#222" stroke="#222" stroke-width="0.12">3.05</text>
<text x="194" y="511.9" font-family='"Liberation Sans", sans-serif' font-size="9.6" text-anchor="middle" fill="#111" textLength="40.3" lengthAdjust="spacingAndGlyphs" stroke="#111" stroke-width="0.25">Time (ps)</text>
<text x="31.5" y="394.7" font-family='"Liberation Sans", sans-serif' font-size="9.6" text-anchor="middle" fill="#111" textLength="37.8" lengthAdjust="spacingAndGlyphs" stroke="#111" stroke-width="0.25" transform="rotate(-90 31.5 394.7)">Rg (nm)</text>
<text x="179.2" y="535.5" font-family='"Liberation Sans", sans-serif' font-size="9.6" text-anchor="middle" fill="#111" textLength="10.6" lengthAdjust="spacingAndGlyphs" stroke="#111" stroke-width="0.25">(c)</text>
<polyline id="s7" points="384.7,407.3 384.8,399.8 384.9,405.1 385.1,423.7 385.2,405.9 385.3,430.2 385.4,425.9 385.6,414.1 385.7,413.5 385.8,407.7 385.9,429.2 386.1,407.7 386.2,402.9 386.3,415.1 386.4,411.1 386.5,415.9 386.7,408.2 386.8,411.2 386.9,425.0 387.0,443.0 387.2,442.8 387.3,427.0 387.4,425.1 387.5,428.6 387.7,419.0 387.8,429.4 387.9,437.6 388.0,435.3 388.1,429.4 388.3,438.3 388.4,428.5 388.5,425.5 388.6,443.0 388.8,445.2 388.9,426.0 389.0,434.9 389.1,443.9 389.3,416.8 389.4,425.8 389.5,430.0 389.6,404.2 389.7,425.3 389.9,437.3 390.0,430.8 390.1,430.7 390.2,437.9 390.4,426.1 390.5,432.0 390.6,435.4 390.7,412.4 390.9,415.9 391.0,425.1 391.1,427.6 391.2,419.5 391.3,422.7 391.5,425.1 391.6,420.4 391.7,436.2 391.8,426.8 392.0,440.5 392.1,435.1 392.2,432.9 392.3,426.7 392.4,452.9 392.6,443.6 392.7,445.3 392.8,441.7 392.9,438.5 393.1,438.0 393.2,452.1 393.3,436.7 393.4,445.9 393.6,449.7 393.7,449.8 393.8,452.3 393.9,420.3 394.0,441.3 394.2,425.4 394.3,431.7 394.4,429.3 394.5,436.8 394.7,425.3 394.8,419.3 394.9,435.6 395.0,432.6 395.2,429.5 395.3,432.4 395.4,418.0 395.5,431.6 395.6,422.0 395.8,432.9 395.9,410.7 396.0,430.6 396.1,433.2 396.3,422.3 396.4,420.5 396.5,415.8 396.6,426.6 396.8,432.3 396.9,436.4 397.0,429.0 397.1,440.0 397.2,430.3 397.4,421.1 397.5,433.8 397.6,434.4 397.7,429.0 397.9,431.7 398.0,420.4 398.1,436.3 398.2,418.2 398.4,417.6 398.5,429.4 398.6,433.5 398.7,430.1 398.8,433.7 399.0,427.1 399.1,433.3 399.2,423.3 399.3,431.6 399.5,426.7 399.6,440.5 399.7,426.9 399.8,439.8 400.0,446.5 400.1,432.6 400.2,443.8 400.3,457.5 400.4,446.8 400.6,460.6 400.7,436.0 400.8,412.9 400.9,444.5 401.1,441.3 401.2,435.2 401.3,424.0 401.4,423.7 401.6,422.0 401.7,437.4 401.8,421.8 401.9,436.1 402.0,431.9 402.2,421.3 402.3,433.6 402.4,458.0 402.5,450.2 402.7,440.3 402.8,438.2 402.9,425.5 403.0,447.1 403.2,434.5 403.3,435.2 403.4,437.9 403.5,439.0 403.6,432.5 403.8,439.6 403.9,448.9 404.0,447.3 404.1,429.0 404.3,469.4 404.4,439.9 404.5,446.3 404.6,438.6 404.8,450.9 404.9,456.8 405.0,449.9 405.1,459.5 405.2,445.8 405.4,456.9 405.5,437.4 405.6,447.7 405.7,452.3 405.9,452.6 406.0,452.9 406.1,459.8 406.2,460.6 406.4,448.0 406.5,451.1 406.6,456.5 406.7,449.1 406.8,455.0 407.0,450.3 407.1,435.6 407.2,444.8 407.3,451.2 407.5,459.0 407.6,451.6 407.7,451.0 407.8,435.7 407.9,449.5 408.1,452.1 408.2,450.7 408.3,441.6 408.4,435.2 408.6,446.2 408.7,441.2 408.8,441.6 408.9,428.6 409.1,445.4 409.2,440.1 409.3,450.7 409.4,447.8 409.5,435.0 409.7,419.3 409.8,434.4 409.9,418.6 410.0,433.1 410.2,452.4 410.3,443.3 410.4,449.1 410.5,451.8 410.7,431.0 410.8,463.8 410.9,458.9 411.0,454.9 411.1,458.2 411.3,453.1 411.4,446.8 411.5,454.3 411.6,458.3 411.8,454.4 411.9,473.7 412.0,456.9 412.1,445.2 412.3,450.8 412.4,446.3 412.5,464.9 412.6,458.0 412.7,464.9 412.9,465.0 413.0,451.0 413.1,463.6 413.2,463.6 413.4,462.4 413.5,440.2 413.6,446.7 413.7,446.7 413.9,447.7 414.0,431.8 414.1,471.0 414.2,458.5 414.3,451.3 414.5,438.2 414.6,431.3 414.7,443.0 414.8,442.8 415.0,441.4 415.1,443.2 415.2,471.2 415.3,449.3 415.5,461.6 415.6,466.0 415.7,449.8 415.8,445.4 415.9,443.4 416.1,468.5 416.2,437.3 416.3,444.2 416.4,444.8 416.6,438.3 416.7,438.9 416.8,442.5 416.9,444.7 417.1,434.7 417.2,418.7 417.3,418.8 417.4,430.2 417.5,420.4 417.7,437.6 417.8,438.0 417.9,432.0 418.0,445.1 418.2,433.6 418.3,411.1 418.4,425.5 418.5,426.7 418.7,416.7 418.8,434.9 418.9,423.8 419.0,429.2 419.1,429.5 419.3,431.8 419.4,433.6 419.5,436.2 419.6,427.3 419.8,412.5 419.9,419.9 420.0,408.6 420.1,431.9 420.3,426.7 420.4,436.3 420.5,423.3 420.6,422.8 420.7,419.9 420.9,410.5 421.0,415.9 421.1,425.2 421.2,412.6 421.4,416.9 421.5,427.3 421.6,398.0 421.7,420.7 421.8,397.8 422.0,424.6 422.1,432.3 422.2,421.6 422.3,423.2 422.5,418.7 422.6,417.4 422.7,429.5 422.8,433.2 423.0,447.8 423.1,426.3 423.2,452.2 423.3,428.3 423.4,421.9 423.6,435.1 423.7,438.8 423.8,440.2 423.9,433.4 424.1,448.7 424.2,435.0 424.3,429.1 424.4,418.6 424.6,429.7 424.7,422.6 424.8,430.3 424.9,433.4 425.0,431.7 425.2,417.4 425.3,408.5 425.4,424.2 425.5,436.0 425.7,434.6 425.8,422.1 425.9,453.3 426.0,437.3 426.2,426.9 426.3,422.7 426.4,408.6 426.5,424.9 426.6,406.6 426.8,411.0 426.9,414.5 427.0,424.6 427.1,449.7 427.3,439.9 427.4,421.6 427.5,418.4 427.6,429.2 427.8,448.0 427.9,444.2 428.0,435.1 428.1,443.0 428.2,426.9 428.4,423.9 428.5,415.2 428.6,427.5 428.7,435.7 428.9,438.0 429.0,451.7 429.1,425.1 429.2,422.0 429.4,417.0 429.5,429.8 429.6,423.4 429.7,440.5 429.8,443.2 430.0,431.4 430.1,442.3 430.2,439.0 430.3,453.0 430.5,434.1 430.6,437.6 430.7,435.7 430.8,435.5 431.0,427.3 431.1,435.1 431.2,439.3 431.3,440.4 431.4,437.1 431.6,446.9 431.7,436.8 431.8,453.8 431.9,445.5 432.1,433.8 432.2,431.1 432.3,427.2 432.4,432.3 432.6,430.7 432.7,437.8 432.8,446.6 432.9,438.1 433.0,456.3 433.2,440.9 433.3,440.4 433.4,451.2 433.5,444.7 433.7,447.6 433.8,452.2 433.9,451.7 434.0,436.1 434.2,443.2 434.3,433.0 434.4,437.1 434.5,441.0 434.6,460.5 434.8,438.5 434.9,428.1 435.0,444.4 435.1,438.7 435.3,439.3 435.4,425.0 435.5,427.3 435.6,433.4 435.7,442.5 435.9,420.7 436.0,411.2 436.1,421.8 436.2,423.5 436.4,423.7 436.5,463.9 436.6,435.9 436.7,435.1 436.9,428.4 437.0,432.2 437.1,433.7 437.2,435.7 437.3,438.5 437.5,440.6 437.6,436.2 437.7,445.7 437.8,441.2 438.0,434.3 438.1,429.9 438.2,441.5 438.3,441.0 438.5,428.0 438.6,435.1 438.7,428.3 438.8,433.0 438.9,443.4 439.1,434.1 439.2,436.1 439.3,426.2 439.4,431.2 439.6,435.1 439.7,444.8 439.8,439.4 439.9,444.2 440.1,431.5 440.2,428.6 440.3,440.3 440.4,431.0 440.5,429.6 440.7,433.7 440.8,417.9 440.9,413.3 441.0,451.5 441.2,436.1 441.3,434.6 441.4,439.6 441.5,444.0 441.7,452.1 441.8,442.6 441.9,451.5 442.0,454.5 442.1,451.1 442.3,463.3 442.4,454.7 442.5,445.5 442.6,451.0 442.8,448.2 442.9,459.7 443.0,447.4 443.1,450.0 443.3,450.6 443.4,462.3 443.5,436.8 443.6,444.2 443.7,440.8 443.9,440.1 444.0,433.6 444.1,441.4 444.2,418.8 444.4,431.6 444.5,443.3 444.6,448.6 444.7,450.7 444.9,439.5 445.0,433.5 445.1,442.9 445.2,446.0 445.3,450.9 445.5,431.8 445.6,457.5 445.7,475.7 445.8,450.4 446.0,444.8 446.1,459.7 446.2,451.9 446.3,463.7 446.5,443.5 446.6,443.0 446.7,451.9 446.8,438.0 446.9,449.5 447.1,441.8 447.2,462.7 447.3,468.4 447.4,448.8 447.6,450.1 447.7,478.0 447.8,465.6 447.9,444.1 448.1,425.0 448.2,440.5 448.3,420.3 448.4,439.5 448.5,418.2 448.7,473.8 448.8,452.0 448.9,434.0 449.0,443.3 449.2,445.8 449.3,435.6 449.4,447.6 449.5,452.3 449.7,427.3 449.8,449.4 449.9,450.5 450.0,444.5 450.1,472.4 450.3,451.7 450.4,467.3 450.5,449.1 450.6,450.6 450.8,443.0 450.9,453.3 451.0,455.4 451.1,449.0 451.2,456.8 451.4,444.9 451.5,453.7 451.6,438.3 451.7,446.1 451.9,447.8 452.0,458.3 452.1,443.8 452.2,455.3 452.4,439.5 452.5,442.4 452.6,446.7 452.7,434.7 452.8,431.0 453.0,465.6 453.1,430.4 453.2,439.3 453.3,436.6 453.5,430.6 453.6,449.2 453.7,439.5 453.8,432.6 454.0,404.5 454.1,416.9 454.2,439.5 454.3,421.1 454.4,426.0 454.6,417.9 454.7,414.7 454.8,430.1 454.9,408.6 455.1,426.1 455.2,451.8 455.3,428.6 455.4,448.1 455.6,451.6 455.7,465.9 455.8,430.5 455.9,434.5 456.0,428.9 456.2,416.4 456.3,403.3 456.4,409.9 456.5,415.3 456.7,435.6 456.8,436.3 456.9,422.8 457.0,424.8 457.2,436.3 457.3,418.9 457.4,428.3 457.5,433.1 457.6,420.2 457.8,423.5 457.9,426.9 458.0,423.7 458.1,407.6 458.3,429.6 458.4,424.6 458.5,430.9 458.6,425.7 458.8,437.9 458.9,429.3 459.0,435.1 459.1,430.5 459.2,441.4 459.4,459.5 459.5,441.8 459.6,438.2 459.7,434.1 459.9,446.2 460.0,431.1 460.1,431.3 460.2,417.3 460.4,448.9 460.5,437.1 460.6,433.3 460.7,434.2 460.8,415.9 461.0,412.4 461.1,415.8 461.2,411.0 461.3,420.6 461.5,416.9 461.6,415.2 461.7,412.4 461.8,398.9 462.0,413.0 462.1,422.0 462.2,412.1 462.3,405.5 462.4,397.8 462.6,402.0 462.7,419.5 462.8,411.3 462.9,423.7 463.1,424.3 463.2,394.6 463.3,415.9 463.4,420.2 463.6,417.3 463.7,414.5 463.8,430.7 463.9,417.5 464.0,428.3 464.2,428.1 464.3,405.9 464.4,407.7 464.5,415.8 464.7,412.6 464.8,419.1 464.9,429.0 465.0,413.4 465.1,422.1 465.3,418.8 465.4,418.2 465.5,418.9 465.6,421.2 465.8,420.9 465.9,427.5 466.0,420.5 466.1,411.8 466.3,421.9 466.4,408.9 466.5,395.3 466.6,398.7 466.7,390.5 466.9,412.4 467.0,403.7 467.1,422.1 467.2,420.7 467.4,411.2 467.5,422.0 467.6,425.4 467.7,414.9 467.9,423.9 468.0,426.7 468.1,435.6 468.2,431.4 468.3,429.9 468.5,428.0 468.6,428.5 468.7,430.3 468.8,428.5 469.0,437.5 469.1,432.6 469.2,432.1 469.3,424.2 469.5,427.4 469.6,421.4 469.7,416.6 469.8,433.1 469.9,430.2 470.1,442.8 470.2,404.6 470.3,407.3 470.4,418.2 470.6,421.6 470.7,403.3 470.8,421.9 470.9,419.3 471.1,405.3 471.2,409.5 471.3,412.2 471.4,408.4 471.5,412.8 471.7,399.2 471.8,405.6 471.9,408.3 472.0,414.2 472.2,420.0 472.3,405.6 472.4,419.9 472.5,401.7 472.7,424.4 472.8,423.2 472.9,431.8 473.0,436.0 473.1,427.3 473.3,425.9 473.4,438.3 473.5,433.0 473.6,435.7 473.8,427.1 473.9,418.9 474.0,408.0 474.1,425.0 474.3,414.5 474.4,425.2 474.5,436.2 474.6,440.3 474.7,441.9 474.9,448.1 475.0,431.1 475.1,441.9 475.2,442.0 475.4,436.3 475.5,422.8 475.6,442.3 475.7,447.3 475.9,424.9 476.0,436.8 476.1,436.2 476.2,433.2 476.3,424.1 476.5,416.8 476.6,411.7 476.7,416.3 476.8,407.1 477.0,408.9 477.1,413.5 477.2,416.6 477.3,424.9 477.5,435.1 477.6,425.6 477.7,433.9 477.8,433.0 477.9,418.1 478.1,425.9 478.2,427.3 478.3,418.9 478.4,415.0 478.6,426.9 478.7,420.8 478.8,418.2 478.9,425.1 479.0,418.8 479.2,400.4 479.3,422.0 479.4,411.2 479.5,413.5 479.7,405.6 479.8,431.5 479.9,416.6 480.0,429.9 480.2,427.5 480.3,423.9 480.4,411.9 480.5,426.0 480.6,422.2 480.8,415.0 480.9,431.0 481.0,429.7 481.1,422.4 481.3,433.0 481.4,429.7 481.5,448.1 481.6,434.4 481.8,441.0 481.9,420.8 482.0,430.1 482.1,422.2 482.2,433.0 482.4,443.5 482.5,440.7 482.6,432.8 482.7,437.4 482.9,440.1 483.0,437.7 483.1,429.5 483.2,427.4 483.4,434.5 483.5,427.9 483.6,416.8 483.7,426.8 483.8,421.0 484.0,410.0 484.1,404.6 484.2,420.0 484.3,438.4 484.5,431.7 484.6,429.7 484.7,422.5 484.8,424.2 485.0,419.0 485.1,422.1 485.2,423.1 485.3,437.5 485.4,430.5 485.6,432.3 485.7,413.0 485.8,424.7 485.9,433.4 486.1,429.5 486.2,428.3 486.3,434.3 486.4,426.5 486.6,409.1 486.7,406.3 486.8,417.6 486.9,431.1 487.0,422.9 487.2,427.7 487.3,422.1 487.4,421.8 487.5,418.6 487.7,430.8 487.8,420.0 487.9,433.0 488.0,437.6 488.2,445.4 488.3,437.7 488.4,422.6 488.5,424.4 488.6,430.0 488.8,418.7 488.9,420.9 489.0,419.7 489.1,424.7 489.3,409.4 489.4,415.3 489.5,423.4 489.6,425.7 489.8,410.2 489.9,409.8 490.0,410.8 490.1,398.1 490.2,402.6 490.4,408.1 490.5,399.8 490.6,390.1 490.7,395.6 490.9,396.8 491.0,408.8 491.1,405.6 491.2,410.8 491.4,393.6 491.5,422.9 491.6,407.0 491.7,423.1 491.8,415.1 492.0,403.0 492.1,399.3 492.2,394.0 492.3,393.7 492.5,398.3 492.6,385.4 492.7,393.5 492.8,374.0 493.0,392.2 493.1,389.2 493.2,386.3 493.3,397.0 493.4,385.7 493.6,390.6 493.7,400.3 493.8,401.1 493.9,394.2 494.1,409.3 494.2,403.7 494.3,396.0 494.4,421.6 494.5,403.7 494.7,400.0 494.8,414.8 494.9,383.9 495.0,421.4 495.2,394.0 495.3,397.6 495.4,394.0 495.5,380.5 495.7,367.3 495.8,389.8 495.9,378.0 496.0,392.1 496.1,388.5 496.3,365.8 496.4,397.4 496.5,388.4 496.6,387.1 496.8,390.8 496.9,376.6 497.0,387.2 497.1,398.3 497.3,386.4 497.4,392.2 497.5,386.6 497.6,389.5 497.7,405.6 497.9,388.8 498.0,395.1 498.1,384.0 498.2,390.3 498.4,379.7 498.5,391.8 498.6,395.5 498.7,400.0 498.9,382.7 499.0,385.6 499.1,373.8 499.2,382.8 499.3,394.5 499.5,389.8 499.6,386.8 499.7,395.8 499.8,387.1 500.0,384.3 500.1,389.2 500.2,393.1 500.3,377.1 500.5,380.7 500.6,388.3 500.7,378.2 500.8,388.5 500.9,390.8 501.1,394.1 501.2,414.5 501.3,384.4 501.4,399.2 501.6,396.5 501.7,393.9 501.8,381.3 501.9,382.2 502.1,377.0 502.2,386.2 502.3,357.6 502.4,384.1 502.5,372.0 502.7,375.6 502.8,370.9 502.9,357.3 503.0,376.0 503.2,381.5 503.3,381.2 503.4,380.2 503.5,371.3 503.7,372.6 503.8,385.6 503.9,370.5 504.0,375.6 504.1,369.6 504.3,384.7 504.4,391.0 504.5,395.4 504.6,373.1 504.8,383.2 504.9,396.6 505.0,384.0 505.1,391.7 505.3,403.1 505.4,411.4 505.5,405.2 505.6,390.3 505.7,386.4 505.9,388.3 506.0,380.5 506.1,373.7 506.2,396.5 506.4,384.1 506.5,383.4 506.6,391.1 506.7,387.7 506.9,386.8 507.0,387.9 507.1,399.7 507.2,388.9 507.3,376.8 507.5,393.0 507.6,401.4 507.7,386.4 507.8,379.5 508.0,387.8 508.1,387.8 508.2,375.4 508.3,379.7 508.4,380.6 508.6,384.3 508.7,385.5 508.8,380.0 508.9,382.0 509.1,387.2 509.2,384.1 509.3,399.1 509.4,394.1 509.6,424.4 509.7,414.6 509.8,401.7 509.9,416.5 510.0,408.4 510.2,411.6 510.3,411.8 510.4,417.8 510.5,419.0 510.7,426.8 510.8,416.8 510.9,394.9 511.0,412.0 511.2,406.0 511.3,415.4 511.4,395.5 511.5,414.1 511.6,411.4 511.8,402.2 511.9,388.3 512.0,385.1 512.1,388.8 512.3,401.7 512.4,395.9 512.5,402.3 512.6,398.4 512.8,394.1 512.9,388.7 513.0,407.6 513.1,392.0 513.2,398.1 513.4,408.4 513.5,397.1 513.6,409.5 513.7,407.9 513.9,408.7 514.0,393.6 514.1,389.8 514.2,402.3 514.4,403.6 514.5,393.0 514.6,414.1 514.7,404.5 514.8,407.8 515.0,409.4 515.1,411.0 515.2,388.2 515.3,410.2 515.5,402.1 515.6,421.4 515.7,425.0 515.8,414.8 516.0,423.3 516.1,406.3 516.2,400.2 516.3,389.0 516.4,404.3 516.6,381.1 516.7,391.8 516.8,409.0 516.9,417.6 517.1,407.0 517.2,420.9 517.3,410.3 517.4,426.2 517.6,425.2 517.7,419.5 517.8,414.6 517.9,417.8 518.0,395.4 518.2,421.1 518.3,388.7 518.4,413.5 518.5,415.0 518.7,423.5 518.8,442.1 518.9,416.7 519.0,418.5 519.2,407.4 519.3,435.6 519.4,401.6 519.5,418.5 519.6,401.5 519.8,411.9 519.9,406.1 520.0,409.1 520.1,391.7 520.3,395.3 520.4,405.8 520.5,397.1 520.6,403.9 520.8,407.2 520.9,408.4 521.0,404.5 521.1,414.6 521.2,425.6 521.4,431.8 521.5,413.9 521.6,421.4 521.7,424.6 521.9,421.3 522.0,416.6 522.1,411.5 522.2,415.9 522.3,418.9 522.5,402.5 522.6,416.6 522.7,418.1 522.8,428.7 523.0,417.9 523.1,402.0 523.2,414.0 523.3,426.2 523.5,423.6 523.6,423.9 523.7,443.9 523.8,409.7 523.9,419.5 524.1,417.0 524.2,449.5 524.3,441.2 524.4,441.7 524.6,428.8 524.7,430.9 524.8,434.0 524.9,439.2 525.1,415.0 525.2,417.0 525.3,410.9 525.4,405.9 525.5,399.1 525.7,397.8 525.8,402.9 525.9,399.5 526.0,397.1 526.2,408.6 526.3,413.3 526.4,418.3 526.5,430.2 526.7,427.3 526.8,415.2 526.9,405.1 527.0,404.2 527.1,415.2 527.3,411.5 527.4,406.7 527.5,391.5 527.6,418.1 527.8,422.3 527.9,426.3 528.0,436.1 528.1,421.9 528.3,416.9 528.4,430.3 528.5,415.0 528.6,427.1 528.7,422.5 528.9,425.1 529.0,437.3 529.1,439.0 529.2,434.5 529.4,412.8 529.5,429.3 529.6,428.4 529.7,429.3 529.9,449.1 530.0,430.4 530.1,433.0 530.2,419.8 530.3,424.8 530.5,422.2 530.6,425.8 530.7,426.9 530.8,430.6 531.0,434.8 531.1,418.7 531.2,411.5 531.3,424.3 531.5,411.8 531.6,393.2 531.7,395.5 531.8,402.6 531.9,409.4 532.1,417.5 532.2,398.8 532.3,415.0 532.4,412.9 532.6,396.3 532.7,404.1 532.8,433.6 532.9,423.8 533.1,429.8 533.2,419.0 533.3,412.8 533.4,416.7 533.5,398.8 533.7,418.0 533.8,416.8 533.9,412.1 534.0,410.8 534.2,405.0 534.3,407.9 534.4,408.0 534.5,419.8 534.7,429.8 534.8,438.2 534.9,425.4 535.0,427.5 535.1,427.1 535.3,420.8 535.4,427.9 535.5,417.2 535.6,416.6 535.8,420.6 535.9,425.2 536.0,407.7 536.1,414.3 536.3,413.0 536.4,408.5 536.5,398.0 536.6,392.3 536.7,402.5 536.9,410.5 537.0,418.7 537.1,418.3 537.2,415.8 537.4,414.4 537.5,429.6 537.6,410.2 537.7,404.7 537.8,410.1 538.0,403.1 538.1,408.6 538.2,412.9 538.3,422.5 538.5,414.2 538.6,416.3 538.7,429.2 538.8,415.8 539.0,417.9 539.1,408.9 539.2,420.6 539.3,414.8 539.4,404.5 539.6,435.3 539.7,432.9 539.8,425.4 539.9,418.1 540.1,415.3 540.2,418.1 540.3,424.4 540.4,410.7 540.6,417.7 540.7,422.8 540.8,408.3 540.9,407.6 541.0,386.0 541.2,419.2 541.3,406.6 541.4,401.8 541.5,408.1 541.7,396.3 541.8,411.9 541.9,395.2 542.0,404.9 542.2,398.5 542.3,411.6 542.4,402.9 542.5,411.7 542.6,410.9 542.8,409.5 542.9,403.5 543.0,401.6 543.1,390.8 543.3,400.7 543.4,413.9 543.5,429.5 543.6,414.1 543.8,428.8 543.9,402.0 544.0,406.9 544.1,398.4 544.2,389.7 544.4,415.2 544.5,410.8 544.6,414.2 544.7,405.5 544.9,411.2 545.0,417.4 545.1,407.2 545.2,405.4 545.4,419.7 545.5,424.0 545.6,417.9 545.7,418.0 545.8,415.2 546.0,405.7 546.1,407.1 546.2,422.7 546.3,416.2 546.5,411.4 546.6,411.7 546.7,425.8 546.8,428.4 547.0,416.4 547.1,415.9 547.2,412.4 547.3,408.0 547.4,417.5 547.6,409.0 547.7,395.2 547.8,403.6 547.9,405.4 548.1,416.1 548.2,416.9 548.3,402.7 548.4,403.4 548.6,392.3 548.7,399.0 548.8,409.5 548.9,396.5 549.0,403.6 549.2,419.8 549.3,397.4 549.4,404.0 549.5,404.2 549.7,396.4 549.8,405.0 549.9,419.1 550.0,390.8 550.2,423.7 550.3,422.8 550.4,420.9 550.5,432.1 550.6,441.8 550.8,431.6 550.9,433.2 551.0,436.5 551.1,425.0 551.3,407.5 551.4,418.2 551.5,427.7 551.6,410.9 551.7,413.0 551.9,411.6 552.0,397.7 552.1,400.9 552.2,410.8 552.4,417.0 552.5,422.1 552.6,413.2 552.7,417.0 552.9,423.8 553.0,421.5 553.1,416.6 553.2,404.4 553.3,396.2 553.5,408.8 553.6,413.0 553.7,416.9 553.8,403.8 554.0,414.0 554.1,422.6 554.2,436.4 554.3,413.8 554.5,415.2 554.6,412.2 554.7,405.8 554.8,404.7 554.9,402.1 555.1,390.5 555.2,394.3 555.3,389.4 555.4,409.4 555.6,397.1 555.7,406.9 555.8,416.9 555.9,401.0 556.1,392.8 556.2,403.5 556.3,396.3 556.4,401.6 556.5,379.3 556.7,395.0 556.8,383.0 556.9,407.2 557.0,374.6 557.2,419.5 557.3,417.9 557.4,418.8 557.5,429.5 557.7,418.5 557.8,410.5 557.9,404.2 558.0,391.0 558.1,401.0 558.3,393.8 558.4,402.3 558.5,400.4 558.6,386.6 558.8,403.6 558.9,406.8 559.0,417.0 559.1,415.6 559.3,392.3 559.4,420.1 559.5,410.2 559.6,409.6 559.7,416.5 559.9,407.1 560.0,435.8 560.1,393.3 560.2,390.5 560.4,410.0 560.5,399.2 560.6,398.0 560.7,373.2 560.9,403.1 561.0,409.7 561.1,389.6 561.2,390.8 561.3,405.2 561.5,425.8 561.6,403.5 561.7,419.3 561.8,413.2 562.0,418.7 562.1,417.4 562.2,413.4 562.3,407.2 562.5,409.0 562.6,433.3 562.7,418.8 562.8,391.6 562.9,401.0 563.1,410.0 563.2,394.6 563.3,404.7 563.4,397.1 563.6,404.3 563.7,417.6 563.8,402.9 563.9,390.8 564.1,406.6 564.2,401.9 564.3,402.8 564.4,393.6 564.5,407.2 564.7,412.5 564.8,404.5 564.9,403.3 565.0,392.6 565.2,396.7 565.3,377.7 565.4,387.0 565.5,396.0 565.6,409.4 565.8,406.9 565.9,400.8 566.0,409.2 566.1,414.1 566.3,416.4 566.4,407.7 566.5,405.5 566.6,406.4 566.8,420.3 566.9,397.4 567.0,406.1 567.1,403.3 567.2,407.2 567.4,412.1 567.5,410.5 567.6,413.9 567.7,393.8 567.9,398.2 568.0,387.6 568.1,393.3 568.2,394.2 568.4,402.8 568.5,423.1 568.6,408.1 568.7,413.4 568.8,401.8 569.0,405.1 569.1,413.4 569.2,412.5 569.3,402.0 569.5,401.8 569.6,371.7 569.7,379.1 569.8,373.3 570.0,392.0 570.1,402.9 570.2,378.9 570.3,391.9 570.4,396.5 570.6,379.1 570.7,379.4 570.8,374.3 570.9,383.1 571.1,394.5 571.2,384.5 571.3,408.6 571.4,403.0 571.6,392.4 571.7,404.6 571.8,400.8 571.9,402.1 572.0,416.0 572.2,397.5 572.3,389.9 572.4,397.2 572.5,392.8 572.7,389.1 572.8,388.5 572.9,404.5 573.0,410.8 573.2,410.6 573.3,379.3 573.4,394.9 573.5,390.0 573.6,396.9 573.8,403.6 573.9,378.8 574.0,398.3 574.1,404.1 574.3,391.1 574.4,391.0 574.5,397.2 574.6,405.3 574.8,415.0 574.9,395.5 575.0,396.4 575.1,397.8 575.2,406.5 575.4,404.4 575.5,396.5 575.6,414.8 575.7,419.5 575.9,421.6 576.0,433.4 576.1,403.6 576.2,416.1 576.4,421.6 576.5,406.1 576.6,395.5 576.7,386.2 576.8,370.8 577.0,401.5 577.1,403.2 577.2,405.4 577.3,395.2 577.5,384.7 577.6,393.0 577.7,392.4 577.8,396.6 578.0,391.3 578.1,394.6 578.2,400.1 578.3,399.3 578.4,396.6 578.6,393.5 578.7,397.4 578.8,407.3 578.9,403.8 579.1,416.6 579.2,409.3 579.3,421.8 579.4,411.1 579.6,381.9 579.7,401.2 579.8,403.3 579.9,397.3 580.0,379.1 580.2,387.6 580.3,387.6 580.4,389.1 580.5,392.3 580.7,377.0 580.8,396.8 580.9,402.3 581.0,412.6 581.1,410.9 581.3,406.3 581.4,404.8 581.5,415.5 581.6,424.2 581.8,409.4 581.9,411.8 582.0,415.8 582.1,417.5 582.3,416.7 582.4,416.5 582.5,403.3 582.6,415.4 582.7,407.6 582.9,400.3 583.0,410.1 583.1,408.1 583.2,407.9 583.4,391.2 583.5,424.8 583.6,413.9 583.7,432.5 583.9,420.3 584.0,413.4 584.1,423.4 584.2,413.4 584.3,421.5 584.5,400.4 584.6,402.5 584.7,403.5 584.8,429.9 585.0,405.1 585.1,390.3 585.2,402.4 585.3,403.1 585.5,403.9 585.6,411.5 585.7,393.9 585.8,403.2 585.9,400.9 586.1,401.8 586.2,397.6 586.3,404.3 586.4,397.9 586.6,401.5 586.7,406.7 586.8,387.3 586.9,391.3 587.1,419.5 587.2,399.8 587.3,406.7 587.4,400.2 587.5,401.6 587.7,398.4 587.8,394.1 587.9,381.4 588.0,369.3 588.2,390.6 588.3,402.3 588.4,389.0 588.5,404.4 588.7,387.4 588.8,410.8 588.9,418.8 589.0,399.5 589.1,396.1 589.3,415.7 589.4,396.8 589.5,405.0 589.6,399.7 589.8,414.2 589.9,417.9 590.0,402.6 590.1,400.7 590.3,394.9 590.4,399.8 590.5,404.4 590.6,404.9 590.7,409.4 590.9,399.1 591.0,398.7 591.1,398.8 591.2,409.6 591.4,402.2 591.5,410.6 591.6,398.7 591.7,409.0 591.9,415.5 592.0,409.0 592.1,430.9 592.2,421.9 592.3,423.6 592.5,407.6 592.6,412.7 592.7,422.5 592.8,418.1 593.0,415.0 593.1,418.6 593.2,414.9 593.3,416.1 593.5,418.8 593.6,408.7 593.7,405.5 593.8,418.6 593.9,415.4 594.1,409.6 594.2,425.0 594.3,402.8 594.4,408.5 594.6,401.9 594.7,388.7 594.8,393.4 594.9,387.9 595.0,399.0 595.2,392.6 595.3,380.2 595.4,378.0 595.5,374.0 595.7,370.6 595.8,385.5 595.9,393.0 596.0,390.3 596.2,393.0 596.3,401.4 596.4,404.1 596.5,390.1 596.6,402.5 596.8,404.7 596.9,416.0 597.0,395.6 597.1,423.7 597.3,399.4 597.4,426.4 597.5,412.8 597.6,404.3 597.8,410.6 597.9,413.9 598.0,411.6 598.1,423.4 598.2,401.4 598.4,405.4 598.5,417.6 598.6,393.8 598.7,408.3 598.9,413.5 599.0,407.9 599.1,417.0 599.2,389.9 599.4,406.0 599.5,389.6 599.6,404.8 599.7,417.0 599.8,414.3 600.0,392.1 600.1,394.9 600.2,396.7 600.3,394.1 600.5,418.2 600.6,424.0 600.7,427.9 600.8,411.6 601.0,406.0 601.1,398.9 601.2,404.3 601.3,414.8 601.4,382.2 601.6,386.9 601.7,397.9 601.8,410.7 601.9,391.1 602.1,405.6 602.2,411.8 602.3,410.3 602.4,400.5 602.6,409.2 602.7,410.4 602.8,420.0 602.9,405.1 603.0,411.5 603.2,424.9 603.3,407.8 603.4,414.1 603.5,404.5 603.7,405.7 603.8,406.6 603.9,405.1 604.0,401.1 604.2,415.3 604.3,411.1 604.4,419.0 604.5,421.6 604.6,420.8 604.8,446.7 604.9,415.8 605.0,431.3 605.1,428.5 605.3,431.1 605.4,423.0 605.5,418.2 605.6,440.0 605.8,428.1 605.9,439.9 606.0,421.2 606.1,422.0 606.2,413.1 606.4,432.0 606.5,430.4 606.6,406.1 606.7,416.5 606.9,415.7 607.0,406.1 607.1,405.7 607.2,401.1 607.4,431.2 607.5,396.8 607.6,414.6 607.7,416.7 607.8,389.5 608.0,395.7 608.1,406.4 608.2,406.2 608.3,393.3 608.5,444.6 608.6,401.3 608.7,425.1 608.8,410.0 608.9,408.1 609.1,403.5 609.2,396.4 609.3,392.6 609.4,416.1 609.6,417.0 609.7,408.8 609.8,428.9 609.9,438.0 610.1,408.9 610.2,422.2 610.3,412.9 610.4,428.2 610.5,418.4 610.7,430.7 610.8,420.6 610.9,417.6 611.0,414.6 611.2,415.0 611.3,421.5 611.4,422.2 611.5,425.4 611.7,407.9 611.8,393.8 611.9,407.6 612.0,397.0 612.1,410.3 612.3,415.0 612.4,404.2 612.5,410.8 612.6,403.5 612.8,383.7 612.9,378.2 613.0,389.4 613.1,383.7 613.3,384.5 613.4,398.0 613.5,382.0 613.6,394.2 613.7,373.6 613.9,389.6 614.0,399.4 614.1,398.4 614.2,397.3 614.4,382.8 614.5,394.5 614.6,402.0 614.7,398.8 614.9,397.1 615.0,389.0 615.1,386.2 615.2,385.7 615.3,400.7 615.5,395.3 615.6,396.6 615.7,378.7 615.8,368.8 616.0,384.7 616.1,398.0 616.2,395.5 616.3,387.1 616.5,400.1 616.6,404.5 616.7,409.5 616.8,405.5 616.9,408.3 617.1,410.6 617.2,388.1 617.3,405.5 617.4,382.5 617.6,393.1 617.7,393.0 617.8,383.3 617.9,387.5 618.1,391.1 618.2,404.3 618.3,392.2 618.4,395.7 618.5,374.2 618.7,393.5 618.8,393.2 618.9,400.2 619.0,401.1 619.2,408.1 619.3,393.5 619.4,403.2 619.5,397.5 619.7,407.0 619.8,394.6 619.9,378.0 620.0,391.5 620.1,398.7 620.3,376.2 620.4,387.2 620.5,386.3 620.6,379.0 620.8,389.9 620.9,374.9 621.0,387.2 621.1,366.5 621.3,375.5 621.4,385.0 621.5,390.6 621.6,386.5 621.7,384.4 621.9,380.7 622.0,392.9 622.1,374.9 622.2,395.9 622.4,395.8 622.5,408.1 622.6,383.9 622.7,395.6 622.9,397.6 623.0,403.1 623.1,393.5 623.2,413.7 623.3,397.2 623.5,376.7 623.6,400.9 623.7,397.8 623.8,394.7 624.0,399.6 624.1,398.5 624.2,392.4 624.3,400.1 624.4,394.0 624.6,396.6 624.7,392.9 624.8,392.0 624.9,385.0 625.1,395.5 625.2,396.5 625.3,406.5 625.4,389.2 625.6,384.0 625.7,388.3 625.8,400.4 625.9,399.2 626.0,380.5 626.2,386.1 626.3,387.9 626.4,390.2 626.5,387.1 626.7,395.1 626.8,401.2 626.9,401.2 627.0,393.1 627.2,398.7 627.3,397.9 627.4,406.0 627.5,411.8 627.6,389.4 627.8,392.0 627.9,385.0 628.0,387.3 628.1,390.9 628.3,380.8 628.4,379.6 628.5,392.4 628.6,389.6 628.8,372.7 628.9,389.6 629.0,379.1 629.1,367.6 629.2,379.0 629.4,384.5 629.5,399.3 629.6,383.1 629.7,380.2 629.9,367.6 630.0,376.4 630.1,381.8 630.2,394.8 630.4,387.6 630.5,396.4 630.6,394.2" fill="none" stroke="#0808d8" stroke-width="0.9" stroke-linejoin="bevel" opacity="1"/>
<polyline id="s8" points="384.7,386.6 384.8,388.8 384.9,383.4 385.1,386.2 385.2,406.5 385.3,396.4 385.4,408.7 385.6,395.3 385.7,402.9 385.8,376.0 385.9,377.1 386.1,368.0 386.2,369.8 386.3,351.9 386.4,372.6 386.5,364.6 386.7,376.5 386.8,377.6 386.9,389.5 387.0,374.7 387.2,385.7 387.3,378.0 387.4,386.0 387.5,375.2 387.7,375.1 387.8,385.0 387.9,385.5 388.0,373.8 388.1,406.8 388.3,385.2 388.4,393.4 388.5,400.5 388.6,386.7 388.8,392.3 388.9,410.8 389.0,393.7 389.1,378.7 389.3,390.5 389.4,406.8 389.5,398.3 389.6,384.8 389.7,405.3 389.9,414.7 390.0,422.0 390.1,413.8 390.2,404.4 390.4,394.5 390.5,396.0 390.6,404.0 390.7,411.5 390.9,405.5 391.0,403.0 391.1,424.8 391.2,424.4 391.3,404.8 391.5,407.0 391.6,398.7 391.7,401.3 391.8,396.6 392.0,399.9 392.1,402.7 392.2,401.0 392.3,397.7 392.4,382.5 392.6,397.8 392.7,404.7 392.8,388.9 392.9,404.4 393.1,411.0 393.2,410.9 393.3,395.8 393.4,395.4 393.6,407.0 393.7,380.6 393.8,391.7 393.9,394.2 394.0,380.7 394.2,387.9 394.3,403.4 394.4,413.5 394.5,387.7 394.7,386.9 394.8,390.7 394.9,393.6 395.0,385.2 395.2,397.3 395.3,392.3 395.4,398.4 395.5,388.1 395.6,404.7 395.8,392.7 395.9,406.7 396.0,407.2 396.1,414.9 396.3,397.8 396.4,390.1 396.5,408.9 396.6,402.3 396.8,415.6 396.9,409.9 397.0,394.8 397.1,408.4 397.2,410.7 397.4,388.1 397.5,392.3 397.6,407.3 397.7,405.7 397.9,389.8 398.0,387.4 398.1,382.7 398.2,417.3 398.4,397.6 398.5,394.4 398.6,396.8 398.7,389.8 398.8,392.9 399.0,384.7 399.1,380.6 399.2,376.8 399.3,389.6 399.5,388.2 399.6,381.5 399.7,382.7 399.8,387.3 400.0,382.7 400.1,368.2 400.2,364.7 400.3,376.3 400.4,362.9 400.6,397.0 400.7,371.1 400.8,382.2 400.9,378.1 401.1,384.8 401.2,349.7 401.3,374.9 401.4,380.5 401.6,371.7 401.7,374.2 401.8,381.2 401.9,383.6 402.0,373.5 402.2,377.3 402.3,390.4 402.4,400.3 402.5,392.4 402.7,388.0 402.8,390.3 402.9,393.8 403.0,395.5 403.2,390.3 403.3,381.6 403.4,384.7 403.5,360.4 403.6,387.9 403.8,367.2 403.9,368.8 404.0,380.1 404.1,399.4 404.3,391.1 404.4,384.8 404.5,391.2 404.6,364.9 404.8,348.7 404.9,365.8 405.0,380.1 405.1,373.5 405.2,385.1 405.4,378.1 405.5,371.0 405.6,361.1 405.7,367.0 405.9,371.4 406.0,371.4 406.1,398.8 406.2,385.0 406.4,385.1 406.5,384.1 406.6,402.5 406.7,396.3 406.8,388.6 407.0,384.6 407.1,380.6 407.2,382.3 407.3,391.3 407.5,386.9 407.6,376.3 407.7,381.1 407.8,397.9 407.9,387.5 408.1,389.1 408.2,379.5 408.3,359.5 408.4,354.5 408.6,373.7 408.7,371.4 408.8,387.9 408.9,359.4 409.1,383.7 409.2,378.7 409.3,376.6 409.4,374.5 409.5,362.2 409.7,376.4 409.8,383.2 409.9,396.2 410.0,396.6 410.2,405.4 410.3,417.2 410.4,384.2 410.5,412.4 410.7,391.2 410.8,377.4 410.9,380.6 411.0,392.7 411.1,377.7 411.3,388.2 411.4,385.2 411.5,394.0 411.6,409.0 411.8,421.0 411.9,409.6 412.0,405.2 412.1,394.1 412.3,401.4 412.4,388.4 412.5,396.0 412.6,388.0 412.7,393.3 412.9,391.2 413.0,383.3 413.1,395.1 413.2,407.2 413.4,389.8 413.5,393.6 413.6,399.1 413.7,407.7 413.9,398.0 414.0,389.6 414.1,386.1 414.2,375.7 414.3,359.8 414.5,380.6 414.6,384.9 414.7,389.7 414.8,382.0 415.0,393.1 415.1,398.9 415.2,379.6 415.3,397.4 415.5,381.8 415.6,407.3 415.7,409.1 415.8,397.2 415.9,386.0 416.1,401.8 416.2,391.2 416.3,401.2 416.4,402.0 416.6,394.1 416.7,392.3 416.8,375.3 416.9,396.9 417.1,406.1 417.2,416.6 417.3,414.0 417.4,412.8 417.5,411.4 417.7,415.0 417.8,395.3 417.9,405.8 418.0,407.5 418.2,415.9 418.3,409.7 418.4,406.3 418.5,398.9 418.7,397.1 418.8,391.9 418.9,396.6 419.0,393.1 419.1,379.2 419.3,393.6 419.4,407.9 419.5,397.1 419.6,387.6 419.8,392.6 419.9,386.9 420.0,378.7 420.1,396.3 420.3,391.0 420.4,385.2 420.5,396.8 420.6,374.5 420.7,394.5 420.9,402.5 421.0,385.0 421.1,389.6 421.2,404.2 421.4,396.3 421.5,389.0 421.6,399.0 421.7,388.8 421.8,412.4 422.0,435.0 422.1,405.3 422.2,412.9 422.3,418.4 422.5,416.9 422.6,425.6 422.7,416.4 422.8,412.6 423.0,435.2 423.1,426.4 423.2,413.4 423.3,432.1 423.4,414.8 423.6,435.4 423.7,410.7 423.8,435.5 423.9,427.5 424.1,432.7 424.2,426.2 424.3,402.2 424.4,410.8 424.6,399.3 424.7,411.4 424.8,431.0 424.9,415.1 425.0,407.3 425.2,406.2 425.3,398.8 425.4,409.5 425.5,399.2 425.7,414.0 425.8,397.1 425.9,401.8 426.0,392.5 426.2,390.5 426.3,395.0 426.4,390.0 426.5,405.3 426.6,396.6 426.8,406.0 426.9,393.0 427.0,387.0 427.1,395.2 427.3,399.4 427.4,366.7 427.5,373.5 427.6,383.7 427.8,374.0 427.9,391.0 428.0,399.7 428.1,383.0 428.2,392.2 428.4,403.6 428.5,397.3 428.6,402.1 428.7,419.7 428.9,398.2 429.0,402.8 429.1,399.5 429.2,392.1 429.4,410.2 429.5,385.9 429.6,412.8 429.7,400.8 429.8,407.2 430.0,402.2 430.1,409.5 430.2,398.4 430.3,406.8 430.5,403.1 430.6,404.1 430.7,394.8 430.8,399.7 431.0,391.0 431.1,387.2 431.2,379.2 431.3,362.4 431.4,362.5 431.6,383.5 431.7,377.1 431.8,375.1 431.9,383.7 432.1,378.3 432.2,387.5 432.3,384.8 432.4,369.4 432.6,384.8 432.7,391.0 432.8,406.7 432.9,407.7 433.0,409.5 433.2,420.0 433.3,409.7 433.4,394.9 433.5,393.1 433.7,403.5 433.8,389.0 433.9,402.0 434.0,410.9 434.2,426.7 434.3,397.5 434.4,412.2 434.5,414.1 434.6,402.4 434.8,363.3 434.9,397.5 435.0,378.4 435.1,390.5 435.3,390.2 435.4,392.0 435.5,413.8 435.6,405.0 435.7,399.1 435.9,394.7 436.0,388.2 436.1,400.9 436.2,396.0 436.4,397.0 436.5,401.6 436.6,398.9 436.7,409.9 436.9,397.0 437.0,404.2 437.1,401.2 437.2,382.4 437.3,395.8 437.5,389.4 437.6,395.5 437.7,390.4 437.8,384.0 438.0,397.1 438.1,380.6 438.2,376.0 438.3,392.0 438.5,387.3 438.6,378.6 438.7,400.3 438.8,417.3 438.9,397.0 439.1,391.7 439.2,414.2 439.3,395.1 439.4,407.3 439.6,393.7 439.7,390.4 439.8,400.5 439.9,396.1 440.1,394.9 440.2,418.5 440.3,380.2 440.4,394.1 440.5,400.0 440.7,403.6 440.8,396.9 440.9,396.4 441.0,412.9 441.2,390.7 441.3,395.9 441.4,386.4 441.5,397.3 441.7,387.6 441.8,382.2 441.9,378.9 442.0,395.5 442.1,398.0 442.3,399.7 442.4,385.2 442.5,389.6 442.6,389.3 442.8,379.1 442.9,399.9 443.0,379.7 443.1,384.5 443.3,382.4 443.4,374.9 443.5,386.8 443.6,379.5 443.7,372.8 443.9,374.0 444.0,374.2 444.1,380.8 444.2,367.8 444.4,383.7 444.5,390.6 444.6,390.9 444.7,381.3 444.9,382.3 445.0,381.2 445.1,371.6 445.2,388.7 445.3,377.3 445.5,390.0 445.6,375.2 445.7,396.4 445.8,386.2 446.0,390.8 446.1,397.2 446.2,400.5 446.3,373.7 446.5,392.7 446.6,372.5 446.7,385.9 446.8,396.6 446.9,392.2 447.1,386.1 447.2,384.8 447.3,374.5 447.4,390.0 447.6,381.3 447.7,379.1 447.8,375.0 447.9,387.8 448.1,366.5 448.2,370.2 448.3,381.1 448.4,378.4 448.5,379.5 448.7,387.0 448.8,373.3 448.9,391.4 449.0,365.1 449.2,386.4 449.3,389.1 449.4,384.5 449.5,378.0 449.7,385.6 449.8,374.5 449.9,370.1 450.0,377.6 450.1,374.9 450.3,360.5 450.4,372.6 450.5,370.7 450.6,373.7 450.8,371.5 450.9,366.7 451.0,383.1 451.1,390.4 451.2,383.6 451.4,371.7 451.5,358.2 451.6,372.5 451.7,375.4 451.9,351.9 452.0,364.8 452.1,368.1 452.2,374.0 452.4,377.3 452.5,373.3 452.6,391.5 452.7,377.1 452.8,396.2 453.0,372.8 453.1,382.0 453.2,391.4 453.3,370.9 453.5,375.4 453.6,361.3 453.7,381.2 453.8,381.2 454.0,380.3 454.1,383.4 454.2,390.2 454.3,399.5 454.4,403.8 454.6,393.7 454.7,398.7 454.8,397.3 454.9,376.8 455.1,385.4 455.2,381.4 455.3,392.8 455.4,396.5 455.6,387.1 455.7,377.3 455.8,380.8 455.9,410.3 456.0,400.9 456.2,407.4 456.3,400.4 456.4,400.6 456.5,379.3 456.7,380.1 456.8,387.4 456.9,398.1 457.0,402.3 457.2,383.8 457.3,380.2 457.4,385.2 457.5,378.6 457.6,389.8 457.8,394.6 457.9,399.6 458.0,408.6 458.1,410.7 458.3,405.4 458.4,399.0 458.5,405.2 458.6,399.6 458.8,388.8 458.9,407.7 459.0,403.6 459.1,415.7 459.2,403.8 459.4,393.3 459.5,402.7 459.6,379.3 459.7,355.3 459.9,392.8 460.0,388.8 460.1,364.0 460.2,372.7 460.4,369.9 460.5,394.1 460.6,388.2 460.7,375.4 460.8,376.1 461.0,385.5 461.1,373.2 461.2,366.7 461.3,380.4 461.5,368.8 461.6,398.4 461.7,398.7 461.8,382.8 462.0,381.8 462.1,399.2 462.2,377.8 462.3,391.1 462.4,381.1 462.6,366.5 462.7,383.9 462.8,384.1 462.9,403.5 463.1,396.9 463.2,393.7 463.3,386.2 463.4,386.1 463.6,386.2 463.7,380.6 463.8,384.0 463.9,374.6 464.0,371.5 464.2,373.2 464.3,370.5 464.4,378.8 464.5,355.1 464.7,385.7 464.8,355.2 464.9,379.9 465.0,391.5 465.1,371.3 465.3,383.6 465.4,385.6 465.5,382.3 465.6,384.3 465.8,392.3 465.9,398.1 466.0,383.1 466.1,403.1 466.3,399.7 466.4,402.8 466.5,390.5 466.6,405.4 466.7,415.7 466.9,405.2 467.0,399.3 467.1,390.9 467.2,378.6 467.4,384.7 467.5,389.9 467.6,376.4 467.7,389.4 467.9,356.2 468.0,382.0 468.1,380.9 468.2,373.8 468.3,380.4 468.5,383.1 468.6,393.2 468.7,381.7 468.8,388.8 469.0,364.9 469.1,373.6 469.2,382.5 469.3,378.5 469.5,388.8 469.6,378.5 469.7,386.9 469.8,365.4 469.9,379.7 470.1,381.1 470.2,394.9 470.3,384.5 470.4,403.5 470.6,391.5 470.7,399.0 470.8,403.5 470.9,373.5 471.1,385.5 471.2,400.2 471.3,397.5 471.4,397.7 471.5,391.9 471.7,393.9 471.8,387.2 471.9,381.7 472.0,399.6 472.2,412.4 472.3,402.0 472.4,376.5 472.5,371.2 472.7,374.3 472.8,388.0 472.9,390.7 473.0,398.5 473.1,398.1 473.3,403.3 473.4,390.0 473.5,402.0 473.6,398.8 473.8,394.5 473.9,384.7 474.0,396.6 474.1,392.5 474.3,390.9 474.4,404.1 474.5,406.2 474.6,385.6 474.7,396.3 474.9,371.8 475.0,395.8 475.1,393.1 475.2,405.1 475.4,398.4 475.5,398.0 475.6,396.8 475.7,402.3 475.9,404.6 476.0,385.6 476.1,385.0 476.2,407.6 476.3,414.2 476.5,404.4 476.6,394.8 476.7,400.0 476.8,393.9 477.0,408.7 477.1,385.6 477.2,392.2 477.3,387.8 477.5,403.4 477.6,400.7 477.7,405.5 477.8,386.6 477.9,392.5 478.1,398.6 478.2,379.4 478.3,391.3 478.4,364.0 478.6,383.4 478.7,376.9 478.8,380.9 478.9,380.3 479.0,379.7 479.2,376.5 479.3,386.6 479.4,385.1 479.5,392.4 479.7,383.3 479.8,374.3 479.9,373.1 480.0,379.7 480.2,378.7 480.3,400.4 480.4,386.8 480.5,409.4 480.6,400.7 480.8,405.0 480.9,408.4 481.0,400.8 481.1,414.7 481.3,412.3 481.4,432.3 481.5,427.3 481.6,425.7 481.8,423.3 481.9,414.6 482.0,412.3 482.1,402.9 482.2,414.4 482.4,411.5 482.5,402.5 482.6,431.3 482.7,444.1 482.9,438.1 483.0,420.8 483.1,441.1 483.2,422.2 483.4,444.8 483.5,421.5 483.6,416.5 483.7,429.5 483.8,420.0 484.0,418.7 484.1,409.5 484.2,405.5 484.3,402.3 484.5,398.4 484.6,403.0 484.7,394.4 484.8,414.2 485.0,428.2 485.1,388.2 485.2,413.9 485.3,417.7 485.4,434.6 485.6,408.1 485.7,424.6 485.8,431.3 485.9,426.3 486.1,431.5 486.2,427.8 486.3,436.6 486.4,415.7 486.6,412.1 486.7,414.2 486.8,409.5 486.9,403.1 487.0,394.3 487.2,413.5 487.3,406.1 487.4,406.3 487.5,414.7 487.7,403.9 487.8,409.9 487.9,400.6 488.0,405.4 488.2,408.3 488.3,419.1 488.4,412.8 488.5,400.1 488.6,392.4 488.8,399.9 488.9,391.7 489.0,404.9 489.1,401.6 489.3,400.2 489.4,395.4 489.5,408.6 489.6,398.9 489.8,413.7 489.9,409.7 490.0,419.5 490.1,413.3 490.2,414.9 490.4,428.8 490.5,425.9 490.6,418.6 490.7,411.8 490.9,395.1 491.0,410.0 491.1,426.2 491.2,424.6 491.4,418.6 491.5,411.9 491.6,418.7 491.7,416.1 491.8,413.0 492.0,420.4 492.1,418.3 492.2,422.5 492.3,420.0 492.5,428.7 492.6,430.0 492.7,412.4 492.8,420.9 493.0,425.3 493.1,428.2 493.2,421.3 493.3,417.5 493.4,427.0 493.6,418.2 493.7,414.7 493.8,420.7 493.9,389.3 494.1,400.1 494.2,398.2 494.3,410.4 494.4,378.3 494.5,396.7 494.7,396.2 494.8,393.1 494.9,394.4 495.0,397.1 495.2,408.1 495.3,417.9 495.4,414.7 495.5,406.0 495.7,397.8 495.8,421.6 495.9,410.7 496.0,403.2 496.1,410.2 496.3,408.8 496.4,401.3 496.5,404.0 496.6,390.5 496.8,405.6 496.9,399.9 497.0,391.4 497.1,397.0 497.3,405.6 497.4,398.4 497.5,395.0 497.6,391.8 497.7,398.0 497.9,403.8 498.0,406.7 498.1,400.1 498.2,416.6 498.4,403.8 498.5,395.1 498.6,396.7 498.7,397.1 498.9,394.1 499.0,399.2 499.1,404.9 499.2,399.3 499.3,400.6 499.5,412.8 499.6,408.4 499.7,375.7 499.8,387.2 500.0,389.4 500.1,370.6 500.2,399.5 500.3,392.4 500.5,398.7 500.6,398.6 500.7,406.0 500.8,407.0 500.9,397.9 501.1,395.9 501.2,396.4 501.3,401.5 501.4,389.6 501.6,401.4 501.7,396.9 501.8,410.0 501.9,411.7 502.1,405.2 502.2,422.5 502.3,414.5 502.4,410.8 502.5,389.2 502.7,400.4 502.8,409.2 502.9,430.4 503.0,412.5 503.2,398.2 503.3,407.4 503.4,400.6 503.5,412.0 503.7,390.0 503.8,405.7 503.9,406.0 504.0,413.7 504.1,418.4 504.3,411.8 504.4,420.0 504.5,423.5 504.6,399.6 504.8,404.0 504.9,422.4 505.0,423.5 505.1,405.7 505.3,411.6 505.4,386.9 505.5,392.6 505.6,413.0 505.7,403.5 505.9,411.4 506.0,404.0 506.1,407.2 506.2,423.8 506.4,408.5 506.5,410.0 506.6,411.1 506.7,390.1 506.9,399.3 507.0,398.2 507.1,388.3 507.2,391.6 507.3,409.7 507.5,387.5 507.6,390.1 507.7,396.1 507.8,384.1 508.0,375.0 508.1,405.5 508.2,385.5 508.3,395.1 508.4,398.3 508.6,375.4 508.7,390.2 508.8,405.8 508.9,395.4 509.1,404.5 509.2,385.6 509.3,391.9 509.4,389.4 509.6,391.8 509.7,398.3 509.8,392.1 509.9,389.4 510.0,390.2 510.2,394.3 510.3,400.6 510.4,398.5 510.5,393.9 510.7,398.1 510.8,376.8 510.9,396.6 511.0,400.2 511.2,400.9 511.3,400.5 511.4,388.5 511.5,402.4 511.6,402.4 511.8,406.6 511.9,395.9 512.0,408.0 512.1,412.6 512.3,398.8 512.4,387.5 512.5,393.1 512.6,392.8 512.8,401.1 512.9,384.6 513.0,395.9 513.1,407.6 513.2,410.1 513.4,399.7 513.5,412.2 513.6,404.5 513.7,400.5 513.9,420.0 514.0,411.8 514.1,404.9 514.2,421.9 514.4,404.9 514.5,406.4 514.6,397.6 514.7,400.0 514.8,400.2 515.0,405.7 515.1,396.5 515.2,400.7 515.3,401.8 515.5,402.4 515.6,393.2 515.7,399.1 515.8,413.0 516.0,402.4 516.1,381.0 516.2,400.2 516.3,384.2 516.4,378.3 516.6,384.9 516.7,399.0 516.8,383.1 516.9,396.6 517.1,392.4 517.2,397.6 517.3,385.7 517.4,400.3 517.6,401.9 517.7,392.1 517.8,397.3 517.9,398.2 518.0,386.4 518.2,400.5 518.3,396.0 518.4,412.0 518.5,399.3 518.7,391.9 518.8,407.4 518.9,394.6 519.0,392.7 519.2,401.9 519.3,392.1 519.4,375.9 519.5,380.9 519.6,386.5 519.8,385.3 519.9,384.4 520.0,392.5 520.1,386.6 520.3,395.3 520.4,403.8 520.5,398.0 520.6,393.2 520.8,392.8 520.9,402.8 521.0,399.2 521.1,396.2 521.2,383.9 521.4,391.5 521.5,390.8 521.6,382.3 521.7,387.9 521.9,385.8 522.0,378.7 522.1,391.6 522.2,381.9 522.3,372.9 522.5,370.5 522.6,374.5 522.7,361.0 522.8,374.2 523.0,380.6 523.1,367.6 523.2,350.8 523.3,385.6 523.5,381.2 523.6,389.0 523.7,387.0 523.8,389.2 523.9,396.8 524.1,385.6 524.2,385.1 524.3,370.9 524.4,388.2 524.6,357.6 524.7,371.8 524.8,375.9 524.9,369.0 525.1,368.8 525.2,373.6 525.3,361.0 525.4,374.0 525.5,373.2 525.7,362.1 525.8,371.3 525.9,374.0 526.0,375.5 526.2,348.3 526.3,367.1 526.4,374.5 526.5,352.2 526.7,378.8 526.8,364.7 526.9,371.7 527.0,396.5 527.1,377.3 527.3,338.4 527.4,376.7 527.5,356.3 527.6,371.9 527.8,371.3 527.9,371.7 528.0,374.0 528.1,365.2 528.3,376.3 528.4,360.8 528.5,365.5 528.6,361.7 528.7,370.3 528.9,380.9 529.0,365.0 529.1,377.5 529.2,367.2 529.4,375.4 529.5,387.3 529.6,383.8 529.7,388.5 529.9,376.8 530.0,370.5 530.1,388.3 530.2,379.6 530.3,387.7 530.5,379.8 530.6,379.8 530.7,402.2 530.8,386.6 531.0,380.8 531.1,380.7 531.2,377.2 531.3,363.2 531.5,356.2 531.6,366.8 531.7,358.5 531.8,357.7 531.9,354.3 532.1,366.9 532.2,371.8 532.3,381.5 532.4,366.8 532.6,368.7 532.7,373.3 532.8,373.5 532.9,370.3 533.1,375.2 533.2,373.5 533.3,374.5 533.4,368.7 533.5,371.0 533.7,373.9 533.8,378.8 533.9,373.9 534.0,375.7 534.2,369.2 534.3,374.6 534.4,377.9 534.5,377.4 534.7,379.9 534.8,372.8 534.9,370.9 535.0,387.3 535.1,387.4 535.3,378.5 535.4,384.0 535.5,389.0 535.6,375.6 535.8,372.8 535.9,377.5 536.0,383.6 536.1,363.6 536.3,370.0 536.4,375.3 536.5,361.2 536.6,379.9 536.7,363.7 536.9,367.9 537.0,373.2 537.1,370.3 537.2,392.6 537.4,382.6 537.5,382.2 537.6,391.7 537.7,380.7 537.8,376.4 538.0,376.8 538.1,375.5 538.2,374.6 538.3,363.0 538.5,369.3 538.6,368.1 538.7,369.2 538.8,365.1 539.0,357.7 539.1,373.6 539.2,361.3 539.3,368.9 539.4,356.7 539.6,353.8 539.7,361.1 539.8,357.6 539.9,366.9 540.1,368.4 540.2,370.4 540.3,359.0 540.4,353.7 540.6,376.0 540.7,355.8 540.8,359.4 540.9,356.7 541.0,359.1 541.2,341.3 541.3,354.2 541.4,349.1 541.5,346.0 541.7,353.0 541.8,358.0 541.9,366.0 542.0,361.4 542.2,366.1 542.3,357.0 542.4,349.9 542.5,361.9 542.6,353.4 542.8,335.3 542.9,353.9 543.0,362.3 543.1,377.3 543.3,366.0 543.4,369.9 543.5,367.1 543.6,364.4 543.8,372.5 543.9,366.5 544.0,382.1 544.1,384.5 544.2,372.6 544.4,374.8 544.5,362.1 544.6,357.2 544.7,389.6 544.9,373.6 545.0,371.8 545.1,368.9 545.2,369.6 545.4,366.3 545.5,370.7 545.6,370.6 545.7,357.2 545.8,355.8 546.0,356.2 546.1,365.7 546.2,366.4 546.3,376.4 546.5,353.4 546.6,381.1 546.7,380.0 546.8,364.8 547.0,371.8 547.1,368.2 547.2,366.1 547.3,369.0 547.4,369.7 547.6,357.5 547.7,345.2 547.8,364.6 547.9,361.9 548.1,378.2 548.2,371.4 548.3,362.2 548.4,365.1 548.6,353.4 548.7,359.4 548.8,361.5 548.9,361.2 549.0,356.0 549.2,358.7 549.3,353.0 549.4,371.2 549.5,369.5 549.7,385.9 549.8,382.6 549.9,370.1 550.0,363.4 550.2,359.1 550.3,365.1 550.4,352.2 550.5,366.0 550.6,356.2 550.8,357.4 550.9,357.4 551.0,359.8 551.1,385.8 551.3,347.7 551.4,355.8 551.5,369.6 551.6,352.3 551.7,374.1 551.9,368.6 552.0,341.3 552.1,349.7 552.2,353.0 552.4,357.0 552.5,357.1 552.6,358.3 552.7,359.6 552.9,357.4 553.0,345.5 553.1,379.7 553.2,367.1 553.3,375.7 553.5,376.0 553.6,370.6 553.7,376.9 553.8,370.5 554.0,373.3 554.1,371.2 554.2,363.6 554.3,353.4 554.5,348.3 554.6,347.3 554.7,344.9 554.8,346.5 554.9,337.2 555.1,326.4 555.2,343.3 555.3,357.3 555.4,364.1 555.6,360.4 555.7,356.4 555.8,364.4 555.9,356.6 556.1,353.5 556.2,374.3 556.3,362.7 556.4,364.8 556.5,363.2 556.7,393.8 556.8,348.4 556.9,353.9 557.0,382.0 557.2,369.6 557.3,351.7 557.4,362.7 557.5,369.1 557.7,362.1 557.8,352.8 557.9,360.0 558.0,362.6 558.1,353.4 558.3,345.6 558.4,365.5 558.5,356.0 558.6,361.0 558.8,350.2 558.9,377.9 559.0,368.9 559.1,364.5 559.3,352.1 559.4,362.5 559.5,368.6 559.6,360.8 559.7,361.1 559.9,362.2 560.0,353.0 560.1,354.1 560.2,365.5 560.4,370.3 560.5,382.6 560.6,382.2 560.7,332.2 560.9,375.4 561.0,367.8 561.1,350.0 561.2,362.8 561.3,341.2 561.5,361.2 561.6,346.8 561.7,334.4 561.8,360.4 562.0,366.9 562.1,362.8 562.2,378.9 562.3,377.0 562.5,361.1 562.6,364.1 562.7,375.5 562.8,363.8 562.9,356.2 563.1,372.3 563.2,356.0 563.3,370.7 563.4,364.0 563.6,359.8 563.7,361.5 563.8,373.2 563.9,369.5 564.1,359.3 564.2,360.4 564.3,384.3 564.4,358.8 564.5,366.7 564.7,347.4 564.8,357.7 564.9,359.6 565.0,380.8 565.2,369.2 565.3,375.1 565.4,394.0 565.5,369.7 565.6,384.0 565.8,369.5 565.9,367.4 566.0,368.4 566.1,369.1 566.3,367.3 566.4,369.5 566.5,377.8 566.6,375.4 566.8,365.9 566.9,374.5 567.0,370.9 567.1,363.7 567.2,359.2 567.4,372.6 567.5,378.8 567.6,383.3 567.7,398.8 567.9,377.4 568.0,388.5 568.1,397.4 568.2,387.6 568.4,389.8 568.5,389.3 568.6,388.0 568.7,368.6 568.8,382.7 569.0,363.2 569.1,366.9 569.2,364.1 569.3,379.4 569.5,376.6 569.6,387.1 569.7,398.8 569.8,372.1 570.0,379.7 570.1,389.6 570.2,381.4 570.3,398.8 570.4,386.6 570.6,390.7 570.7,376.4 570.8,394.6 570.9,373.4 571.1,375.9 571.2,356.4 571.3,366.3 571.4,376.5 571.6,357.2 571.7,365.4 571.8,338.9 571.9,348.0 572.0,347.5 572.2,336.4 572.3,336.4 572.4,339.7 572.5,340.0 572.7,347.7 572.8,356.7 572.9,356.9 573.0,367.8 573.2,366.2 573.3,365.9 573.4,345.6 573.5,361.2 573.6,346.8 573.8,358.1 573.9,362.6 574.0,336.4 574.1,354.0 574.3,350.9 574.4,350.8 574.5,363.1 574.6,364.7 574.8,370.4 574.9,336.4 575.0,367.0 575.1,366.7 575.2,362.8 575.4,350.0 575.5,352.6 575.6,362.5 575.7,378.4 575.9,373.8 576.0,365.5 576.1,377.4 576.2,369.6 576.4,370.6 576.5,369.4 576.6,365.8 576.7,368.8 576.8,365.6 577.0,378.1 577.1,360.4 577.2,359.0 577.3,366.4 577.5,375.6 577.6,367.5 577.7,365.4 577.8,364.8 578.0,353.0 578.1,368.6 578.2,363.8 578.3,356.5 578.4,357.4 578.6,358.1 578.7,368.8 578.8,358.8 578.9,373.2 579.1,374.7 579.2,352.9 579.3,369.7 579.4,371.9 579.6,346.3 579.7,380.8 579.8,361.1 579.9,373.3 580.0,369.8 580.2,363.3 580.3,354.8 580.4,363.8 580.5,375.1 580.7,372.0 580.8,356.1 580.9,371.8 581.0,346.1 581.1,345.9 581.3,343.8 581.4,365.5 581.5,359.6 581.6,336.4 581.8,336.4 581.9,346.1 582.0,344.4 582.1,354.7 582.3,368.6 582.4,370.9 582.5,348.7 582.6,359.4 582.7,370.5 582.9,359.6 583.0,376.8 583.1,378.8 583.2,370.2 583.4,365.8 583.5,367.6 583.6,371.9 583.7,361.3 583.9,372.8 584.0,372.4 584.1,379.8 584.2,373.6 584.3,373.5 584.5,366.3 584.6,361.0 584.7,376.4 584.8,362.9 585.0,362.0 585.1,380.1 585.2,354.2 585.3,367.3 585.5,356.2 585.6,366.0 585.7,343.0 585.8,352.0 585.9,364.1 586.1,368.5 586.2,374.2 586.3,377.1 586.4,375.1 586.6,366.0 586.7,360.3 586.8,359.1 586.9,350.8 587.1,337.2 587.2,360.7 587.3,361.3 587.4,357.4 587.5,340.1 587.7,359.9 587.8,366.6 587.9,364.4 588.0,372.5 588.2,380.0 588.3,396.7 588.4,384.0 588.5,384.3 588.7,376.1 588.8,371.1 588.9,387.3 589.0,372.9 589.1,363.7 589.3,374.8 589.4,380.7 589.5,376.6 589.6,377.1 589.8,365.5 589.9,366.9 590.0,364.3 590.1,366.0 590.3,375.4 590.4,360.9 590.5,355.2 590.6,359.4 590.7,381.7 590.9,361.6 591.0,362.2 591.1,382.3 591.2,359.9 591.4,364.2 591.5,360.1 591.6,359.1 591.7,351.7 591.9,349.0 592.0,357.5 592.1,360.4 592.2,359.5 592.3,350.9 592.5,360.6 592.6,361.5 592.7,381.0 592.8,362.9 593.0,354.0 593.1,360.5 593.2,373.1 593.3,379.2 593.5,384.6 593.6,375.4 593.7,380.6 593.8,378.1 593.9,383.8 594.1,362.7 594.2,351.8 594.3,368.6 594.4,350.6 594.6,356.1 594.7,349.2 594.8,360.2 594.9,360.1 595.0,370.0 595.2,358.7 595.3,353.6 595.4,360.0 595.5,365.8 595.7,373.1 595.8,368.3 595.9,337.3 596.0,363.6 596.2,365.8 596.3,366.8 596.4,357.4 596.5,371.4 596.6,387.9 596.8,374.9 596.9,398.1 597.0,386.9 597.1,371.6 597.3,396.3 597.4,386.8 597.5,380.4 597.6,375.2 597.8,382.3 597.9,360.6 598.0,387.3 598.1,369.4 598.2,361.5 598.4,379.2 598.5,374.5 598.6,373.8 598.7,366.9 598.9,375.4 599.0,400.0 599.1,378.6 599.2,390.1 599.4,392.6 599.5,388.2 599.6,378.6 599.7,367.7 599.8,351.3 600.0,367.9 600.1,370.8 600.2,371.1 600.3,358.4 600.5,355.1 600.6,358.2 600.7,370.3 600.8,376.5 601.0,367.0 601.1,372.8 601.2,369.7 601.3,366.5 601.4,357.9 601.6,355.4 601.7,359.7 601.8,355.6 601.9,382.0 602.1,376.3 602.2,372.3 602.3,357.6 602.4,366.5 602.6,374.1 602.7,367.2 602.8,376.0 602.9,373.4 603.0,370.9 603.2,377.7 603.3,406.2 603.4,384.5 603.5,361.9 603.7,361.1 603.8,371.0 603.9,364.3 604.0,356.9 604.2,393.3 604.3,379.9 604.4,360.1 604.5,364.0 604.6,383.4 604.8,371.6 604.9,375.3 605.0,397.3 605.1,382.7 605.3,388.2 605.4,387.6 605.5,389.0 605.6,384.7 605.8,383.1 605.9,390.9 606.0,391.9 606.1,394.5 606.2,375.9 606.4,370.6 606.5,366.3 606.6,371.1 606.7,384.3 606.9,387.1 607.0,388.1 607.1,380.0 607.2,388.0 607.4,375.8 607.5,361.5 607.6,356.2 607.7,387.1 607.8,376.3 608.0,371.3 608.1,378.8 608.2,387.9 608.3,387.4 608.5,386.1 608.6,368.7 608.7,378.2 608.8,372.3 608.9,368.2 609.1,373.4 609.2,369.3 609.3,377.5 609.4,389.3 609.6,374.3 609.7,388.1 609.8,362.3 609.9,375.4 610.1,374.1 610.2,371.8 610.3,369.5 610.4,376.2 610.5,367.2 610.7,377.7 610.8,375.1 610.9,369.9 611.0,374.4 611.2,381.5 611.3,384.9 611.4,368.3 611.5,363.6 611.7,379.0 611.8,363.5 611.9,362.8 612.0,358.4 612.1,359.3 612.3,383.4 612.4,379.1 612.5,382.4 612.6,369.4 612.8,372.6 612.9,360.3 613.0,358.5 613.1,362.0 613.3,364.1 613.4,376.4 613.5,343.6 613.6,355.4 613.7,370.0 613.9,355.4 614.0,361.6 614.1,376.4 614.2,385.1 614.4,370.7 614.5,358.3 614.6,367.8 614.7,368.9 614.9,352.4 615.0,365.1 615.1,395.3 615.2,369.2 615.3,359.5 615.5,350.3 615.6,349.9 615.7,362.8 615.8,350.1 616.0,374.4 616.1,370.5 616.2,375.1 616.3,348.6 616.5,352.9 616.6,348.8 616.7,365.0 616.8,362.8 616.9,379.8 617.1,386.3 617.2,359.3 617.3,380.4 617.4,382.5 617.6,376.1 617.7,368.2 617.8,371.1 617.9,354.8 618.1,359.8 618.2,358.8 618.3,372.4 618.4,393.2 618.5,363.5 618.7,359.5 618.8,370.9 618.9,377.5 619.0,357.1 619.2,354.8 619.3,359.4 619.4,378.6 619.5,362.3 619.7,349.8 619.8,370.6 619.9,356.8 620.0,369.4 620.1,373.1 620.3,369.8 620.4,380.4 620.5,365.6 620.6,398.8 620.8,388.6 620.9,369.6 621.0,382.7 621.1,389.1 621.3,366.0 621.4,376.5 621.5,398.6 621.6,357.5 621.7,360.6 621.9,365.9 622.0,337.6 622.1,369.3 622.2,398.7 622.4,381.9 622.5,367.0 622.6,385.8 622.7,378.1 622.9,371.3 623.0,380.0 623.1,377.2 623.2,363.1 623.3,380.1 623.5,375.0 623.6,369.1 623.7,357.5 623.8,370.0 624.0,349.3 624.1,360.6 624.2,364.8 624.3,360.5 624.4,358.4 624.6,339.8 624.7,346.2 624.8,356.0 624.9,361.2 625.1,347.8 625.2,351.9 625.3,333.9 625.4,348.8 625.6,371.6 625.7,374.7 625.8,355.2 625.9,371.8 626.0,357.2 626.2,379.1 626.3,379.4 626.4,362.4 626.5,395.2 626.7,380.2 626.8,378.4 626.9,378.2 627.0,379.4 627.2,380.9 627.3,377.9 627.4,372.7 627.5,365.9 627.6,364.3 627.8,366.8 627.9,373.3 628.0,387.0 628.1,381.0 628.3,378.8 628.4,380.8 628.5,386.4 628.6,388.6 628.8,386.8 628.9,373.4 629.0,388.4 629.1,379.9 629.2,388.2 629.4,397.2 629.5,384.5 629.6,403.9 629.7,381.5 629.9,381.8 630.0,385.0 630.1,387.0 630.2,385.6 630.4,389.8 630.5,389.7 630.6,396.1" fill="none" stroke="#f00404" stroke-width="0.9" stroke-linejoin="bevel" opacity="1"/>
<use href="#s7" stroke="#0808d8" stroke-width="0.6" opacity="0.15"/>
<line x1="384.7" y1="319.7" x2="630.6" y2="319.7" stroke="#444" stroke-width="1.3"/>
<line x1="384.7" y1="486.3" x2="630.6" y2="486.3" stroke="#999" stroke-width="1"/>
<line x1="384.7" y1="319.7" x2="384.7" y2="486.3" stroke="#bbb" stroke-width="1"/>
<line x1="630.6" y1="319.7" x2="630.6" y2="486.3" stroke="#777" stroke-width="1.2"/>
<path d="M384.7 486.3v-5M384.7 319.7v5M433.9 486.3v-5M433.9 319.7v5M483.1 486.3v-5M483.1 319.7v5M532.2 486.3v-5M532.2 319.7v5M581.4 486.3v-5M581.4 319.7v5M630.6 486.3v-5M630.6 319.7v5M409.3 486.3v-2.5M409.3 319.7v2.5M458.5 486.3v-2.5M458.5 319.7v2.5M507.6 486.3v-2.5M507.6 319.7v2.5M556.8 486.3v-2.5M556.8 319.7v2.5M606.0 486.3v-2.5M606.0 319.7v2.5M384.7 486.3h5M630.6 486.3h-5M384.7 444.6h5M630.6 444.6h-5M384.7 403.0h5M630.6 403.0h-5M384.7 361.4h5M630.6 361.4h-5M384.7 319.7h5M630.6 319.7h-5M384.7 465.5h2.5M630.6 465.5h-2.5M384.7 423.8h2.5M630.6 423.8h-2.5M384.7 382.2h2.5M630.6 382.2h-2.5M384.7 340.5h2.5M630.6 340.5h-2.5" stroke="#666" stroke-width="0.8" fill="none"/>
<rect x="383.09999999999997" y="318.09999999999997" width="3.2" height="3.2" fill="#111"/>
<rect x="629.0" y="318.09999999999997" width="3.2" height="3.2" fill="#111"/>
<rect x="383.09999999999997" y="484.7" width="3.2" height="3.2" fill="#111"/>
<rect x="629.0" y="484.7" width="3.2" height="3.2" fill="#111"/>
<text x="384.7" y="493.8" font-family='"Liberation Serif", serif' font-size="7.2" text-anchor="middle" fill="#222" stroke="#222" stroke-width="0.12">0</text>
<text x="433.9" y="493.8" font-family='"Liberation Serif", serif' font-size="7.2" text-anchor="middle" fill="#222" stroke="#222" stroke-width="0.12">20000</text>
<text x="483.1" y="493.8" font-family='"Liberation Serif", serif' font-size="7.2" text-anchor="middle" fill="#222" stroke="#222" stroke-width="0.12">40000</text>
<text x="532.2" y="493.8" font-family='"Liberation Serif", serif' font-size="7.2" text-anchor="middle" fill="#222" stroke="#222" stroke-width="0.12">60000</text>
<text x="581.4" y="493.8" font-family='"Liberation Serif", serif' font-size="7.2" text-anchor="middle" fill="#222" stroke="#222" stroke-width="0.12">80000</text>
<text x="630.6" y="493.8" font-family='"Liberation Serif", serif' font-size="7.2" text-anchor="middle" fill="#222" stroke="#222" stroke-width="0.12">1e+05</text>
<text x="382.7" y="488.8" font-family='"Liberation Serif", serif' font-size="7.2" text-anchor="end" fill="#222" stroke="#222" stroke-width="0.12">220</text>
<text x="382.7" y="447.1" font-family='"Liberation Serif", serif' font-size="7.2" text-anchor="end" fill="#222" stroke="#222" stroke-width="0.12">230</text>
<text x="382.7" y="405.5" font-family='"Liberation Serif", serif' font-size="7.2" text-anchor="end" fill="#222" stroke="#222" stroke-width="0.12">240</text>
<text x="382.7" y="363.9" font-family='"Liberation Serif", serif' font-size="7.2" text-anchor="end" fill="#222" stroke="#222" stroke-width="0.12">250</text>
<text x="382.7" y="322.2" font-family='"Liberation Serif", serif' font-size="7.2" text-anchor="end" fill="#222" stroke="#222" stroke-width="0.12">260</text>
<text x="509.7" y="507.9" font-family='"Liberation Sans", sans-serif' font-size="9.6" text-anchor="middle" fill="#111" textLength="38.5" lengthAdjust="spacingAndGlyphs" stroke="#111" stroke-width="0.25">Time (ps)</text>
<text x="366" y="401" font-family='"Liberation Sans", sans-serif' font-size="9.6" text-anchor="middle" fill="#111" textLength="41" lengthAdjust="spacingAndGlyphs" stroke="#111" stroke-width="0.25" transform="rotate(-90 366 401)">Area (nm)</text>
<text x="505.5" y="533" font-family='"Liberation Sans", sans-serif' font-size="9.6" text-anchor="middle" fill="#111" textLength="11.7" lengthAdjust="spacingAndGlyphs" stroke="#111" stroke-width="0.25">(d)</text>
<line x1="230.2" y1="573.5" x2="458.3" y2="573.5" stroke="#333" stroke-width="1"/>
<line x1="230.2" y1="734.7" x2="458.3" y2="734.7" stroke="#bbb" stroke-width="1"/>
<line x1="230.2" y1="573.5" x2="230.2" y2="734.7" stroke="#ccc" stroke-width="1"/>
<line x1="458.3" y1="573.5" x2="458.3" y2="734.7" stroke="#555" stroke-width="1"/>
<path d="M230.2 734.7v-5M230.2 573.5v5M275.8 734.7v-5M275.8 573.5v5M321.4 734.7v-5M321.4 573.5v5M367.1 734.7v-5M367.1 573.5v5M412.7 734.7v-5M412.7 573.5v5M458.3 734.7v-5M458.3 573.5v5M253.0 734.7v-2.5M253.0 573.5v2.5M298.6 734.7v-2.5M298.6 573.5v2.5M344.2 734.7v-2.5M344.2 573.5v2.5M389.9 734.7v-2.5M389.9 573.5v2.5M435.5 734.7v-2.5M435.5 573.5v2.5M230.2 734.7h5M458.3 734.7h-5M230.2 694.4h5M458.3 694.4h-5M230.2 654.1h5M458.3 654.1h-5M230.2 613.8h5M458.3 613.8h-5M230.2 573.5h5M458.3 573.5h-5M230.2 714.6h2.5M458.3 714.6h-2.5M230.2 674.2h2.5M458.3 674.2h-2.5M230.2 634.0h2.5M458.3 634.0h-2.5M230.2 593.6h2.5M458.3 593.6h-2.5" stroke="#666" stroke-width="0.8" fill="none"/>
<rect x="228.7" y="572.0" width="3" height="3" fill="#111"/>
<rect x="456.8" y="572.0" width="3" height="3" fill="#111"/>
<rect x="228.7" y="733.2" width="3" height="3" fill="#111"/>
<rect x="456.8" y="733.2" width="3" height="3" fill="#111"/>
<text x="230.2" y="741.7" font-family='"Liberation Serif", serif' font-size="6" text-anchor="middle" fill="#222" stroke="#222" stroke-width="0.12">0</text>
<text x="275.8" y="741.7" font-family='"Liberation Serif", serif' font-size="6" text-anchor="middle" fill="#222" stroke="#222" stroke-width="0.12">1000</text>
<text x="321.4" y="741.7" font-family='"Liberation Serif", serif' font-size="6" text-anchor="middle" fill="#222" stroke="#222" stroke-width="0.12">2000</text>
<text x="367.1" y="741.7" font-family='"Liberation Serif", serif' font-size="6" text-anchor="middle" fill="#222" stroke="#222" stroke-width="0.12">3000</text>
<text x="412.7" y="741.7" font-family='"Liberation Serif", serif' font-size="6" text-anchor="middle" fill="#222" stroke="#222" stroke-width="0.12">4000</text>
<text x="458.3" y="741.7" font-family='"Liberation Serif", serif' font-size="6" text-anchor="middle" fill="#222" stroke="#222" stroke-width="0.12">5000</text>
<text x="228.2" y="737.2" font-family='"Liberation Serif", serif' font-size="6" text-anchor="end" fill="#222" stroke="#222" stroke-width="0.12">0</text>
<text x="228.2" y="696.9" font-family='"Liberation Serif", serif' font-size="6" text-anchor="end" fill="#222" stroke="#222" stroke-width="0.12">5</text>
<text x="228.2" y="656.6" font-family='"Liberation Serif", serif' font-size="6" text-anchor="end" fill="#222" stroke="#222" stroke-width="0.12">10</text>
<text x="228.2" y="616.3" font-family='"Liberation Serif", serif' font-size="6" text-anchor="end" fill="#222" stroke="#222" stroke-width="0.12">15</text>
<text x="228.2" y="576.0" font-family='"Liberation Serif", serif' font-size="6" text-anchor="end" fill="#222" stroke="#222" stroke-width="0.12">20</text>
<line x1="230.6" y1="576" x2="230.6" y2="734" stroke="#e6b4b4" stroke-width="0.7"/>
<polyline points="230.8,720 231.2,730 232.5,733.6 236,734.2 241,734.3" fill="none" stroke="#c03030" stroke-width="0.8"/>
<text x="344" y="753.5" font-family='"Liberation Sans", sans-serif' font-size="9.6" text-anchor="middle" fill="#111" textLength="70" lengthAdjust="spacingAndGlyphs" stroke="#111" stroke-width="0.25">Eigenvector index</text>
<text x="218.5" y="656.5" font-family='"Liberation Sans", sans-serif' font-size="9.6" text-anchor="middle" fill="#111" textLength="19" lengthAdjust="spacingAndGlyphs" stroke="#111" stroke-width="0.25" transform="rotate(-90 218.5 656.5)">(nm)</text>
<text x="347" y="782.5" font-family='"Liberation Sans", sans-serif' font-size="9.6" text-anchor="middle" fill="#111" textLength="11.5" lengthAdjust="spacingAndGlyphs" stroke="#111" stroke-width="0.25">(e)</text>
</svg></body></html>
